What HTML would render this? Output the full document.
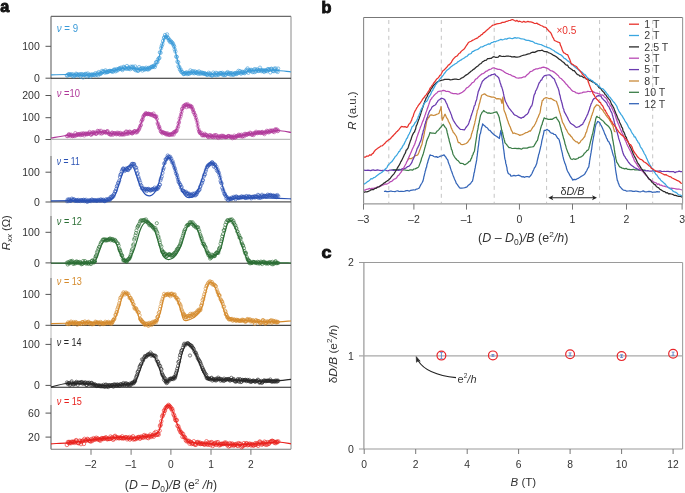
<!DOCTYPE html>
<html><head><meta charset="utf-8"><style>
html,body{margin:0;padding:0;background:#fff;width:685px;height:493px;overflow:hidden}
svg{display:block;will-change:transform}
text{font-family:"Liberation Sans", sans-serif}
</style></head><body>
<svg width="685" height="493" viewBox="0 0 685 493">
<rect width="685" height="493" fill="#fff"/>
<line x1="51" y1="16.4" x2="51" y2="449.2" stroke="#b8b8b8" stroke-width="1"/>
<line x1="51" y1="16.4" x2="51" y2="78.2" stroke="#808080" stroke-width="1.1"/>
<line x1="51" y1="95.5" x2="51" y2="139.5" stroke="#808080" stroke-width="1.1"/>
<line x1="51" y1="156" x2="51" y2="202" stroke="#808080" stroke-width="1.1"/>
<line x1="51" y1="216" x2="51" y2="263" stroke="#808080" stroke-width="1.1"/>
<line x1="51" y1="278" x2="51" y2="325.4" stroke="#808080" stroke-width="1.1"/>
<line x1="51" y1="338" x2="51" y2="387.3" stroke="#808080" stroke-width="1.1"/>
<line x1="51" y1="405" x2="51" y2="449.2" stroke="#808080" stroke-width="1.1"/>
<line x1="51" y1="16.4" x2="291" y2="16.4" stroke="#6a6a6a" stroke-width="1.1"/>
<line x1="291" y1="16.4" x2="291" y2="449.2" stroke="#8a8a8a" stroke-width="1"/>
<line x1="51" y1="449.2" x2="291" y2="449.2" stroke="#777" stroke-width="1.1"/>
<line x1="91" y1="449.2" x2="91" y2="454.8" stroke="#777" stroke-width="1"/>
<text x="91" y="468.2" font-size="10.2" text-anchor="middle" fill="#333">–2</text>
<line x1="131.1" y1="449.2" x2="131.1" y2="454.8" stroke="#777" stroke-width="1"/>
<text x="131.1" y="468.2" font-size="10.2" text-anchor="middle" fill="#333">–1</text>
<line x1="170.9" y1="449.2" x2="170.9" y2="454.8" stroke="#777" stroke-width="1"/>
<text x="170.9" y="468.2" font-size="10.2" text-anchor="middle" fill="#333">0</text>
<line x1="211" y1="449.2" x2="211" y2="454.8" stroke="#777" stroke-width="1"/>
<text x="211" y="468.2" font-size="10.2" text-anchor="middle" fill="#333">1</text>
<line x1="250.9" y1="449.2" x2="250.9" y2="454.8" stroke="#777" stroke-width="1"/>
<text x="250.9" y="468.2" font-size="10.2" text-anchor="middle" fill="#333">2</text>
<line x1="51" y1="78.2" x2="291" y2="78.2" stroke="#222" stroke-width="1.1"/>
<line x1="45.5" y1="46.3" x2="51" y2="46.3" stroke="#555" stroke-width="1"/>
<text x="39.8" y="50.0" font-size="10.5" text-anchor="end" fill="#333">100</text>
<line x1="45.5" y1="78.2" x2="51" y2="78.2" stroke="#555" stroke-width="1"/>
<text x="39.8" y="81.9" font-size="10.5" text-anchor="end" fill="#333">0</text>
<text x="56.8" y="32.0" font-size="10.7" textLength="21.3" lengthAdjust="spacingAndGlyphs" fill="#3a9ad8"><tspan font-style="italic">ν</tspan> = 9</text>
<path d="M65.2 75.3a1.7 1.7 0 1 0 3.4 0a1.7 1.7 0 1 0 -3.4 0M65.8 75.6a1.7 1.7 0 1 0 3.4 0a1.7 1.7 0 1 0 -3.4 0M66.6 74.3a1.7 1.7 0 1 0 3.4 0a1.7 1.7 0 1 0 -3.4 0M67.3 74.8a1.7 1.7 0 1 0 3.4 0a1.7 1.7 0 1 0 -3.4 0M67.7 74.2a1.7 1.7 0 1 0 3.4 0a1.7 1.7 0 1 0 -3.4 0M68.4 74.7a1.7 1.7 0 1 0 3.4 0a1.7 1.7 0 1 0 -3.4 0M69.2 74.8a1.7 1.7 0 1 0 3.4 0a1.7 1.7 0 1 0 -3.4 0M69.7 74.2a1.7 1.7 0 1 0 3.4 0a1.7 1.7 0 1 0 -3.4 0M70.6 75.8a1.7 1.7 0 1 0 3.4 0a1.7 1.7 0 1 0 -3.4 0M71.1 74.3a1.7 1.7 0 1 0 3.4 0a1.7 1.7 0 1 0 -3.4 0M72.0 76.4a1.7 1.7 0 1 0 3.4 0a1.7 1.7 0 1 0 -3.4 0M72.4 75.3a1.7 1.7 0 1 0 3.4 0a1.7 1.7 0 1 0 -3.4 0M73.0 75.3a1.7 1.7 0 1 0 3.4 0a1.7 1.7 0 1 0 -3.4 0M73.9 75.3a1.7 1.7 0 1 0 3.4 0a1.7 1.7 0 1 0 -3.4 0M74.3 73.7a1.7 1.7 0 1 0 3.4 0a1.7 1.7 0 1 0 -3.4 0M75.0 74.2a1.7 1.7 0 1 0 3.4 0a1.7 1.7 0 1 0 -3.4 0M75.7 75.2a1.7 1.7 0 1 0 3.4 0a1.7 1.7 0 1 0 -3.4 0M76.2 75.1a1.7 1.7 0 1 0 3.4 0a1.7 1.7 0 1 0 -3.4 0M77.1 74.3a1.7 1.7 0 1 0 3.4 0a1.7 1.7 0 1 0 -3.4 0M77.7 75.3a1.7 1.7 0 1 0 3.4 0a1.7 1.7 0 1 0 -3.4 0M78.3 74.5a1.7 1.7 0 1 0 3.4 0a1.7 1.7 0 1 0 -3.4 0M79.0 76.5a1.7 1.7 0 1 0 3.4 0a1.7 1.7 0 1 0 -3.4 0M79.5 74.1a1.7 1.7 0 1 0 3.4 0a1.7 1.7 0 1 0 -3.4 0M80.4 74.6a1.7 1.7 0 1 0 3.4 0a1.7 1.7 0 1 0 -3.4 0M81.0 74.5a1.7 1.7 0 1 0 3.4 0a1.7 1.7 0 1 0 -3.4 0M81.4 77.5a1.7 1.7 0 1 0 3.4 0a1.7 1.7 0 1 0 -3.4 0M82.2 75.1a1.7 1.7 0 1 0 3.4 0a1.7 1.7 0 1 0 -3.4 0M82.8 74.6a1.7 1.7 0 1 0 3.4 0a1.7 1.7 0 1 0 -3.4 0M83.3 74.4a1.7 1.7 0 1 0 3.4 0a1.7 1.7 0 1 0 -3.4 0M84.2 73.8a1.7 1.7 0 1 0 3.4 0a1.7 1.7 0 1 0 -3.4 0M85.0 74.6a1.7 1.7 0 1 0 3.4 0a1.7 1.7 0 1 0 -3.4 0M85.5 76.4a1.7 1.7 0 1 0 3.4 0a1.7 1.7 0 1 0 -3.4 0M86.1 73.5a1.7 1.7 0 1 0 3.4 0a1.7 1.7 0 1 0 -3.4 0M86.9 75.6a1.7 1.7 0 1 0 3.4 0a1.7 1.7 0 1 0 -3.4 0M87.4 74.9a1.7 1.7 0 1 0 3.4 0a1.7 1.7 0 1 0 -3.4 0M88.1 74.7a1.7 1.7 0 1 0 3.4 0a1.7 1.7 0 1 0 -3.4 0M88.8 76.6a1.7 1.7 0 1 0 3.4 0a1.7 1.7 0 1 0 -3.4 0M89.3 74.8a1.7 1.7 0 1 0 3.4 0a1.7 1.7 0 1 0 -3.4 0M90.0 74.7a1.7 1.7 0 1 0 3.4 0a1.7 1.7 0 1 0 -3.4 0M90.6 74.6a1.7 1.7 0 1 0 3.4 0a1.7 1.7 0 1 0 -3.4 0M91.2 74.9a1.7 1.7 0 1 0 3.4 0a1.7 1.7 0 1 0 -3.4 0M92.1 74.8a1.7 1.7 0 1 0 3.4 0a1.7 1.7 0 1 0 -3.4 0M92.5 74.5a1.7 1.7 0 1 0 3.4 0a1.7 1.7 0 1 0 -3.4 0M93.4 75.3a1.7 1.7 0 1 0 3.4 0a1.7 1.7 0 1 0 -3.4 0M93.7 73.2a1.7 1.7 0 1 0 3.4 0a1.7 1.7 0 1 0 -3.4 0M94.7 74.5a1.7 1.7 0 1 0 3.4 0a1.7 1.7 0 1 0 -3.4 0M95.3 74.5a1.7 1.7 0 1 0 3.4 0a1.7 1.7 0 1 0 -3.4 0M95.8 73.3a1.7 1.7 0 1 0 3.4 0a1.7 1.7 0 1 0 -3.4 0M96.4 75.4a1.7 1.7 0 1 0 3.4 0a1.7 1.7 0 1 0 -3.4 0M97.0 72.1a1.7 1.7 0 1 0 3.4 0a1.7 1.7 0 1 0 -3.4 0M97.7 73.6a1.7 1.7 0 1 0 3.4 0a1.7 1.7 0 1 0 -3.4 0M98.4 74.0a1.7 1.7 0 1 0 3.4 0a1.7 1.7 0 1 0 -3.4 0M99.1 73.2a1.7 1.7 0 1 0 3.4 0a1.7 1.7 0 1 0 -3.4 0M99.7 73.2a1.7 1.7 0 1 0 3.4 0a1.7 1.7 0 1 0 -3.4 0M100.3 70.9a1.7 1.7 0 1 0 3.4 0a1.7 1.7 0 1 0 -3.4 0M101.1 71.9a1.7 1.7 0 1 0 3.4 0a1.7 1.7 0 1 0 -3.4 0M101.7 71.6a1.7 1.7 0 1 0 3.4 0a1.7 1.7 0 1 0 -3.4 0M102.2 71.6a1.7 1.7 0 1 0 3.4 0a1.7 1.7 0 1 0 -3.4 0M103.2 72.7a1.7 1.7 0 1 0 3.4 0a1.7 1.7 0 1 0 -3.4 0M103.8 70.3a1.7 1.7 0 1 0 3.4 0a1.7 1.7 0 1 0 -3.4 0M104.3 71.6a1.7 1.7 0 1 0 3.4 0a1.7 1.7 0 1 0 -3.4 0M105.0 72.1a1.7 1.7 0 1 0 3.4 0a1.7 1.7 0 1 0 -3.4 0M105.4 72.2a1.7 1.7 0 1 0 3.4 0a1.7 1.7 0 1 0 -3.4 0M106.1 71.7a1.7 1.7 0 1 0 3.4 0a1.7 1.7 0 1 0 -3.4 0M106.8 71.4a1.7 1.7 0 1 0 3.4 0a1.7 1.7 0 1 0 -3.4 0M107.4 71.2a1.7 1.7 0 1 0 3.4 0a1.7 1.7 0 1 0 -3.4 0M108.0 70.9a1.7 1.7 0 1 0 3.4 0a1.7 1.7 0 1 0 -3.4 0M109.0 71.0a1.7 1.7 0 1 0 3.4 0a1.7 1.7 0 1 0 -3.4 0M109.5 71.1a1.7 1.7 0 1 0 3.4 0a1.7 1.7 0 1 0 -3.4 0M110.1 71.1a1.7 1.7 0 1 0 3.4 0a1.7 1.7 0 1 0 -3.4 0M110.7 71.7a1.7 1.7 0 1 0 3.4 0a1.7 1.7 0 1 0 -3.4 0M111.6 71.5a1.7 1.7 0 1 0 3.4 0a1.7 1.7 0 1 0 -3.4 0M112.1 69.7a1.7 1.7 0 1 0 3.4 0a1.7 1.7 0 1 0 -3.4 0M112.6 70.0a1.7 1.7 0 1 0 3.4 0a1.7 1.7 0 1 0 -3.4 0M113.3 69.6a1.7 1.7 0 1 0 3.4 0a1.7 1.7 0 1 0 -3.4 0M113.9 71.3a1.7 1.7 0 1 0 3.4 0a1.7 1.7 0 1 0 -3.4 0M114.5 70.5a1.7 1.7 0 1 0 3.4 0a1.7 1.7 0 1 0 -3.4 0M115.2 69.0a1.7 1.7 0 1 0 3.4 0a1.7 1.7 0 1 0 -3.4 0M116.0 70.3a1.7 1.7 0 1 0 3.4 0a1.7 1.7 0 1 0 -3.4 0M116.8 69.3a1.7 1.7 0 1 0 3.4 0a1.7 1.7 0 1 0 -3.4 0M117.4 68.7a1.7 1.7 0 1 0 3.4 0a1.7 1.7 0 1 0 -3.4 0M117.9 68.2a1.7 1.7 0 1 0 3.4 0a1.7 1.7 0 1 0 -3.4 0M118.5 68.9a1.7 1.7 0 1 0 3.4 0a1.7 1.7 0 1 0 -3.4 0M119.4 67.6a1.7 1.7 0 1 0 3.4 0a1.7 1.7 0 1 0 -3.4 0M119.8 68.8a1.7 1.7 0 1 0 3.4 0a1.7 1.7 0 1 0 -3.4 0M120.7 70.1a1.7 1.7 0 1 0 3.4 0a1.7 1.7 0 1 0 -3.4 0M121.3 69.0a1.7 1.7 0 1 0 3.4 0a1.7 1.7 0 1 0 -3.4 0M121.9 66.8a1.7 1.7 0 1 0 3.4 0a1.7 1.7 0 1 0 -3.4 0M122.4 67.4a1.7 1.7 0 1 0 3.4 0a1.7 1.7 0 1 0 -3.4 0M123.0 68.1a1.7 1.7 0 1 0 3.4 0a1.7 1.7 0 1 0 -3.4 0M123.6 68.0a1.7 1.7 0 1 0 3.4 0a1.7 1.7 0 1 0 -3.4 0M124.5 68.8a1.7 1.7 0 1 0 3.4 0a1.7 1.7 0 1 0 -3.4 0M125.3 66.0a1.7 1.7 0 1 0 3.4 0a1.7 1.7 0 1 0 -3.4 0M125.9 68.7a1.7 1.7 0 1 0 3.4 0a1.7 1.7 0 1 0 -3.4 0M126.6 67.6a1.7 1.7 0 1 0 3.4 0a1.7 1.7 0 1 0 -3.4 0M126.9 68.5a1.7 1.7 0 1 0 3.4 0a1.7 1.7 0 1 0 -3.4 0M127.6 68.3a1.7 1.7 0 1 0 3.4 0a1.7 1.7 0 1 0 -3.4 0M128.5 69.2a1.7 1.7 0 1 0 3.4 0a1.7 1.7 0 1 0 -3.4 0M129.1 66.7a1.7 1.7 0 1 0 3.4 0a1.7 1.7 0 1 0 -3.4 0M129.8 68.3a1.7 1.7 0 1 0 3.4 0a1.7 1.7 0 1 0 -3.4 0M130.1 67.1a1.7 1.7 0 1 0 3.4 0a1.7 1.7 0 1 0 -3.4 0M131.1 66.6a1.7 1.7 0 1 0 3.4 0a1.7 1.7 0 1 0 -3.4 0M131.7 67.8a1.7 1.7 0 1 0 3.4 0a1.7 1.7 0 1 0 -3.4 0M132.4 68.6a1.7 1.7 0 1 0 3.4 0a1.7 1.7 0 1 0 -3.4 0M132.8 69.4a1.7 1.7 0 1 0 3.4 0a1.7 1.7 0 1 0 -3.4 0M133.5 66.5a1.7 1.7 0 1 0 3.4 0a1.7 1.7 0 1 0 -3.4 0M134.2 70.3a1.7 1.7 0 1 0 3.4 0a1.7 1.7 0 1 0 -3.4 0M134.7 68.6a1.7 1.7 0 1 0 3.4 0a1.7 1.7 0 1 0 -3.4 0M135.4 70.3a1.7 1.7 0 1 0 3.4 0a1.7 1.7 0 1 0 -3.4 0M136.3 70.8a1.7 1.7 0 1 0 3.4 0a1.7 1.7 0 1 0 -3.4 0M136.7 70.5a1.7 1.7 0 1 0 3.4 0a1.7 1.7 0 1 0 -3.4 0M137.5 67.1a1.7 1.7 0 1 0 3.4 0a1.7 1.7 0 1 0 -3.4 0M138.0 68.9a1.7 1.7 0 1 0 3.4 0a1.7 1.7 0 1 0 -3.4 0M138.6 69.3a1.7 1.7 0 1 0 3.4 0a1.7 1.7 0 1 0 -3.4 0M139.6 68.7a1.7 1.7 0 1 0 3.4 0a1.7 1.7 0 1 0 -3.4 0M140.2 68.5a1.7 1.7 0 1 0 3.4 0a1.7 1.7 0 1 0 -3.4 0M140.7 70.5a1.7 1.7 0 1 0 3.4 0a1.7 1.7 0 1 0 -3.4 0M141.2 68.0a1.7 1.7 0 1 0 3.4 0a1.7 1.7 0 1 0 -3.4 0M141.9 69.0a1.7 1.7 0 1 0 3.4 0a1.7 1.7 0 1 0 -3.4 0M142.7 69.7a1.7 1.7 0 1 0 3.4 0a1.7 1.7 0 1 0 -3.4 0M143.2 68.6a1.7 1.7 0 1 0 3.4 0a1.7 1.7 0 1 0 -3.4 0M144.1 69.1a1.7 1.7 0 1 0 3.4 0a1.7 1.7 0 1 0 -3.4 0M144.5 67.7a1.7 1.7 0 1 0 3.4 0a1.7 1.7 0 1 0 -3.4 0M145.4 69.0a1.7 1.7 0 1 0 3.4 0a1.7 1.7 0 1 0 -3.4 0M145.9 69.5a1.7 1.7 0 1 0 3.4 0a1.7 1.7 0 1 0 -3.4 0M146.6 67.9a1.7 1.7 0 1 0 3.4 0a1.7 1.7 0 1 0 -3.4 0M147.2 69.2a1.7 1.7 0 1 0 3.4 0a1.7 1.7 0 1 0 -3.4 0M147.7 68.2a1.7 1.7 0 1 0 3.4 0a1.7 1.7 0 1 0 -3.4 0M148.3 68.1a1.7 1.7 0 1 0 3.4 0a1.7 1.7 0 1 0 -3.4 0M149.1 67.2a1.7 1.7 0 1 0 3.4 0a1.7 1.7 0 1 0 -3.4 0M149.9 66.7a1.7 1.7 0 1 0 3.4 0a1.7 1.7 0 1 0 -3.4 0M150.5 66.9a1.7 1.7 0 1 0 3.4 0a1.7 1.7 0 1 0 -3.4 0M151.1 67.0a1.7 1.7 0 1 0 3.4 0a1.7 1.7 0 1 0 -3.4 0M151.8 66.1a1.7 1.7 0 1 0 3.4 0a1.7 1.7 0 1 0 -3.4 0M152.3 65.7a1.7 1.7 0 1 0 3.4 0a1.7 1.7 0 1 0 -3.4 0M153.1 67.0a1.7 1.7 0 1 0 3.4 0a1.7 1.7 0 1 0 -3.4 0M153.7 64.9a1.7 1.7 0 1 0 3.4 0a1.7 1.7 0 1 0 -3.4 0M154.3 62.2a1.7 1.7 0 1 0 3.4 0a1.7 1.7 0 1 0 -3.4 0M155.0 62.2a1.7 1.7 0 1 0 3.4 0a1.7 1.7 0 1 0 -3.4 0M155.7 62.1a1.7 1.7 0 1 0 3.4 0a1.7 1.7 0 1 0 -3.4 0M156.3 59.6a1.7 1.7 0 1 0 3.4 0a1.7 1.7 0 1 0 -3.4 0M157.1 58.4a1.7 1.7 0 1 0 3.4 0a1.7 1.7 0 1 0 -3.4 0M157.7 57.9a1.7 1.7 0 1 0 3.4 0a1.7 1.7 0 1 0 -3.4 0M158.2 52.3a1.7 1.7 0 1 0 3.4 0a1.7 1.7 0 1 0 -3.4 0M158.9 52.8a1.7 1.7 0 1 0 3.4 0a1.7 1.7 0 1 0 -3.4 0M159.4 48.2a1.7 1.7 0 1 0 3.4 0a1.7 1.7 0 1 0 -3.4 0M160.0 46.0a1.7 1.7 0 1 0 3.4 0a1.7 1.7 0 1 0 -3.4 0M160.7 44.1a1.7 1.7 0 1 0 3.4 0a1.7 1.7 0 1 0 -3.4 0M161.3 41.0a1.7 1.7 0 1 0 3.4 0a1.7 1.7 0 1 0 -3.4 0M162.3 38.1a1.7 1.7 0 1 0 3.4 0a1.7 1.7 0 1 0 -3.4 0M162.7 37.2a1.7 1.7 0 1 0 3.4 0a1.7 1.7 0 1 0 -3.4 0M163.3 35.0a1.7 1.7 0 1 0 3.4 0a1.7 1.7 0 1 0 -3.4 0M164.3 36.7a1.7 1.7 0 1 0 3.4 0a1.7 1.7 0 1 0 -3.4 0M164.9 36.4a1.7 1.7 0 1 0 3.4 0a1.7 1.7 0 1 0 -3.4 0M165.4 34.4a1.7 1.7 0 1 0 3.4 0a1.7 1.7 0 1 0 -3.4 0M166.2 38.2a1.7 1.7 0 1 0 3.4 0a1.7 1.7 0 1 0 -3.4 0M166.6 38.1a1.7 1.7 0 1 0 3.4 0a1.7 1.7 0 1 0 -3.4 0M167.3 40.5a1.7 1.7 0 1 0 3.4 0a1.7 1.7 0 1 0 -3.4 0M167.9 39.9a1.7 1.7 0 1 0 3.4 0a1.7 1.7 0 1 0 -3.4 0M168.5 42.2a1.7 1.7 0 1 0 3.4 0a1.7 1.7 0 1 0 -3.4 0M169.3 41.3a1.7 1.7 0 1 0 3.4 0a1.7 1.7 0 1 0 -3.4 0M169.9 42.3a1.7 1.7 0 1 0 3.4 0a1.7 1.7 0 1 0 -3.4 0M170.6 42.7a1.7 1.7 0 1 0 3.4 0a1.7 1.7 0 1 0 -3.4 0M171.4 44.0a1.7 1.7 0 1 0 3.4 0a1.7 1.7 0 1 0 -3.4 0M172.0 45.5a1.7 1.7 0 1 0 3.4 0a1.7 1.7 0 1 0 -3.4 0M172.5 46.6a1.7 1.7 0 1 0 3.4 0a1.7 1.7 0 1 0 -3.4 0M173.0 49.3a1.7 1.7 0 1 0 3.4 0a1.7 1.7 0 1 0 -3.4 0M173.7 51.5a1.7 1.7 0 1 0 3.4 0a1.7 1.7 0 1 0 -3.4 0M174.5 56.5a1.7 1.7 0 1 0 3.4 0a1.7 1.7 0 1 0 -3.4 0M175.1 57.0a1.7 1.7 0 1 0 3.4 0a1.7 1.7 0 1 0 -3.4 0M175.7 61.6a1.7 1.7 0 1 0 3.4 0a1.7 1.7 0 1 0 -3.4 0M176.5 62.3a1.7 1.7 0 1 0 3.4 0a1.7 1.7 0 1 0 -3.4 0M176.9 66.2a1.7 1.7 0 1 0 3.4 0a1.7 1.7 0 1 0 -3.4 0M177.7 67.3a1.7 1.7 0 1 0 3.4 0a1.7 1.7 0 1 0 -3.4 0M178.2 69.7a1.7 1.7 0 1 0 3.4 0a1.7 1.7 0 1 0 -3.4 0M179.2 69.7a1.7 1.7 0 1 0 3.4 0a1.7 1.7 0 1 0 -3.4 0M179.5 71.8a1.7 1.7 0 1 0 3.4 0a1.7 1.7 0 1 0 -3.4 0M180.5 72.4a1.7 1.7 0 1 0 3.4 0a1.7 1.7 0 1 0 -3.4 0M181.0 72.3a1.7 1.7 0 1 0 3.4 0a1.7 1.7 0 1 0 -3.4 0M181.8 74.0a1.7 1.7 0 1 0 3.4 0a1.7 1.7 0 1 0 -3.4 0M182.2 73.8a1.7 1.7 0 1 0 3.4 0a1.7 1.7 0 1 0 -3.4 0M182.8 73.8a1.7 1.7 0 1 0 3.4 0a1.7 1.7 0 1 0 -3.4 0M183.4 73.1a1.7 1.7 0 1 0 3.4 0a1.7 1.7 0 1 0 -3.4 0M184.1 73.1a1.7 1.7 0 1 0 3.4 0a1.7 1.7 0 1 0 -3.4 0M184.8 72.3a1.7 1.7 0 1 0 3.4 0a1.7 1.7 0 1 0 -3.4 0M185.5 74.1a1.7 1.7 0 1 0 3.4 0a1.7 1.7 0 1 0 -3.4 0M186.2 73.0a1.7 1.7 0 1 0 3.4 0a1.7 1.7 0 1 0 -3.4 0M186.7 73.3a1.7 1.7 0 1 0 3.4 0a1.7 1.7 0 1 0 -3.4 0M187.4 74.0a1.7 1.7 0 1 0 3.4 0a1.7 1.7 0 1 0 -3.4 0M188.2 72.6a1.7 1.7 0 1 0 3.4 0a1.7 1.7 0 1 0 -3.4 0M188.7 70.4a1.7 1.7 0 1 0 3.4 0a1.7 1.7 0 1 0 -3.4 0M189.3 72.8a1.7 1.7 0 1 0 3.4 0a1.7 1.7 0 1 0 -3.4 0M190.2 71.6a1.7 1.7 0 1 0 3.4 0a1.7 1.7 0 1 0 -3.4 0M190.9 73.0a1.7 1.7 0 1 0 3.4 0a1.7 1.7 0 1 0 -3.4 0M191.4 71.2a1.7 1.7 0 1 0 3.4 0a1.7 1.7 0 1 0 -3.4 0M192.2 72.5a1.7 1.7 0 1 0 3.4 0a1.7 1.7 0 1 0 -3.4 0M192.6 73.3a1.7 1.7 0 1 0 3.4 0a1.7 1.7 0 1 0 -3.4 0M193.4 71.4a1.7 1.7 0 1 0 3.4 0a1.7 1.7 0 1 0 -3.4 0M194.0 72.5a1.7 1.7 0 1 0 3.4 0a1.7 1.7 0 1 0 -3.4 0M194.5 73.0a1.7 1.7 0 1 0 3.4 0a1.7 1.7 0 1 0 -3.4 0M195.1 72.7a1.7 1.7 0 1 0 3.4 0a1.7 1.7 0 1 0 -3.4 0M195.8 72.1a1.7 1.7 0 1 0 3.4 0a1.7 1.7 0 1 0 -3.4 0M196.4 73.8a1.7 1.7 0 1 0 3.4 0a1.7 1.7 0 1 0 -3.4 0M197.3 71.4a1.7 1.7 0 1 0 3.4 0a1.7 1.7 0 1 0 -3.4 0M197.8 73.0a1.7 1.7 0 1 0 3.4 0a1.7 1.7 0 1 0 -3.4 0M198.5 73.8a1.7 1.7 0 1 0 3.4 0a1.7 1.7 0 1 0 -3.4 0M199.1 72.4a1.7 1.7 0 1 0 3.4 0a1.7 1.7 0 1 0 -3.4 0M200.0 73.4a1.7 1.7 0 1 0 3.4 0a1.7 1.7 0 1 0 -3.4 0M200.7 72.7a1.7 1.7 0 1 0 3.4 0a1.7 1.7 0 1 0 -3.4 0M201.3 73.2a1.7 1.7 0 1 0 3.4 0a1.7 1.7 0 1 0 -3.4 0M201.7 73.5a1.7 1.7 0 1 0 3.4 0a1.7 1.7 0 1 0 -3.4 0M202.4 73.7a1.7 1.7 0 1 0 3.4 0a1.7 1.7 0 1 0 -3.4 0M203.1 73.2a1.7 1.7 0 1 0 3.4 0a1.7 1.7 0 1 0 -3.4 0M203.8 73.9a1.7 1.7 0 1 0 3.4 0a1.7 1.7 0 1 0 -3.4 0M204.2 74.0a1.7 1.7 0 1 0 3.4 0a1.7 1.7 0 1 0 -3.4 0M205.0 74.5a1.7 1.7 0 1 0 3.4 0a1.7 1.7 0 1 0 -3.4 0M205.5 74.9a1.7 1.7 0 1 0 3.4 0a1.7 1.7 0 1 0 -3.4 0M206.2 74.3a1.7 1.7 0 1 0 3.4 0a1.7 1.7 0 1 0 -3.4 0M207.0 72.8a1.7 1.7 0 1 0 3.4 0a1.7 1.7 0 1 0 -3.4 0M207.7 74.0a1.7 1.7 0 1 0 3.4 0a1.7 1.7 0 1 0 -3.4 0M208.4 74.9a1.7 1.7 0 1 0 3.4 0a1.7 1.7 0 1 0 -3.4 0M208.9 73.7a1.7 1.7 0 1 0 3.4 0a1.7 1.7 0 1 0 -3.4 0M209.8 75.2a1.7 1.7 0 1 0 3.4 0a1.7 1.7 0 1 0 -3.4 0M210.3 75.5a1.7 1.7 0 1 0 3.4 0a1.7 1.7 0 1 0 -3.4 0M210.7 75.3a1.7 1.7 0 1 0 3.4 0a1.7 1.7 0 1 0 -3.4 0M211.6 72.6a1.7 1.7 0 1 0 3.4 0a1.7 1.7 0 1 0 -3.4 0M212.3 74.4a1.7 1.7 0 1 0 3.4 0a1.7 1.7 0 1 0 -3.4 0M212.9 73.8a1.7 1.7 0 1 0 3.4 0a1.7 1.7 0 1 0 -3.4 0M213.5 75.0a1.7 1.7 0 1 0 3.4 0a1.7 1.7 0 1 0 -3.4 0M214.3 72.8a1.7 1.7 0 1 0 3.4 0a1.7 1.7 0 1 0 -3.4 0M214.8 75.2a1.7 1.7 0 1 0 3.4 0a1.7 1.7 0 1 0 -3.4 0M215.5 73.3a1.7 1.7 0 1 0 3.4 0a1.7 1.7 0 1 0 -3.4 0M216.0 74.6a1.7 1.7 0 1 0 3.4 0a1.7 1.7 0 1 0 -3.4 0M216.7 74.1a1.7 1.7 0 1 0 3.4 0a1.7 1.7 0 1 0 -3.4 0M217.2 74.6a1.7 1.7 0 1 0 3.4 0a1.7 1.7 0 1 0 -3.4 0M218.1 73.0a1.7 1.7 0 1 0 3.4 0a1.7 1.7 0 1 0 -3.4 0M218.8 73.5a1.7 1.7 0 1 0 3.4 0a1.7 1.7 0 1 0 -3.4 0M219.2 73.0a1.7 1.7 0 1 0 3.4 0a1.7 1.7 0 1 0 -3.4 0M220.1 73.9a1.7 1.7 0 1 0 3.4 0a1.7 1.7 0 1 0 -3.4 0M220.7 72.8a1.7 1.7 0 1 0 3.4 0a1.7 1.7 0 1 0 -3.4 0M221.4 75.1a1.7 1.7 0 1 0 3.4 0a1.7 1.7 0 1 0 -3.4 0M221.9 74.4a1.7 1.7 0 1 0 3.4 0a1.7 1.7 0 1 0 -3.4 0M222.4 73.6a1.7 1.7 0 1 0 3.4 0a1.7 1.7 0 1 0 -3.4 0M223.1 75.1a1.7 1.7 0 1 0 3.4 0a1.7 1.7 0 1 0 -3.4 0M224.0 74.7a1.7 1.7 0 1 0 3.4 0a1.7 1.7 0 1 0 -3.4 0M224.5 73.5a1.7 1.7 0 1 0 3.4 0a1.7 1.7 0 1 0 -3.4 0M225.2 73.0a1.7 1.7 0 1 0 3.4 0a1.7 1.7 0 1 0 -3.4 0M225.9 72.1a1.7 1.7 0 1 0 3.4 0a1.7 1.7 0 1 0 -3.4 0M226.6 73.9a1.7 1.7 0 1 0 3.4 0a1.7 1.7 0 1 0 -3.4 0M227.1 73.7a1.7 1.7 0 1 0 3.4 0a1.7 1.7 0 1 0 -3.4 0M227.9 73.0a1.7 1.7 0 1 0 3.4 0a1.7 1.7 0 1 0 -3.4 0M228.3 74.5a1.7 1.7 0 1 0 3.4 0a1.7 1.7 0 1 0 -3.4 0M228.9 73.2a1.7 1.7 0 1 0 3.4 0a1.7 1.7 0 1 0 -3.4 0M229.8 74.7a1.7 1.7 0 1 0 3.4 0a1.7 1.7 0 1 0 -3.4 0M230.5 73.0a1.7 1.7 0 1 0 3.4 0a1.7 1.7 0 1 0 -3.4 0M231.0 74.3a1.7 1.7 0 1 0 3.4 0a1.7 1.7 0 1 0 -3.4 0M231.7 74.6a1.7 1.7 0 1 0 3.4 0a1.7 1.7 0 1 0 -3.4 0M232.2 74.5a1.7 1.7 0 1 0 3.4 0a1.7 1.7 0 1 0 -3.4 0M233.2 73.3a1.7 1.7 0 1 0 3.4 0a1.7 1.7 0 1 0 -3.4 0M233.6 73.1a1.7 1.7 0 1 0 3.4 0a1.7 1.7 0 1 0 -3.4 0M234.4 74.1a1.7 1.7 0 1 0 3.4 0a1.7 1.7 0 1 0 -3.4 0M234.9 72.9a1.7 1.7 0 1 0 3.4 0a1.7 1.7 0 1 0 -3.4 0M235.5 73.7a1.7 1.7 0 1 0 3.4 0a1.7 1.7 0 1 0 -3.4 0M236.3 72.8a1.7 1.7 0 1 0 3.4 0a1.7 1.7 0 1 0 -3.4 0M236.8 70.8a1.7 1.7 0 1 0 3.4 0a1.7 1.7 0 1 0 -3.4 0M237.4 72.6a1.7 1.7 0 1 0 3.4 0a1.7 1.7 0 1 0 -3.4 0M238.3 71.1a1.7 1.7 0 1 0 3.4 0a1.7 1.7 0 1 0 -3.4 0M238.9 72.8a1.7 1.7 0 1 0 3.4 0a1.7 1.7 0 1 0 -3.4 0M239.4 73.7a1.7 1.7 0 1 0 3.4 0a1.7 1.7 0 1 0 -3.4 0M240.0 72.2a1.7 1.7 0 1 0 3.4 0a1.7 1.7 0 1 0 -3.4 0M240.6 71.8a1.7 1.7 0 1 0 3.4 0a1.7 1.7 0 1 0 -3.4 0M241.4 72.8a1.7 1.7 0 1 0 3.4 0a1.7 1.7 0 1 0 -3.4 0M242.0 72.2a1.7 1.7 0 1 0 3.4 0a1.7 1.7 0 1 0 -3.4 0M242.9 73.2a1.7 1.7 0 1 0 3.4 0a1.7 1.7 0 1 0 -3.4 0M243.2 72.5a1.7 1.7 0 1 0 3.4 0a1.7 1.7 0 1 0 -3.4 0M243.9 70.6a1.7 1.7 0 1 0 3.4 0a1.7 1.7 0 1 0 -3.4 0M244.9 71.7a1.7 1.7 0 1 0 3.4 0a1.7 1.7 0 1 0 -3.4 0M245.3 69.8a1.7 1.7 0 1 0 3.4 0a1.7 1.7 0 1 0 -3.4 0M245.9 68.4a1.7 1.7 0 1 0 3.4 0a1.7 1.7 0 1 0 -3.4 0M246.7 72.8a1.7 1.7 0 1 0 3.4 0a1.7 1.7 0 1 0 -3.4 0M247.2 70.0a1.7 1.7 0 1 0 3.4 0a1.7 1.7 0 1 0 -3.4 0M247.8 70.9a1.7 1.7 0 1 0 3.4 0a1.7 1.7 0 1 0 -3.4 0M248.4 70.8a1.7 1.7 0 1 0 3.4 0a1.7 1.7 0 1 0 -3.4 0M249.4 69.8a1.7 1.7 0 1 0 3.4 0a1.7 1.7 0 1 0 -3.4 0M249.8 70.3a1.7 1.7 0 1 0 3.4 0a1.7 1.7 0 1 0 -3.4 0M250.4 71.4a1.7 1.7 0 1 0 3.4 0a1.7 1.7 0 1 0 -3.4 0M251.1 72.1a1.7 1.7 0 1 0 3.4 0a1.7 1.7 0 1 0 -3.4 0M252.0 69.8a1.7 1.7 0 1 0 3.4 0a1.7 1.7 0 1 0 -3.4 0M252.6 72.1a1.7 1.7 0 1 0 3.4 0a1.7 1.7 0 1 0 -3.4 0M253.2 69.1a1.7 1.7 0 1 0 3.4 0a1.7 1.7 0 1 0 -3.4 0M253.9 71.6a1.7 1.7 0 1 0 3.4 0a1.7 1.7 0 1 0 -3.4 0M254.4 70.7a1.7 1.7 0 1 0 3.4 0a1.7 1.7 0 1 0 -3.4 0M255.2 69.7a1.7 1.7 0 1 0 3.4 0a1.7 1.7 0 1 0 -3.4 0M255.6 69.6a1.7 1.7 0 1 0 3.4 0a1.7 1.7 0 1 0 -3.4 0M256.6 70.9a1.7 1.7 0 1 0 3.4 0a1.7 1.7 0 1 0 -3.4 0M257.0 70.9a1.7 1.7 0 1 0 3.4 0a1.7 1.7 0 1 0 -3.4 0M257.6 70.0a1.7 1.7 0 1 0 3.4 0a1.7 1.7 0 1 0 -3.4 0M258.3 67.7a1.7 1.7 0 1 0 3.4 0a1.7 1.7 0 1 0 -3.4 0M259.1 69.8a1.7 1.7 0 1 0 3.4 0a1.7 1.7 0 1 0 -3.4 0M259.6 71.2a1.7 1.7 0 1 0 3.4 0a1.7 1.7 0 1 0 -3.4 0M260.2 70.5a1.7 1.7 0 1 0 3.4 0a1.7 1.7 0 1 0 -3.4 0M261.1 70.6a1.7 1.7 0 1 0 3.4 0a1.7 1.7 0 1 0 -3.4 0M261.6 70.5a1.7 1.7 0 1 0 3.4 0a1.7 1.7 0 1 0 -3.4 0M262.4 72.0a1.7 1.7 0 1 0 3.4 0a1.7 1.7 0 1 0 -3.4 0M262.9 70.5a1.7 1.7 0 1 0 3.4 0a1.7 1.7 0 1 0 -3.4 0M263.4 70.6a1.7 1.7 0 1 0 3.4 0a1.7 1.7 0 1 0 -3.4 0M264.1 70.7a1.7 1.7 0 1 0 3.4 0a1.7 1.7 0 1 0 -3.4 0M264.8 70.5a1.7 1.7 0 1 0 3.4 0a1.7 1.7 0 1 0 -3.4 0M265.5 71.2a1.7 1.7 0 1 0 3.4 0a1.7 1.7 0 1 0 -3.4 0M266.1 69.1a1.7 1.7 0 1 0 3.4 0a1.7 1.7 0 1 0 -3.4 0M266.8 69.2a1.7 1.7 0 1 0 3.4 0a1.7 1.7 0 1 0 -3.4 0M267.4 70.0a1.7 1.7 0 1 0 3.4 0a1.7 1.7 0 1 0 -3.4 0M267.9 69.7a1.7 1.7 0 1 0 3.4 0a1.7 1.7 0 1 0 -3.4 0M268.6 72.4a1.7 1.7 0 1 0 3.4 0a1.7 1.7 0 1 0 -3.4 0M269.4 68.9a1.7 1.7 0 1 0 3.4 0a1.7 1.7 0 1 0 -3.4 0M269.9 68.8a1.7 1.7 0 1 0 3.4 0a1.7 1.7 0 1 0 -3.4 0M270.6 70.1a1.7 1.7 0 1 0 3.4 0a1.7 1.7 0 1 0 -3.4 0M271.3 71.0a1.7 1.7 0 1 0 3.4 0a1.7 1.7 0 1 0 -3.4 0M272.2 71.2a1.7 1.7 0 1 0 3.4 0a1.7 1.7 0 1 0 -3.4 0M272.5 68.7a1.7 1.7 0 1 0 3.4 0a1.7 1.7 0 1 0 -3.4 0M273.1 69.7a1.7 1.7 0 1 0 3.4 0a1.7 1.7 0 1 0 -3.4 0M273.9 68.4a1.7 1.7 0 1 0 3.4 0a1.7 1.7 0 1 0 -3.4 0M274.6 71.2a1.7 1.7 0 1 0 3.4 0a1.7 1.7 0 1 0 -3.4 0M275.4 70.3a1.7 1.7 0 1 0 3.4 0a1.7 1.7 0 1 0 -3.4 0M276.0 71.9a1.7 1.7 0 1 0 3.4 0a1.7 1.7 0 1 0 -3.4 0M276.4 68.6a1.7 1.7 0 1 0 3.4 0a1.7 1.7 0 1 0 -3.4 0" fill="none" stroke="#3a9ad8" stroke-width="0.65" stroke-opacity="0.9"/>
<path d="M51.0,74.9 C53.7,74.8 62.2,74.5 67.0,74.5 C71.8,74.5 76.2,74.9 80.0,75.0 C83.8,75.1 86.7,75.3 90.0,75.0 C93.3,74.7 96.7,74.1 100.0,73.4 C103.3,72.7 106.7,71.8 110.0,71.0 C113.3,70.2 116.7,69.3 120.0,68.8 C123.3,68.3 126.7,67.9 130.0,68.0 C133.3,68.1 136.7,69.4 140.0,69.4 C143.3,69.4 147.5,68.7 150.0,68.0 C152.5,67.3 153.7,66.4 155.0,65.2 C156.3,64.0 157.0,63.2 158.0,60.6 C159.0,58.0 160.2,52.7 161.0,49.7 C161.8,46.7 162.3,44.6 163.0,42.4 C163.7,40.2 164.3,37.4 165.0,36.5 C165.7,35.6 166.3,36.4 167.0,37.0 C167.7,37.6 168.3,39.2 169.0,40.0 C169.7,40.8 170.2,40.5 171.0,41.5 C171.8,42.5 173.2,43.9 174.0,46.0 C174.8,48.1 175.3,51.5 176.0,54.2 C176.7,56.9 177.2,59.6 178.0,62.4 C178.8,65.2 180.2,68.9 181.0,70.7 C181.8,72.5 181.5,72.7 183.0,73.0 C184.5,73.3 187.2,72.5 190.0,72.5 C192.8,72.5 196.7,72.7 200.0,73.0 C203.3,73.3 205.0,74.2 210.0,74.3 C215.0,74.4 224.2,73.7 230.0,73.4 C235.8,73.1 241.7,73.0 245.0,72.5 C248.3,72.0 245.8,70.9 250.0,70.5 C254.2,70.1 265.2,70.1 270.0,70.1 C274.8,70.1 275.1,70.2 278.6,70.5 C282.1,70.8 288.9,71.8 291.0,72.0" fill="none" stroke="#3a9ad8" stroke-width="1.2"/>
<line x1="51" y1="139.4" x2="291" y2="139.4" stroke="#bbb" stroke-width="1.1"/>
<line x1="45.5" y1="95.5" x2="51" y2="95.5" stroke="#555" stroke-width="1"/>
<text x="39.8" y="99.2" font-size="10.5" text-anchor="end" fill="#333">200</text>
<line x1="45.5" y1="117.7" x2="51" y2="117.7" stroke="#555" stroke-width="1"/>
<text x="39.8" y="121.4" font-size="10.5" text-anchor="end" fill="#333">100</text>
<line x1="45.5" y1="139.5" x2="51" y2="139.5" stroke="#555" stroke-width="1"/>
<text x="39.8" y="143.2" font-size="10.5" text-anchor="end" fill="#333">0</text>
<text x="56.8" y="96.7" font-size="10.7" textLength="23.2" lengthAdjust="spacingAndGlyphs" fill="#b0399a"><tspan font-style="italic">ν</tspan> =10</text>
<path d="M65.2 136.0a1.6 1.6 0 1 0 3.2 0a1.6 1.6 0 1 0 -3.2 0M66.1 136.2a1.6 1.6 0 1 0 3.2 0a1.6 1.6 0 1 0 -3.2 0M66.8 135.1a1.6 1.6 0 1 0 3.2 0a1.6 1.6 0 1 0 -3.2 0M67.3 134.1a1.6 1.6 0 1 0 3.2 0a1.6 1.6 0 1 0 -3.2 0M67.8 135.0a1.6 1.6 0 1 0 3.2 0a1.6 1.6 0 1 0 -3.2 0M68.5 135.1a1.6 1.6 0 1 0 3.2 0a1.6 1.6 0 1 0 -3.2 0M68.9 136.2a1.6 1.6 0 1 0 3.2 0a1.6 1.6 0 1 0 -3.2 0M69.5 134.6a1.6 1.6 0 1 0 3.2 0a1.6 1.6 0 1 0 -3.2 0M70.1 135.1a1.6 1.6 0 1 0 3.2 0a1.6 1.6 0 1 0 -3.2 0M70.9 136.3a1.6 1.6 0 1 0 3.2 0a1.6 1.6 0 1 0 -3.2 0M71.2 136.0a1.6 1.6 0 1 0 3.2 0a1.6 1.6 0 1 0 -3.2 0M72.0 135.5a1.6 1.6 0 1 0 3.2 0a1.6 1.6 0 1 0 -3.2 0M72.6 135.3a1.6 1.6 0 1 0 3.2 0a1.6 1.6 0 1 0 -3.2 0M73.0 136.1a1.6 1.6 0 1 0 3.2 0a1.6 1.6 0 1 0 -3.2 0M73.7 133.1a1.6 1.6 0 1 0 3.2 0a1.6 1.6 0 1 0 -3.2 0M74.5 135.5a1.6 1.6 0 1 0 3.2 0a1.6 1.6 0 1 0 -3.2 0M75.2 134.4a1.6 1.6 0 1 0 3.2 0a1.6 1.6 0 1 0 -3.2 0M75.5 135.0a1.6 1.6 0 1 0 3.2 0a1.6 1.6 0 1 0 -3.2 0M76.4 134.7a1.6 1.6 0 1 0 3.2 0a1.6 1.6 0 1 0 -3.2 0M76.6 134.2a1.6 1.6 0 1 0 3.2 0a1.6 1.6 0 1 0 -3.2 0M77.4 134.4a1.6 1.6 0 1 0 3.2 0a1.6 1.6 0 1 0 -3.2 0M77.9 134.0a1.6 1.6 0 1 0 3.2 0a1.6 1.6 0 1 0 -3.2 0M78.7 135.2a1.6 1.6 0 1 0 3.2 0a1.6 1.6 0 1 0 -3.2 0M79.0 134.4a1.6 1.6 0 1 0 3.2 0a1.6 1.6 0 1 0 -3.2 0M79.7 133.5a1.6 1.6 0 1 0 3.2 0a1.6 1.6 0 1 0 -3.2 0M80.3 135.0a1.6 1.6 0 1 0 3.2 0a1.6 1.6 0 1 0 -3.2 0M81.1 134.3a1.6 1.6 0 1 0 3.2 0a1.6 1.6 0 1 0 -3.2 0M81.5 133.3a1.6 1.6 0 1 0 3.2 0a1.6 1.6 0 1 0 -3.2 0M82.4 133.6a1.6 1.6 0 1 0 3.2 0a1.6 1.6 0 1 0 -3.2 0M82.7 135.5a1.6 1.6 0 1 0 3.2 0a1.6 1.6 0 1 0 -3.2 0M83.3 134.1a1.6 1.6 0 1 0 3.2 0a1.6 1.6 0 1 0 -3.2 0M84.2 133.3a1.6 1.6 0 1 0 3.2 0a1.6 1.6 0 1 0 -3.2 0M84.6 134.1a1.6 1.6 0 1 0 3.2 0a1.6 1.6 0 1 0 -3.2 0M85.2 134.3a1.6 1.6 0 1 0 3.2 0a1.6 1.6 0 1 0 -3.2 0M85.9 134.1a1.6 1.6 0 1 0 3.2 0a1.6 1.6 0 1 0 -3.2 0M86.4 133.4a1.6 1.6 0 1 0 3.2 0a1.6 1.6 0 1 0 -3.2 0M86.9 133.9a1.6 1.6 0 1 0 3.2 0a1.6 1.6 0 1 0 -3.2 0M87.4 133.3a1.6 1.6 0 1 0 3.2 0a1.6 1.6 0 1 0 -3.2 0M88.0 131.9a1.6 1.6 0 1 0 3.2 0a1.6 1.6 0 1 0 -3.2 0M89.0 134.2a1.6 1.6 0 1 0 3.2 0a1.6 1.6 0 1 0 -3.2 0M89.5 134.9a1.6 1.6 0 1 0 3.2 0a1.6 1.6 0 1 0 -3.2 0M89.9 133.0a1.6 1.6 0 1 0 3.2 0a1.6 1.6 0 1 0 -3.2 0M90.5 134.1a1.6 1.6 0 1 0 3.2 0a1.6 1.6 0 1 0 -3.2 0M91.0 132.3a1.6 1.6 0 1 0 3.2 0a1.6 1.6 0 1 0 -3.2 0M91.9 132.2a1.6 1.6 0 1 0 3.2 0a1.6 1.6 0 1 0 -3.2 0M92.3 133.2a1.6 1.6 0 1 0 3.2 0a1.6 1.6 0 1 0 -3.2 0M92.9 133.2a1.6 1.6 0 1 0 3.2 0a1.6 1.6 0 1 0 -3.2 0M93.5 132.5a1.6 1.6 0 1 0 3.2 0a1.6 1.6 0 1 0 -3.2 0M94.4 133.9a1.6 1.6 0 1 0 3.2 0a1.6 1.6 0 1 0 -3.2 0M94.7 133.8a1.6 1.6 0 1 0 3.2 0a1.6 1.6 0 1 0 -3.2 0M95.3 132.9a1.6 1.6 0 1 0 3.2 0a1.6 1.6 0 1 0 -3.2 0M96.0 130.8a1.6 1.6 0 1 0 3.2 0a1.6 1.6 0 1 0 -3.2 0M96.4 131.4a1.6 1.6 0 1 0 3.2 0a1.6 1.6 0 1 0 -3.2 0M97.4 132.2a1.6 1.6 0 1 0 3.2 0a1.6 1.6 0 1 0 -3.2 0M97.7 130.9a1.6 1.6 0 1 0 3.2 0a1.6 1.6 0 1 0 -3.2 0M98.2 133.3a1.6 1.6 0 1 0 3.2 0a1.6 1.6 0 1 0 -3.2 0M99.0 132.5a1.6 1.6 0 1 0 3.2 0a1.6 1.6 0 1 0 -3.2 0M99.4 130.7a1.6 1.6 0 1 0 3.2 0a1.6 1.6 0 1 0 -3.2 0M100.0 133.7a1.6 1.6 0 1 0 3.2 0a1.6 1.6 0 1 0 -3.2 0M100.7 132.7a1.6 1.6 0 1 0 3.2 0a1.6 1.6 0 1 0 -3.2 0M101.5 132.7a1.6 1.6 0 1 0 3.2 0a1.6 1.6 0 1 0 -3.2 0M101.9 131.7a1.6 1.6 0 1 0 3.2 0a1.6 1.6 0 1 0 -3.2 0M102.8 131.8a1.6 1.6 0 1 0 3.2 0a1.6 1.6 0 1 0 -3.2 0M103.3 132.0a1.6 1.6 0 1 0 3.2 0a1.6 1.6 0 1 0 -3.2 0M103.7 132.5a1.6 1.6 0 1 0 3.2 0a1.6 1.6 0 1 0 -3.2 0M104.5 132.7a1.6 1.6 0 1 0 3.2 0a1.6 1.6 0 1 0 -3.2 0M105.2 131.5a1.6 1.6 0 1 0 3.2 0a1.6 1.6 0 1 0 -3.2 0M105.4 131.5a1.6 1.6 0 1 0 3.2 0a1.6 1.6 0 1 0 -3.2 0M106.1 131.1a1.6 1.6 0 1 0 3.2 0a1.6 1.6 0 1 0 -3.2 0M107.0 133.6a1.6 1.6 0 1 0 3.2 0a1.6 1.6 0 1 0 -3.2 0M107.4 133.4a1.6 1.6 0 1 0 3.2 0a1.6 1.6 0 1 0 -3.2 0M108.0 134.3a1.6 1.6 0 1 0 3.2 0a1.6 1.6 0 1 0 -3.2 0M108.8 134.1a1.6 1.6 0 1 0 3.2 0a1.6 1.6 0 1 0 -3.2 0M109.3 134.9a1.6 1.6 0 1 0 3.2 0a1.6 1.6 0 1 0 -3.2 0M109.9 133.8a1.6 1.6 0 1 0 3.2 0a1.6 1.6 0 1 0 -3.2 0M110.3 132.6a1.6 1.6 0 1 0 3.2 0a1.6 1.6 0 1 0 -3.2 0M110.9 132.8a1.6 1.6 0 1 0 3.2 0a1.6 1.6 0 1 0 -3.2 0M111.4 134.8a1.6 1.6 0 1 0 3.2 0a1.6 1.6 0 1 0 -3.2 0M112.1 133.8a1.6 1.6 0 1 0 3.2 0a1.6 1.6 0 1 0 -3.2 0M112.6 133.2a1.6 1.6 0 1 0 3.2 0a1.6 1.6 0 1 0 -3.2 0M113.2 133.1a1.6 1.6 0 1 0 3.2 0a1.6 1.6 0 1 0 -3.2 0M114.2 133.6a1.6 1.6 0 1 0 3.2 0a1.6 1.6 0 1 0 -3.2 0M114.8 134.4a1.6 1.6 0 1 0 3.2 0a1.6 1.6 0 1 0 -3.2 0M115.0 133.8a1.6 1.6 0 1 0 3.2 0a1.6 1.6 0 1 0 -3.2 0M115.6 132.6a1.6 1.6 0 1 0 3.2 0a1.6 1.6 0 1 0 -3.2 0M116.4 133.8a1.6 1.6 0 1 0 3.2 0a1.6 1.6 0 1 0 -3.2 0M116.9 132.9a1.6 1.6 0 1 0 3.2 0a1.6 1.6 0 1 0 -3.2 0M117.7 134.4a1.6 1.6 0 1 0 3.2 0a1.6 1.6 0 1 0 -3.2 0M118.3 134.5a1.6 1.6 0 1 0 3.2 0a1.6 1.6 0 1 0 -3.2 0M118.6 132.8a1.6 1.6 0 1 0 3.2 0a1.6 1.6 0 1 0 -3.2 0M119.5 133.5a1.6 1.6 0 1 0 3.2 0a1.6 1.6 0 1 0 -3.2 0M119.9 134.7a1.6 1.6 0 1 0 3.2 0a1.6 1.6 0 1 0 -3.2 0M120.7 133.9a1.6 1.6 0 1 0 3.2 0a1.6 1.6 0 1 0 -3.2 0M121.1 134.3a1.6 1.6 0 1 0 3.2 0a1.6 1.6 0 1 0 -3.2 0M121.7 134.4a1.6 1.6 0 1 0 3.2 0a1.6 1.6 0 1 0 -3.2 0M122.3 132.9a1.6 1.6 0 1 0 3.2 0a1.6 1.6 0 1 0 -3.2 0M123.0 134.5a1.6 1.6 0 1 0 3.2 0a1.6 1.6 0 1 0 -3.2 0M123.5 133.5a1.6 1.6 0 1 0 3.2 0a1.6 1.6 0 1 0 -3.2 0M124.3 132.1a1.6 1.6 0 1 0 3.2 0a1.6 1.6 0 1 0 -3.2 0M124.6 131.4a1.6 1.6 0 1 0 3.2 0a1.6 1.6 0 1 0 -3.2 0M125.4 134.0a1.6 1.6 0 1 0 3.2 0a1.6 1.6 0 1 0 -3.2 0M126.2 131.9a1.6 1.6 0 1 0 3.2 0a1.6 1.6 0 1 0 -3.2 0M126.4 133.1a1.6 1.6 0 1 0 3.2 0a1.6 1.6 0 1 0 -3.2 0M127.1 133.6a1.6 1.6 0 1 0 3.2 0a1.6 1.6 0 1 0 -3.2 0M128.0 131.5a1.6 1.6 0 1 0 3.2 0a1.6 1.6 0 1 0 -3.2 0M128.3 132.1a1.6 1.6 0 1 0 3.2 0a1.6 1.6 0 1 0 -3.2 0M129.1 132.3a1.6 1.6 0 1 0 3.2 0a1.6 1.6 0 1 0 -3.2 0M129.7 133.0a1.6 1.6 0 1 0 3.2 0a1.6 1.6 0 1 0 -3.2 0M130.4 133.5a1.6 1.6 0 1 0 3.2 0a1.6 1.6 0 1 0 -3.2 0M130.8 133.2a1.6 1.6 0 1 0 3.2 0a1.6 1.6 0 1 0 -3.2 0M131.3 132.2a1.6 1.6 0 1 0 3.2 0a1.6 1.6 0 1 0 -3.2 0M131.9 132.6a1.6 1.6 0 1 0 3.2 0a1.6 1.6 0 1 0 -3.2 0M132.5 131.2a1.6 1.6 0 1 0 3.2 0a1.6 1.6 0 1 0 -3.2 0M133.1 131.3a1.6 1.6 0 1 0 3.2 0a1.6 1.6 0 1 0 -3.2 0M133.6 131.2a1.6 1.6 0 1 0 3.2 0a1.6 1.6 0 1 0 -3.2 0M134.3 132.6a1.6 1.6 0 1 0 3.2 0a1.6 1.6 0 1 0 -3.2 0M134.9 131.6a1.6 1.6 0 1 0 3.2 0a1.6 1.6 0 1 0 -3.2 0M135.6 132.2a1.6 1.6 0 1 0 3.2 0a1.6 1.6 0 1 0 -3.2 0M136.0 131.0a1.6 1.6 0 1 0 3.2 0a1.6 1.6 0 1 0 -3.2 0M136.8 130.2a1.6 1.6 0 1 0 3.2 0a1.6 1.6 0 1 0 -3.2 0M137.5 129.1a1.6 1.6 0 1 0 3.2 0a1.6 1.6 0 1 0 -3.2 0M138.1 127.7a1.6 1.6 0 1 0 3.2 0a1.6 1.6 0 1 0 -3.2 0M138.6 125.9a1.6 1.6 0 1 0 3.2 0a1.6 1.6 0 1 0 -3.2 0M139.4 125.0a1.6 1.6 0 1 0 3.2 0a1.6 1.6 0 1 0 -3.2 0M139.7 121.7a1.6 1.6 0 1 0 3.2 0a1.6 1.6 0 1 0 -3.2 0M140.4 120.1a1.6 1.6 0 1 0 3.2 0a1.6 1.6 0 1 0 -3.2 0M141.1 119.3a1.6 1.6 0 1 0 3.2 0a1.6 1.6 0 1 0 -3.2 0M141.5 116.9a1.6 1.6 0 1 0 3.2 0a1.6 1.6 0 1 0 -3.2 0M142.3 115.5a1.6 1.6 0 1 0 3.2 0a1.6 1.6 0 1 0 -3.2 0M143.0 114.6a1.6 1.6 0 1 0 3.2 0a1.6 1.6 0 1 0 -3.2 0M143.4 114.3a1.6 1.6 0 1 0 3.2 0a1.6 1.6 0 1 0 -3.2 0M144.2 113.0a1.6 1.6 0 1 0 3.2 0a1.6 1.6 0 1 0 -3.2 0M144.6 113.8a1.6 1.6 0 1 0 3.2 0a1.6 1.6 0 1 0 -3.2 0M145.2 113.9a1.6 1.6 0 1 0 3.2 0a1.6 1.6 0 1 0 -3.2 0M145.9 114.2a1.6 1.6 0 1 0 3.2 0a1.6 1.6 0 1 0 -3.2 0M146.4 113.8a1.6 1.6 0 1 0 3.2 0a1.6 1.6 0 1 0 -3.2 0M146.9 113.6a1.6 1.6 0 1 0 3.2 0a1.6 1.6 0 1 0 -3.2 0M147.5 114.1a1.6 1.6 0 1 0 3.2 0a1.6 1.6 0 1 0 -3.2 0M148.2 114.5a1.6 1.6 0 1 0 3.2 0a1.6 1.6 0 1 0 -3.2 0M148.8 114.1a1.6 1.6 0 1 0 3.2 0a1.6 1.6 0 1 0 -3.2 0M149.5 114.8a1.6 1.6 0 1 0 3.2 0a1.6 1.6 0 1 0 -3.2 0M149.9 114.3a1.6 1.6 0 1 0 3.2 0a1.6 1.6 0 1 0 -3.2 0M150.8 115.4a1.6 1.6 0 1 0 3.2 0a1.6 1.6 0 1 0 -3.2 0M151.0 114.5a1.6 1.6 0 1 0 3.2 0a1.6 1.6 0 1 0 -3.2 0M152.0 113.5a1.6 1.6 0 1 0 3.2 0a1.6 1.6 0 1 0 -3.2 0M152.4 116.1a1.6 1.6 0 1 0 3.2 0a1.6 1.6 0 1 0 -3.2 0M153.1 115.9a1.6 1.6 0 1 0 3.2 0a1.6 1.6 0 1 0 -3.2 0M153.5 116.7a1.6 1.6 0 1 0 3.2 0a1.6 1.6 0 1 0 -3.2 0M154.2 117.0a1.6 1.6 0 1 0 3.2 0a1.6 1.6 0 1 0 -3.2 0M154.7 116.2a1.6 1.6 0 1 0 3.2 0a1.6 1.6 0 1 0 -3.2 0M155.3 119.0a1.6 1.6 0 1 0 3.2 0a1.6 1.6 0 1 0 -3.2 0M156.0 123.0a1.6 1.6 0 1 0 3.2 0a1.6 1.6 0 1 0 -3.2 0M156.4 124.4a1.6 1.6 0 1 0 3.2 0a1.6 1.6 0 1 0 -3.2 0M157.4 127.4a1.6 1.6 0 1 0 3.2 0a1.6 1.6 0 1 0 -3.2 0M157.6 126.5a1.6 1.6 0 1 0 3.2 0a1.6 1.6 0 1 0 -3.2 0M158.2 128.7a1.6 1.6 0 1 0 3.2 0a1.6 1.6 0 1 0 -3.2 0M159.1 131.2a1.6 1.6 0 1 0 3.2 0a1.6 1.6 0 1 0 -3.2 0M159.6 132.0a1.6 1.6 0 1 0 3.2 0a1.6 1.6 0 1 0 -3.2 0M160.3 131.7a1.6 1.6 0 1 0 3.2 0a1.6 1.6 0 1 0 -3.2 0M160.8 133.3a1.6 1.6 0 1 0 3.2 0a1.6 1.6 0 1 0 -3.2 0M161.4 132.5a1.6 1.6 0 1 0 3.2 0a1.6 1.6 0 1 0 -3.2 0M162.0 132.5a1.6 1.6 0 1 0 3.2 0a1.6 1.6 0 1 0 -3.2 0M162.4 132.8a1.6 1.6 0 1 0 3.2 0a1.6 1.6 0 1 0 -3.2 0M163.1 133.1a1.6 1.6 0 1 0 3.2 0a1.6 1.6 0 1 0 -3.2 0M163.9 134.1a1.6 1.6 0 1 0 3.2 0a1.6 1.6 0 1 0 -3.2 0M164.3 133.1a1.6 1.6 0 1 0 3.2 0a1.6 1.6 0 1 0 -3.2 0M165.0 134.4a1.6 1.6 0 1 0 3.2 0a1.6 1.6 0 1 0 -3.2 0M165.6 134.4a1.6 1.6 0 1 0 3.2 0a1.6 1.6 0 1 0 -3.2 0M166.0 133.2a1.6 1.6 0 1 0 3.2 0a1.6 1.6 0 1 0 -3.2 0M166.6 134.4a1.6 1.6 0 1 0 3.2 0a1.6 1.6 0 1 0 -3.2 0M167.5 135.1a1.6 1.6 0 1 0 3.2 0a1.6 1.6 0 1 0 -3.2 0M168.1 134.5a1.6 1.6 0 1 0 3.2 0a1.6 1.6 0 1 0 -3.2 0M168.6 134.7a1.6 1.6 0 1 0 3.2 0a1.6 1.6 0 1 0 -3.2 0M169.2 134.0a1.6 1.6 0 1 0 3.2 0a1.6 1.6 0 1 0 -3.2 0M170.0 134.6a1.6 1.6 0 1 0 3.2 0a1.6 1.6 0 1 0 -3.2 0M170.6 134.6a1.6 1.6 0 1 0 3.2 0a1.6 1.6 0 1 0 -3.2 0M171.1 133.5a1.6 1.6 0 1 0 3.2 0a1.6 1.6 0 1 0 -3.2 0M171.8 132.6a1.6 1.6 0 1 0 3.2 0a1.6 1.6 0 1 0 -3.2 0M172.2 134.6a1.6 1.6 0 1 0 3.2 0a1.6 1.6 0 1 0 -3.2 0M172.7 132.0a1.6 1.6 0 1 0 3.2 0a1.6 1.6 0 1 0 -3.2 0M173.5 132.3a1.6 1.6 0 1 0 3.2 0a1.6 1.6 0 1 0 -3.2 0M173.9 131.2a1.6 1.6 0 1 0 3.2 0a1.6 1.6 0 1 0 -3.2 0M174.7 131.2a1.6 1.6 0 1 0 3.2 0a1.6 1.6 0 1 0 -3.2 0M175.1 130.4a1.6 1.6 0 1 0 3.2 0a1.6 1.6 0 1 0 -3.2 0M175.9 128.0a1.6 1.6 0 1 0 3.2 0a1.6 1.6 0 1 0 -3.2 0M176.6 126.3a1.6 1.6 0 1 0 3.2 0a1.6 1.6 0 1 0 -3.2 0M176.9 123.4a1.6 1.6 0 1 0 3.2 0a1.6 1.6 0 1 0 -3.2 0M177.5 122.0a1.6 1.6 0 1 0 3.2 0a1.6 1.6 0 1 0 -3.2 0M178.0 118.7a1.6 1.6 0 1 0 3.2 0a1.6 1.6 0 1 0 -3.2 0M179.0 116.4a1.6 1.6 0 1 0 3.2 0a1.6 1.6 0 1 0 -3.2 0M179.5 114.2a1.6 1.6 0 1 0 3.2 0a1.6 1.6 0 1 0 -3.2 0M180.1 111.6a1.6 1.6 0 1 0 3.2 0a1.6 1.6 0 1 0 -3.2 0M180.4 109.0a1.6 1.6 0 1 0 3.2 0a1.6 1.6 0 1 0 -3.2 0M181.1 108.2a1.6 1.6 0 1 0 3.2 0a1.6 1.6 0 1 0 -3.2 0M181.9 106.1a1.6 1.6 0 1 0 3.2 0a1.6 1.6 0 1 0 -3.2 0M182.6 105.6a1.6 1.6 0 1 0 3.2 0a1.6 1.6 0 1 0 -3.2 0M182.8 106.4a1.6 1.6 0 1 0 3.2 0a1.6 1.6 0 1 0 -3.2 0M183.6 104.8a1.6 1.6 0 1 0 3.2 0a1.6 1.6 0 1 0 -3.2 0M184.3 104.5a1.6 1.6 0 1 0 3.2 0a1.6 1.6 0 1 0 -3.2 0M184.8 107.2a1.6 1.6 0 1 0 3.2 0a1.6 1.6 0 1 0 -3.2 0M185.3 104.9a1.6 1.6 0 1 0 3.2 0a1.6 1.6 0 1 0 -3.2 0M185.9 104.0a1.6 1.6 0 1 0 3.2 0a1.6 1.6 0 1 0 -3.2 0M186.7 106.4a1.6 1.6 0 1 0 3.2 0a1.6 1.6 0 1 0 -3.2 0M187.1 105.6a1.6 1.6 0 1 0 3.2 0a1.6 1.6 0 1 0 -3.2 0M187.9 106.5a1.6 1.6 0 1 0 3.2 0a1.6 1.6 0 1 0 -3.2 0M188.5 105.6a1.6 1.6 0 1 0 3.2 0a1.6 1.6 0 1 0 -3.2 0M188.9 106.3a1.6 1.6 0 1 0 3.2 0a1.6 1.6 0 1 0 -3.2 0M189.5 106.7a1.6 1.6 0 1 0 3.2 0a1.6 1.6 0 1 0 -3.2 0M190.2 106.6a1.6 1.6 0 1 0 3.2 0a1.6 1.6 0 1 0 -3.2 0M191.0 108.8a1.6 1.6 0 1 0 3.2 0a1.6 1.6 0 1 0 -3.2 0M191.3 109.8a1.6 1.6 0 1 0 3.2 0a1.6 1.6 0 1 0 -3.2 0M191.8 112.1a1.6 1.6 0 1 0 3.2 0a1.6 1.6 0 1 0 -3.2 0M192.4 112.3a1.6 1.6 0 1 0 3.2 0a1.6 1.6 0 1 0 -3.2 0M193.1 114.6a1.6 1.6 0 1 0 3.2 0a1.6 1.6 0 1 0 -3.2 0M193.7 115.3a1.6 1.6 0 1 0 3.2 0a1.6 1.6 0 1 0 -3.2 0M194.3 117.8a1.6 1.6 0 1 0 3.2 0a1.6 1.6 0 1 0 -3.2 0M195.0 120.1a1.6 1.6 0 1 0 3.2 0a1.6 1.6 0 1 0 -3.2 0M195.8 122.9a1.6 1.6 0 1 0 3.2 0a1.6 1.6 0 1 0 -3.2 0M196.1 126.0a1.6 1.6 0 1 0 3.2 0a1.6 1.6 0 1 0 -3.2 0M196.9 129.2a1.6 1.6 0 1 0 3.2 0a1.6 1.6 0 1 0 -3.2 0M197.5 131.2a1.6 1.6 0 1 0 3.2 0a1.6 1.6 0 1 0 -3.2 0M197.9 132.0a1.6 1.6 0 1 0 3.2 0a1.6 1.6 0 1 0 -3.2 0M198.4 133.1a1.6 1.6 0 1 0 3.2 0a1.6 1.6 0 1 0 -3.2 0M199.1 133.4a1.6 1.6 0 1 0 3.2 0a1.6 1.6 0 1 0 -3.2 0M199.9 132.7a1.6 1.6 0 1 0 3.2 0a1.6 1.6 0 1 0 -3.2 0M200.5 135.4a1.6 1.6 0 1 0 3.2 0a1.6 1.6 0 1 0 -3.2 0M200.9 135.1a1.6 1.6 0 1 0 3.2 0a1.6 1.6 0 1 0 -3.2 0M201.6 134.9a1.6 1.6 0 1 0 3.2 0a1.6 1.6 0 1 0 -3.2 0M202.2 135.2a1.6 1.6 0 1 0 3.2 0a1.6 1.6 0 1 0 -3.2 0M202.9 135.6a1.6 1.6 0 1 0 3.2 0a1.6 1.6 0 1 0 -3.2 0M203.2 133.7a1.6 1.6 0 1 0 3.2 0a1.6 1.6 0 1 0 -3.2 0M203.9 135.0a1.6 1.6 0 1 0 3.2 0a1.6 1.6 0 1 0 -3.2 0M204.5 134.9a1.6 1.6 0 1 0 3.2 0a1.6 1.6 0 1 0 -3.2 0M205.3 135.2a1.6 1.6 0 1 0 3.2 0a1.6 1.6 0 1 0 -3.2 0M205.9 136.2a1.6 1.6 0 1 0 3.2 0a1.6 1.6 0 1 0 -3.2 0M206.3 136.6a1.6 1.6 0 1 0 3.2 0a1.6 1.6 0 1 0 -3.2 0M206.8 137.1a1.6 1.6 0 1 0 3.2 0a1.6 1.6 0 1 0 -3.2 0M207.7 135.2a1.6 1.6 0 1 0 3.2 0a1.6 1.6 0 1 0 -3.2 0M208.0 136.9a1.6 1.6 0 1 0 3.2 0a1.6 1.6 0 1 0 -3.2 0M208.8 135.1a1.6 1.6 0 1 0 3.2 0a1.6 1.6 0 1 0 -3.2 0M209.5 135.8a1.6 1.6 0 1 0 3.2 0a1.6 1.6 0 1 0 -3.2 0M209.8 136.5a1.6 1.6 0 1 0 3.2 0a1.6 1.6 0 1 0 -3.2 0M210.5 137.1a1.6 1.6 0 1 0 3.2 0a1.6 1.6 0 1 0 -3.2 0M211.3 136.6a1.6 1.6 0 1 0 3.2 0a1.6 1.6 0 1 0 -3.2 0M211.9 137.2a1.6 1.6 0 1 0 3.2 0a1.6 1.6 0 1 0 -3.2 0M212.3 135.5a1.6 1.6 0 1 0 3.2 0a1.6 1.6 0 1 0 -3.2 0M213.0 135.3a1.6 1.6 0 1 0 3.2 0a1.6 1.6 0 1 0 -3.2 0M213.6 137.2a1.6 1.6 0 1 0 3.2 0a1.6 1.6 0 1 0 -3.2 0M214.1 135.3a1.6 1.6 0 1 0 3.2 0a1.6 1.6 0 1 0 -3.2 0M214.7 135.1a1.6 1.6 0 1 0 3.2 0a1.6 1.6 0 1 0 -3.2 0M215.6 137.3a1.6 1.6 0 1 0 3.2 0a1.6 1.6 0 1 0 -3.2 0M215.9 136.8a1.6 1.6 0 1 0 3.2 0a1.6 1.6 0 1 0 -3.2 0M216.7 138.0a1.6 1.6 0 1 0 3.2 0a1.6 1.6 0 1 0 -3.2 0M217.1 136.3a1.6 1.6 0 1 0 3.2 0a1.6 1.6 0 1 0 -3.2 0M218.0 136.5a1.6 1.6 0 1 0 3.2 0a1.6 1.6 0 1 0 -3.2 0M218.6 137.3a1.6 1.6 0 1 0 3.2 0a1.6 1.6 0 1 0 -3.2 0M219.1 136.4a1.6 1.6 0 1 0 3.2 0a1.6 1.6 0 1 0 -3.2 0M219.8 135.7a1.6 1.6 0 1 0 3.2 0a1.6 1.6 0 1 0 -3.2 0M220.2 137.5a1.6 1.6 0 1 0 3.2 0a1.6 1.6 0 1 0 -3.2 0M220.9 135.8a1.6 1.6 0 1 0 3.2 0a1.6 1.6 0 1 0 -3.2 0M221.4 136.7a1.6 1.6 0 1 0 3.2 0a1.6 1.6 0 1 0 -3.2 0M221.9 135.9a1.6 1.6 0 1 0 3.2 0a1.6 1.6 0 1 0 -3.2 0M222.5 136.7a1.6 1.6 0 1 0 3.2 0a1.6 1.6 0 1 0 -3.2 0M223.4 136.7a1.6 1.6 0 1 0 3.2 0a1.6 1.6 0 1 0 -3.2 0M223.7 137.3a1.6 1.6 0 1 0 3.2 0a1.6 1.6 0 1 0 -3.2 0M224.6 137.0a1.6 1.6 0 1 0 3.2 0a1.6 1.6 0 1 0 -3.2 0M224.9 137.0a1.6 1.6 0 1 0 3.2 0a1.6 1.6 0 1 0 -3.2 0M225.4 137.0a1.6 1.6 0 1 0 3.2 0a1.6 1.6 0 1 0 -3.2 0M226.3 136.1a1.6 1.6 0 1 0 3.2 0a1.6 1.6 0 1 0 -3.2 0M226.9 136.0a1.6 1.6 0 1 0 3.2 0a1.6 1.6 0 1 0 -3.2 0M227.2 136.2a1.6 1.6 0 1 0 3.2 0a1.6 1.6 0 1 0 -3.2 0M228.1 136.4a1.6 1.6 0 1 0 3.2 0a1.6 1.6 0 1 0 -3.2 0M228.7 137.1a1.6 1.6 0 1 0 3.2 0a1.6 1.6 0 1 0 -3.2 0M229.3 136.6a1.6 1.6 0 1 0 3.2 0a1.6 1.6 0 1 0 -3.2 0M230.0 137.2a1.6 1.6 0 1 0 3.2 0a1.6 1.6 0 1 0 -3.2 0M230.3 136.6a1.6 1.6 0 1 0 3.2 0a1.6 1.6 0 1 0 -3.2 0M230.8 138.3a1.6 1.6 0 1 0 3.2 0a1.6 1.6 0 1 0 -3.2 0M231.7 137.1a1.6 1.6 0 1 0 3.2 0a1.6 1.6 0 1 0 -3.2 0M232.3 137.2a1.6 1.6 0 1 0 3.2 0a1.6 1.6 0 1 0 -3.2 0M232.7 135.6a1.6 1.6 0 1 0 3.2 0a1.6 1.6 0 1 0 -3.2 0M233.2 137.7a1.6 1.6 0 1 0 3.2 0a1.6 1.6 0 1 0 -3.2 0M233.9 137.3a1.6 1.6 0 1 0 3.2 0a1.6 1.6 0 1 0 -3.2 0M234.5 136.3a1.6 1.6 0 1 0 3.2 0a1.6 1.6 0 1 0 -3.2 0M235.1 136.5a1.6 1.6 0 1 0 3.2 0a1.6 1.6 0 1 0 -3.2 0M235.7 136.2a1.6 1.6 0 1 0 3.2 0a1.6 1.6 0 1 0 -3.2 0M236.3 135.5a1.6 1.6 0 1 0 3.2 0a1.6 1.6 0 1 0 -3.2 0M237.2 134.6a1.6 1.6 0 1 0 3.2 0a1.6 1.6 0 1 0 -3.2 0M237.6 136.0a1.6 1.6 0 1 0 3.2 0a1.6 1.6 0 1 0 -3.2 0M238.0 135.2a1.6 1.6 0 1 0 3.2 0a1.6 1.6 0 1 0 -3.2 0M238.9 136.3a1.6 1.6 0 1 0 3.2 0a1.6 1.6 0 1 0 -3.2 0M239.3 135.4a1.6 1.6 0 1 0 3.2 0a1.6 1.6 0 1 0 -3.2 0M239.9 134.6a1.6 1.6 0 1 0 3.2 0a1.6 1.6 0 1 0 -3.2 0M240.7 136.7a1.6 1.6 0 1 0 3.2 0a1.6 1.6 0 1 0 -3.2 0M241.1 136.1a1.6 1.6 0 1 0 3.2 0a1.6 1.6 0 1 0 -3.2 0M241.6 135.5a1.6 1.6 0 1 0 3.2 0a1.6 1.6 0 1 0 -3.2 0M242.6 136.3a1.6 1.6 0 1 0 3.2 0a1.6 1.6 0 1 0 -3.2 0M242.8 133.9a1.6 1.6 0 1 0 3.2 0a1.6 1.6 0 1 0 -3.2 0M243.7 134.8a1.6 1.6 0 1 0 3.2 0a1.6 1.6 0 1 0 -3.2 0M244.1 133.8a1.6 1.6 0 1 0 3.2 0a1.6 1.6 0 1 0 -3.2 0M244.9 134.5a1.6 1.6 0 1 0 3.2 0a1.6 1.6 0 1 0 -3.2 0M245.3 134.9a1.6 1.6 0 1 0 3.2 0a1.6 1.6 0 1 0 -3.2 0M245.9 134.0a1.6 1.6 0 1 0 3.2 0a1.6 1.6 0 1 0 -3.2 0M246.7 133.7a1.6 1.6 0 1 0 3.2 0a1.6 1.6 0 1 0 -3.2 0M247.3 134.0a1.6 1.6 0 1 0 3.2 0a1.6 1.6 0 1 0 -3.2 0M247.6 134.2a1.6 1.6 0 1 0 3.2 0a1.6 1.6 0 1 0 -3.2 0M248.5 132.6a1.6 1.6 0 1 0 3.2 0a1.6 1.6 0 1 0 -3.2 0M249.1 133.2a1.6 1.6 0 1 0 3.2 0a1.6 1.6 0 1 0 -3.2 0M249.6 134.3a1.6 1.6 0 1 0 3.2 0a1.6 1.6 0 1 0 -3.2 0M250.4 135.0a1.6 1.6 0 1 0 3.2 0a1.6 1.6 0 1 0 -3.2 0M250.6 134.3a1.6 1.6 0 1 0 3.2 0a1.6 1.6 0 1 0 -3.2 0M251.3 133.3a1.6 1.6 0 1 0 3.2 0a1.6 1.6 0 1 0 -3.2 0M252.0 135.1a1.6 1.6 0 1 0 3.2 0a1.6 1.6 0 1 0 -3.2 0M252.6 133.7a1.6 1.6 0 1 0 3.2 0a1.6 1.6 0 1 0 -3.2 0M253.2 132.8a1.6 1.6 0 1 0 3.2 0a1.6 1.6 0 1 0 -3.2 0M253.8 133.2a1.6 1.6 0 1 0 3.2 0a1.6 1.6 0 1 0 -3.2 0M254.5 131.7a1.6 1.6 0 1 0 3.2 0a1.6 1.6 0 1 0 -3.2 0M254.9 132.8a1.6 1.6 0 1 0 3.2 0a1.6 1.6 0 1 0 -3.2 0M255.7 133.3a1.6 1.6 0 1 0 3.2 0a1.6 1.6 0 1 0 -3.2 0M256.3 132.8a1.6 1.6 0 1 0 3.2 0a1.6 1.6 0 1 0 -3.2 0M256.8 132.3a1.6 1.6 0 1 0 3.2 0a1.6 1.6 0 1 0 -3.2 0M257.5 132.4a1.6 1.6 0 1 0 3.2 0a1.6 1.6 0 1 0 -3.2 0M258.0 132.5a1.6 1.6 0 1 0 3.2 0a1.6 1.6 0 1 0 -3.2 0M258.8 132.7a1.6 1.6 0 1 0 3.2 0a1.6 1.6 0 1 0 -3.2 0M259.1 133.1a1.6 1.6 0 1 0 3.2 0a1.6 1.6 0 1 0 -3.2 0M259.9 132.7a1.6 1.6 0 1 0 3.2 0a1.6 1.6 0 1 0 -3.2 0M260.3 132.0a1.6 1.6 0 1 0 3.2 0a1.6 1.6 0 1 0 -3.2 0M260.9 131.9a1.6 1.6 0 1 0 3.2 0a1.6 1.6 0 1 0 -3.2 0M261.5 133.2a1.6 1.6 0 1 0 3.2 0a1.6 1.6 0 1 0 -3.2 0M262.1 133.1a1.6 1.6 0 1 0 3.2 0a1.6 1.6 0 1 0 -3.2 0M262.9 134.2a1.6 1.6 0 1 0 3.2 0a1.6 1.6 0 1 0 -3.2 0M263.2 132.5a1.6 1.6 0 1 0 3.2 0a1.6 1.6 0 1 0 -3.2 0M264.0 132.0a1.6 1.6 0 1 0 3.2 0a1.6 1.6 0 1 0 -3.2 0M264.8 132.4a1.6 1.6 0 1 0 3.2 0a1.6 1.6 0 1 0 -3.2 0M265.2 130.7a1.6 1.6 0 1 0 3.2 0a1.6 1.6 0 1 0 -3.2 0M265.7 131.6a1.6 1.6 0 1 0 3.2 0a1.6 1.6 0 1 0 -3.2 0M266.3 131.5a1.6 1.6 0 1 0 3.2 0a1.6 1.6 0 1 0 -3.2 0M267.0 132.5a1.6 1.6 0 1 0 3.2 0a1.6 1.6 0 1 0 -3.2 0M267.7 131.9a1.6 1.6 0 1 0 3.2 0a1.6 1.6 0 1 0 -3.2 0M268.3 130.5a1.6 1.6 0 1 0 3.2 0a1.6 1.6 0 1 0 -3.2 0M268.8 131.5a1.6 1.6 0 1 0 3.2 0a1.6 1.6 0 1 0 -3.2 0M269.3 130.8a1.6 1.6 0 1 0 3.2 0a1.6 1.6 0 1 0 -3.2 0M270.1 130.9a1.6 1.6 0 1 0 3.2 0a1.6 1.6 0 1 0 -3.2 0M270.8 130.3a1.6 1.6 0 1 0 3.2 0a1.6 1.6 0 1 0 -3.2 0M271.3 131.6a1.6 1.6 0 1 0 3.2 0a1.6 1.6 0 1 0 -3.2 0M271.8 131.2a1.6 1.6 0 1 0 3.2 0a1.6 1.6 0 1 0 -3.2 0M272.6 132.2a1.6 1.6 0 1 0 3.2 0a1.6 1.6 0 1 0 -3.2 0M273.1 130.3a1.6 1.6 0 1 0 3.2 0a1.6 1.6 0 1 0 -3.2 0M273.7 129.2a1.6 1.6 0 1 0 3.2 0a1.6 1.6 0 1 0 -3.2 0M274.3 129.9a1.6 1.6 0 1 0 3.2 0a1.6 1.6 0 1 0 -3.2 0M274.9 130.7a1.6 1.6 0 1 0 3.2 0a1.6 1.6 0 1 0 -3.2 0M275.2 129.3a1.6 1.6 0 1 0 3.2 0a1.6 1.6 0 1 0 -3.2 0M276.1 131.2a1.6 1.6 0 1 0 3.2 0a1.6 1.6 0 1 0 -3.2 0M276.7 130.5a1.6 1.6 0 1 0 3.2 0a1.6 1.6 0 1 0 -3.2 0" fill="none" stroke="#b0399a" stroke-width="0.65" stroke-opacity="0.9"/>
<path d="M51.0,138.0 C53.6,137.6 61.6,136.1 66.4,135.5 C71.2,134.9 74.4,135.3 80.0,134.7 C85.6,134.1 95.0,132.2 100.0,132.0 C105.0,131.8 106.7,133.2 110.0,133.5 C113.3,133.8 116.7,133.9 120.0,133.8 C123.3,133.7 127.2,133.5 130.0,133.0 C132.8,132.5 135.3,132.1 137.0,131.0 C138.7,129.9 139.0,128.8 140.0,126.5 C141.0,124.2 142.2,119.5 143.0,117.4 C143.8,115.3 144.2,114.6 145.0,114.0 C145.8,113.4 146.7,113.9 148.0,114.0 C149.3,114.1 151.7,114.3 153.0,114.7 C154.3,115.1 155.2,115.0 156.0,116.5 C156.8,118.0 157.2,121.4 158.0,123.8 C158.8,126.2 159.8,129.3 161.0,131.0 C162.2,132.7 163.5,133.3 165.0,133.8 C166.5,134.3 168.3,134.1 170.0,133.8 C171.7,133.5 173.7,133.4 175.0,132.0 C176.3,130.6 177.0,128.6 178.0,125.6 C179.0,122.6 180.0,117.1 181.0,113.8 C182.0,110.5 183.0,107.5 184.0,106.0 C185.0,104.5 185.8,104.7 187.0,104.8 C188.2,104.9 189.8,105.3 191.0,106.5 C192.2,107.7 193.0,109.4 194.0,112.0 C195.0,114.6 196.2,118.8 197.0,122.0 C197.8,125.2 198.2,128.9 199.0,131.0 C199.8,133.1 199.3,133.8 202.0,134.7 C204.7,135.6 209.5,136.3 215.0,136.6 C220.5,136.9 229.2,137.1 235.0,136.6 C240.8,136.1 244.2,134.6 250.0,133.8 C255.8,133.0 265.2,132.2 270.0,131.6 C274.8,131.0 275.1,130.3 278.6,130.5 C282.1,130.7 288.9,132.2 291.0,132.5" fill="none" stroke="#b0399a" stroke-width="1.2"/>
<line x1="51" y1="201.9" x2="291" y2="201.9" stroke="#555" stroke-width="1.1"/>
<line x1="45.5" y1="172.2" x2="51" y2="172.2" stroke="#555" stroke-width="1"/>
<text x="39.8" y="175.9" font-size="10.5" text-anchor="end" fill="#333">100</text>
<line x1="45.5" y1="202" x2="51" y2="202" stroke="#555" stroke-width="1"/>
<text x="39.8" y="205.7" font-size="10.5" text-anchor="end" fill="#333">0</text>
<text x="56.8" y="164.6" font-size="10.7" textLength="22.9" lengthAdjust="spacingAndGlyphs" fill="#2a52b4"><tspan font-style="italic">ν</tspan> = 11</text>
<path d="M65.4 201.3a1.6 1.6 0 1 0 3.2 0a1.6 1.6 0 1 0 -3.2 0M66.0 199.5a1.6 1.6 0 1 0 3.2 0a1.6 1.6 0 1 0 -3.2 0M66.8 201.1a1.6 1.6 0 1 0 3.2 0a1.6 1.6 0 1 0 -3.2 0M67.1 199.7a1.6 1.6 0 1 0 3.2 0a1.6 1.6 0 1 0 -3.2 0M67.8 199.3a1.6 1.6 0 1 0 3.2 0a1.6 1.6 0 1 0 -3.2 0M68.4 200.7a1.6 1.6 0 1 0 3.2 0a1.6 1.6 0 1 0 -3.2 0M69.0 200.5a1.6 1.6 0 1 0 3.2 0a1.6 1.6 0 1 0 -3.2 0M69.5 200.9a1.6 1.6 0 1 0 3.2 0a1.6 1.6 0 1 0 -3.2 0M70.2 198.6a1.6 1.6 0 1 0 3.2 0a1.6 1.6 0 1 0 -3.2 0M70.6 199.6a1.6 1.6 0 1 0 3.2 0a1.6 1.6 0 1 0 -3.2 0M71.5 200.0a1.6 1.6 0 1 0 3.2 0a1.6 1.6 0 1 0 -3.2 0M72.0 199.5a1.6 1.6 0 1 0 3.2 0a1.6 1.6 0 1 0 -3.2 0M72.6 199.3a1.6 1.6 0 1 0 3.2 0a1.6 1.6 0 1 0 -3.2 0M73.2 201.0a1.6 1.6 0 1 0 3.2 0a1.6 1.6 0 1 0 -3.2 0M73.9 200.3a1.6 1.6 0 1 0 3.2 0a1.6 1.6 0 1 0 -3.2 0M74.4 200.5a1.6 1.6 0 1 0 3.2 0a1.6 1.6 0 1 0 -3.2 0M75.2 200.1a1.6 1.6 0 1 0 3.2 0a1.6 1.6 0 1 0 -3.2 0M75.5 201.1a1.6 1.6 0 1 0 3.2 0a1.6 1.6 0 1 0 -3.2 0M76.2 200.7a1.6 1.6 0 1 0 3.2 0a1.6 1.6 0 1 0 -3.2 0M76.6 199.8a1.6 1.6 0 1 0 3.2 0a1.6 1.6 0 1 0 -3.2 0M77.5 200.9a1.6 1.6 0 1 0 3.2 0a1.6 1.6 0 1 0 -3.2 0M77.9 200.4a1.6 1.6 0 1 0 3.2 0a1.6 1.6 0 1 0 -3.2 0M78.7 201.1a1.6 1.6 0 1 0 3.2 0a1.6 1.6 0 1 0 -3.2 0M79.4 199.9a1.6 1.6 0 1 0 3.2 0a1.6 1.6 0 1 0 -3.2 0M79.9 200.4a1.6 1.6 0 1 0 3.2 0a1.6 1.6 0 1 0 -3.2 0M80.4 200.6a1.6 1.6 0 1 0 3.2 0a1.6 1.6 0 1 0 -3.2 0M81.1 200.9a1.6 1.6 0 1 0 3.2 0a1.6 1.6 0 1 0 -3.2 0M81.7 199.9a1.6 1.6 0 1 0 3.2 0a1.6 1.6 0 1 0 -3.2 0M82.2 199.8a1.6 1.6 0 1 0 3.2 0a1.6 1.6 0 1 0 -3.2 0M82.7 201.2a1.6 1.6 0 1 0 3.2 0a1.6 1.6 0 1 0 -3.2 0M83.5 200.3a1.6 1.6 0 1 0 3.2 0a1.6 1.6 0 1 0 -3.2 0M84.1 200.9a1.6 1.6 0 1 0 3.2 0a1.6 1.6 0 1 0 -3.2 0M84.5 199.7a1.6 1.6 0 1 0 3.2 0a1.6 1.6 0 1 0 -3.2 0M85.2 201.6a1.6 1.6 0 1 0 3.2 0a1.6 1.6 0 1 0 -3.2 0M85.7 201.6a1.6 1.6 0 1 0 3.2 0a1.6 1.6 0 1 0 -3.2 0M86.5 200.4a1.6 1.6 0 1 0 3.2 0a1.6 1.6 0 1 0 -3.2 0M86.9 201.3a1.6 1.6 0 1 0 3.2 0a1.6 1.6 0 1 0 -3.2 0M87.6 200.5a1.6 1.6 0 1 0 3.2 0a1.6 1.6 0 1 0 -3.2 0M88.3 200.6a1.6 1.6 0 1 0 3.2 0a1.6 1.6 0 1 0 -3.2 0M88.7 200.5a1.6 1.6 0 1 0 3.2 0a1.6 1.6 0 1 0 -3.2 0M89.4 201.2a1.6 1.6 0 1 0 3.2 0a1.6 1.6 0 1 0 -3.2 0M90.0 199.8a1.6 1.6 0 1 0 3.2 0a1.6 1.6 0 1 0 -3.2 0M90.5 199.6a1.6 1.6 0 1 0 3.2 0a1.6 1.6 0 1 0 -3.2 0M91.4 200.7a1.6 1.6 0 1 0 3.2 0a1.6 1.6 0 1 0 -3.2 0M91.9 200.3a1.6 1.6 0 1 0 3.2 0a1.6 1.6 0 1 0 -3.2 0M92.6 200.6a1.6 1.6 0 1 0 3.2 0a1.6 1.6 0 1 0 -3.2 0M93.1 200.1a1.6 1.6 0 1 0 3.2 0a1.6 1.6 0 1 0 -3.2 0M93.7 200.6a1.6 1.6 0 1 0 3.2 0a1.6 1.6 0 1 0 -3.2 0M94.4 200.5a1.6 1.6 0 1 0 3.2 0a1.6 1.6 0 1 0 -3.2 0M94.9 200.5a1.6 1.6 0 1 0 3.2 0a1.6 1.6 0 1 0 -3.2 0M95.3 200.9a1.6 1.6 0 1 0 3.2 0a1.6 1.6 0 1 0 -3.2 0M95.9 200.6a1.6 1.6 0 1 0 3.2 0a1.6 1.6 0 1 0 -3.2 0M96.5 199.8a1.6 1.6 0 1 0 3.2 0a1.6 1.6 0 1 0 -3.2 0M97.4 200.6a1.6 1.6 0 1 0 3.2 0a1.6 1.6 0 1 0 -3.2 0M98.0 200.0a1.6 1.6 0 1 0 3.2 0a1.6 1.6 0 1 0 -3.2 0M98.4 200.7a1.6 1.6 0 1 0 3.2 0a1.6 1.6 0 1 0 -3.2 0M99.2 199.3a1.6 1.6 0 1 0 3.2 0a1.6 1.6 0 1 0 -3.2 0M99.7 200.8a1.6 1.6 0 1 0 3.2 0a1.6 1.6 0 1 0 -3.2 0M100.3 200.0a1.6 1.6 0 1 0 3.2 0a1.6 1.6 0 1 0 -3.2 0M100.8 200.4a1.6 1.6 0 1 0 3.2 0a1.6 1.6 0 1 0 -3.2 0M101.6 199.6a1.6 1.6 0 1 0 3.2 0a1.6 1.6 0 1 0 -3.2 0M102.0 200.4a1.6 1.6 0 1 0 3.2 0a1.6 1.6 0 1 0 -3.2 0M102.5 201.0a1.6 1.6 0 1 0 3.2 0a1.6 1.6 0 1 0 -3.2 0M103.2 201.2a1.6 1.6 0 1 0 3.2 0a1.6 1.6 0 1 0 -3.2 0M103.7 200.7a1.6 1.6 0 1 0 3.2 0a1.6 1.6 0 1 0 -3.2 0M104.4 199.2a1.6 1.6 0 1 0 3.2 0a1.6 1.6 0 1 0 -3.2 0M105.1 200.1a1.6 1.6 0 1 0 3.2 0a1.6 1.6 0 1 0 -3.2 0M105.4 200.4a1.6 1.6 0 1 0 3.2 0a1.6 1.6 0 1 0 -3.2 0M106.2 199.1a1.6 1.6 0 1 0 3.2 0a1.6 1.6 0 1 0 -3.2 0M106.9 200.0a1.6 1.6 0 1 0 3.2 0a1.6 1.6 0 1 0 -3.2 0M107.4 198.7a1.6 1.6 0 1 0 3.2 0a1.6 1.6 0 1 0 -3.2 0M108.2 199.9a1.6 1.6 0 1 0 3.2 0a1.6 1.6 0 1 0 -3.2 0M108.7 199.0a1.6 1.6 0 1 0 3.2 0a1.6 1.6 0 1 0 -3.2 0M109.0 197.0a1.6 1.6 0 1 0 3.2 0a1.6 1.6 0 1 0 -3.2 0M110.0 196.6a1.6 1.6 0 1 0 3.2 0a1.6 1.6 0 1 0 -3.2 0M110.3 197.7a1.6 1.6 0 1 0 3.2 0a1.6 1.6 0 1 0 -3.2 0M111.0 195.9a1.6 1.6 0 1 0 3.2 0a1.6 1.6 0 1 0 -3.2 0M111.8 196.5a1.6 1.6 0 1 0 3.2 0a1.6 1.6 0 1 0 -3.2 0M112.3 194.5a1.6 1.6 0 1 0 3.2 0a1.6 1.6 0 1 0 -3.2 0M112.7 193.7a1.6 1.6 0 1 0 3.2 0a1.6 1.6 0 1 0 -3.2 0M113.4 191.5a1.6 1.6 0 1 0 3.2 0a1.6 1.6 0 1 0 -3.2 0M114.0 191.0a1.6 1.6 0 1 0 3.2 0a1.6 1.6 0 1 0 -3.2 0M114.6 189.0a1.6 1.6 0 1 0 3.2 0a1.6 1.6 0 1 0 -3.2 0M115.2 186.5a1.6 1.6 0 1 0 3.2 0a1.6 1.6 0 1 0 -3.2 0M115.7 185.5a1.6 1.6 0 1 0 3.2 0a1.6 1.6 0 1 0 -3.2 0M116.5 183.2a1.6 1.6 0 1 0 3.2 0a1.6 1.6 0 1 0 -3.2 0M116.9 182.4a1.6 1.6 0 1 0 3.2 0a1.6 1.6 0 1 0 -3.2 0M117.6 180.6a1.6 1.6 0 1 0 3.2 0a1.6 1.6 0 1 0 -3.2 0M118.3 177.0a1.6 1.6 0 1 0 3.2 0a1.6 1.6 0 1 0 -3.2 0M118.7 174.9a1.6 1.6 0 1 0 3.2 0a1.6 1.6 0 1 0 -3.2 0M119.4 173.9a1.6 1.6 0 1 0 3.2 0a1.6 1.6 0 1 0 -3.2 0M120.1 171.5a1.6 1.6 0 1 0 3.2 0a1.6 1.6 0 1 0 -3.2 0M120.7 169.8a1.6 1.6 0 1 0 3.2 0a1.6 1.6 0 1 0 -3.2 0M121.4 168.7a1.6 1.6 0 1 0 3.2 0a1.6 1.6 0 1 0 -3.2 0M121.7 168.5a1.6 1.6 0 1 0 3.2 0a1.6 1.6 0 1 0 -3.2 0M122.2 169.5a1.6 1.6 0 1 0 3.2 0a1.6 1.6 0 1 0 -3.2 0M123.0 171.0a1.6 1.6 0 1 0 3.2 0a1.6 1.6 0 1 0 -3.2 0M123.7 170.2a1.6 1.6 0 1 0 3.2 0a1.6 1.6 0 1 0 -3.2 0M124.2 168.5a1.6 1.6 0 1 0 3.2 0a1.6 1.6 0 1 0 -3.2 0M124.8 169.5a1.6 1.6 0 1 0 3.2 0a1.6 1.6 0 1 0 -3.2 0M125.4 169.2a1.6 1.6 0 1 0 3.2 0a1.6 1.6 0 1 0 -3.2 0M126.1 169.9a1.6 1.6 0 1 0 3.2 0a1.6 1.6 0 1 0 -3.2 0M126.6 170.1a1.6 1.6 0 1 0 3.2 0a1.6 1.6 0 1 0 -3.2 0M127.3 168.7a1.6 1.6 0 1 0 3.2 0a1.6 1.6 0 1 0 -3.2 0M127.6 167.9a1.6 1.6 0 1 0 3.2 0a1.6 1.6 0 1 0 -3.2 0M128.5 168.0a1.6 1.6 0 1 0 3.2 0a1.6 1.6 0 1 0 -3.2 0M128.9 165.8a1.6 1.6 0 1 0 3.2 0a1.6 1.6 0 1 0 -3.2 0M129.7 166.0a1.6 1.6 0 1 0 3.2 0a1.6 1.6 0 1 0 -3.2 0M130.1 164.1a1.6 1.6 0 1 0 3.2 0a1.6 1.6 0 1 0 -3.2 0M130.7 163.8a1.6 1.6 0 1 0 3.2 0a1.6 1.6 0 1 0 -3.2 0M131.4 164.3a1.6 1.6 0 1 0 3.2 0a1.6 1.6 0 1 0 -3.2 0M132.1 164.0a1.6 1.6 0 1 0 3.2 0a1.6 1.6 0 1 0 -3.2 0M132.6 164.0a1.6 1.6 0 1 0 3.2 0a1.6 1.6 0 1 0 -3.2 0M133.0 166.0a1.6 1.6 0 1 0 3.2 0a1.6 1.6 0 1 0 -3.2 0M133.8 167.3a1.6 1.6 0 1 0 3.2 0a1.6 1.6 0 1 0 -3.2 0M134.6 167.8a1.6 1.6 0 1 0 3.2 0a1.6 1.6 0 1 0 -3.2 0M135.0 170.1a1.6 1.6 0 1 0 3.2 0a1.6 1.6 0 1 0 -3.2 0M135.6 174.2a1.6 1.6 0 1 0 3.2 0a1.6 1.6 0 1 0 -3.2 0M136.2 173.2a1.6 1.6 0 1 0 3.2 0a1.6 1.6 0 1 0 -3.2 0M136.8 176.9a1.6 1.6 0 1 0 3.2 0a1.6 1.6 0 1 0 -3.2 0M137.3 178.7a1.6 1.6 0 1 0 3.2 0a1.6 1.6 0 1 0 -3.2 0M137.9 180.3a1.6 1.6 0 1 0 3.2 0a1.6 1.6 0 1 0 -3.2 0M138.7 182.5a1.6 1.6 0 1 0 3.2 0a1.6 1.6 0 1 0 -3.2 0M139.0 184.8a1.6 1.6 0 1 0 3.2 0a1.6 1.6 0 1 0 -3.2 0M139.9 185.8a1.6 1.6 0 1 0 3.2 0a1.6 1.6 0 1 0 -3.2 0M140.3 188.3a1.6 1.6 0 1 0 3.2 0a1.6 1.6 0 1 0 -3.2 0M140.9 188.1a1.6 1.6 0 1 0 3.2 0a1.6 1.6 0 1 0 -3.2 0M141.7 188.8a1.6 1.6 0 1 0 3.2 0a1.6 1.6 0 1 0 -3.2 0M142.3 189.5a1.6 1.6 0 1 0 3.2 0a1.6 1.6 0 1 0 -3.2 0M142.9 190.4a1.6 1.6 0 1 0 3.2 0a1.6 1.6 0 1 0 -3.2 0M143.2 188.7a1.6 1.6 0 1 0 3.2 0a1.6 1.6 0 1 0 -3.2 0M144.1 189.5a1.6 1.6 0 1 0 3.2 0a1.6 1.6 0 1 0 -3.2 0M144.8 189.0a1.6 1.6 0 1 0 3.2 0a1.6 1.6 0 1 0 -3.2 0M145.1 191.1a1.6 1.6 0 1 0 3.2 0a1.6 1.6 0 1 0 -3.2 0M145.6 189.7a1.6 1.6 0 1 0 3.2 0a1.6 1.6 0 1 0 -3.2 0M146.2 189.1a1.6 1.6 0 1 0 3.2 0a1.6 1.6 0 1 0 -3.2 0M146.8 188.8a1.6 1.6 0 1 0 3.2 0a1.6 1.6 0 1 0 -3.2 0M147.5 189.9a1.6 1.6 0 1 0 3.2 0a1.6 1.6 0 1 0 -3.2 0M148.3 189.5a1.6 1.6 0 1 0 3.2 0a1.6 1.6 0 1 0 -3.2 0M148.8 190.7a1.6 1.6 0 1 0 3.2 0a1.6 1.6 0 1 0 -3.2 0M149.4 190.2a1.6 1.6 0 1 0 3.2 0a1.6 1.6 0 1 0 -3.2 0M150.0 189.7a1.6 1.6 0 1 0 3.2 0a1.6 1.6 0 1 0 -3.2 0M150.7 189.5a1.6 1.6 0 1 0 3.2 0a1.6 1.6 0 1 0 -3.2 0M151.1 189.1a1.6 1.6 0 1 0 3.2 0a1.6 1.6 0 1 0 -3.2 0M151.8 188.8a1.6 1.6 0 1 0 3.2 0a1.6 1.6 0 1 0 -3.2 0M152.4 190.0a1.6 1.6 0 1 0 3.2 0a1.6 1.6 0 1 0 -3.2 0M153.1 187.6a1.6 1.6 0 1 0 3.2 0a1.6 1.6 0 1 0 -3.2 0M153.6 189.2a1.6 1.6 0 1 0 3.2 0a1.6 1.6 0 1 0 -3.2 0M154.4 189.4a1.6 1.6 0 1 0 3.2 0a1.6 1.6 0 1 0 -3.2 0M154.9 189.3a1.6 1.6 0 1 0 3.2 0a1.6 1.6 0 1 0 -3.2 0M155.4 188.0a1.6 1.6 0 1 0 3.2 0a1.6 1.6 0 1 0 -3.2 0M156.2 188.7a1.6 1.6 0 1 0 3.2 0a1.6 1.6 0 1 0 -3.2 0M156.5 186.6a1.6 1.6 0 1 0 3.2 0a1.6 1.6 0 1 0 -3.2 0M157.2 187.2a1.6 1.6 0 1 0 3.2 0a1.6 1.6 0 1 0 -3.2 0M157.9 184.7a1.6 1.6 0 1 0 3.2 0a1.6 1.6 0 1 0 -3.2 0M158.4 184.7a1.6 1.6 0 1 0 3.2 0a1.6 1.6 0 1 0 -3.2 0M158.9 180.3a1.6 1.6 0 1 0 3.2 0a1.6 1.6 0 1 0 -3.2 0M159.4 178.5a1.6 1.6 0 1 0 3.2 0a1.6 1.6 0 1 0 -3.2 0M160.2 176.6a1.6 1.6 0 1 0 3.2 0a1.6 1.6 0 1 0 -3.2 0M160.9 173.0a1.6 1.6 0 1 0 3.2 0a1.6 1.6 0 1 0 -3.2 0M161.5 169.8a1.6 1.6 0 1 0 3.2 0a1.6 1.6 0 1 0 -3.2 0M162.1 167.9a1.6 1.6 0 1 0 3.2 0a1.6 1.6 0 1 0 -3.2 0M162.5 163.7a1.6 1.6 0 1 0 3.2 0a1.6 1.6 0 1 0 -3.2 0M163.3 162.6a1.6 1.6 0 1 0 3.2 0a1.6 1.6 0 1 0 -3.2 0M164.0 159.2a1.6 1.6 0 1 0 3.2 0a1.6 1.6 0 1 0 -3.2 0M164.3 159.9a1.6 1.6 0 1 0 3.2 0a1.6 1.6 0 1 0 -3.2 0M165.1 158.6a1.6 1.6 0 1 0 3.2 0a1.6 1.6 0 1 0 -3.2 0M165.5 157.6a1.6 1.6 0 1 0 3.2 0a1.6 1.6 0 1 0 -3.2 0M166.1 155.5a1.6 1.6 0 1 0 3.2 0a1.6 1.6 0 1 0 -3.2 0M166.8 156.9a1.6 1.6 0 1 0 3.2 0a1.6 1.6 0 1 0 -3.2 0M167.3 156.6a1.6 1.6 0 1 0 3.2 0a1.6 1.6 0 1 0 -3.2 0M167.9 157.6a1.6 1.6 0 1 0 3.2 0a1.6 1.6 0 1 0 -3.2 0M168.6 156.7a1.6 1.6 0 1 0 3.2 0a1.6 1.6 0 1 0 -3.2 0M169.0 159.4a1.6 1.6 0 1 0 3.2 0a1.6 1.6 0 1 0 -3.2 0M169.7 158.6a1.6 1.6 0 1 0 3.2 0a1.6 1.6 0 1 0 -3.2 0M170.4 162.3a1.6 1.6 0 1 0 3.2 0a1.6 1.6 0 1 0 -3.2 0M171.0 161.2a1.6 1.6 0 1 0 3.2 0a1.6 1.6 0 1 0 -3.2 0M171.6 163.3a1.6 1.6 0 1 0 3.2 0a1.6 1.6 0 1 0 -3.2 0M172.1 165.2a1.6 1.6 0 1 0 3.2 0a1.6 1.6 0 1 0 -3.2 0M172.7 167.3a1.6 1.6 0 1 0 3.2 0a1.6 1.6 0 1 0 -3.2 0M173.4 168.8a1.6 1.6 0 1 0 3.2 0a1.6 1.6 0 1 0 -3.2 0M174.0 171.1a1.6 1.6 0 1 0 3.2 0a1.6 1.6 0 1 0 -3.2 0M174.4 173.4a1.6 1.6 0 1 0 3.2 0a1.6 1.6 0 1 0 -3.2 0M175.4 175.1a1.6 1.6 0 1 0 3.2 0a1.6 1.6 0 1 0 -3.2 0M175.9 177.5a1.6 1.6 0 1 0 3.2 0a1.6 1.6 0 1 0 -3.2 0M176.5 179.7a1.6 1.6 0 1 0 3.2 0a1.6 1.6 0 1 0 -3.2 0M176.9 181.8a1.6 1.6 0 1 0 3.2 0a1.6 1.6 0 1 0 -3.2 0M177.6 182.8a1.6 1.6 0 1 0 3.2 0a1.6 1.6 0 1 0 -3.2 0M178.4 184.4a1.6 1.6 0 1 0 3.2 0a1.6 1.6 0 1 0 -3.2 0M178.9 185.0a1.6 1.6 0 1 0 3.2 0a1.6 1.6 0 1 0 -3.2 0M179.3 187.6a1.6 1.6 0 1 0 3.2 0a1.6 1.6 0 1 0 -3.2 0M180.1 187.0a1.6 1.6 0 1 0 3.2 0a1.6 1.6 0 1 0 -3.2 0M180.7 190.4a1.6 1.6 0 1 0 3.2 0a1.6 1.6 0 1 0 -3.2 0M181.3 190.8a1.6 1.6 0 1 0 3.2 0a1.6 1.6 0 1 0 -3.2 0M181.6 190.6a1.6 1.6 0 1 0 3.2 0a1.6 1.6 0 1 0 -3.2 0M182.3 191.4a1.6 1.6 0 1 0 3.2 0a1.6 1.6 0 1 0 -3.2 0M182.8 192.0a1.6 1.6 0 1 0 3.2 0a1.6 1.6 0 1 0 -3.2 0M183.6 192.6a1.6 1.6 0 1 0 3.2 0a1.6 1.6 0 1 0 -3.2 0M184.4 191.7a1.6 1.6 0 1 0 3.2 0a1.6 1.6 0 1 0 -3.2 0M185.0 193.7a1.6 1.6 0 1 0 3.2 0a1.6 1.6 0 1 0 -3.2 0M185.4 193.4a1.6 1.6 0 1 0 3.2 0a1.6 1.6 0 1 0 -3.2 0M185.8 193.9a1.6 1.6 0 1 0 3.2 0a1.6 1.6 0 1 0 -3.2 0M186.6 193.4a1.6 1.6 0 1 0 3.2 0a1.6 1.6 0 1 0 -3.2 0M187.3 194.9a1.6 1.6 0 1 0 3.2 0a1.6 1.6 0 1 0 -3.2 0M187.8 193.7a1.6 1.6 0 1 0 3.2 0a1.6 1.6 0 1 0 -3.2 0M188.4 195.3a1.6 1.6 0 1 0 3.2 0a1.6 1.6 0 1 0 -3.2 0M189.2 196.0a1.6 1.6 0 1 0 3.2 0a1.6 1.6 0 1 0 -3.2 0M189.5 195.0a1.6 1.6 0 1 0 3.2 0a1.6 1.6 0 1 0 -3.2 0M190.1 194.6a1.6 1.6 0 1 0 3.2 0a1.6 1.6 0 1 0 -3.2 0M191.0 195.8a1.6 1.6 0 1 0 3.2 0a1.6 1.6 0 1 0 -3.2 0M191.2 193.7a1.6 1.6 0 1 0 3.2 0a1.6 1.6 0 1 0 -3.2 0M192.1 194.4a1.6 1.6 0 1 0 3.2 0a1.6 1.6 0 1 0 -3.2 0M192.8 193.5a1.6 1.6 0 1 0 3.2 0a1.6 1.6 0 1 0 -3.2 0M193.0 195.3a1.6 1.6 0 1 0 3.2 0a1.6 1.6 0 1 0 -3.2 0M194.0 195.3a1.6 1.6 0 1 0 3.2 0a1.6 1.6 0 1 0 -3.2 0M194.5 193.5a1.6 1.6 0 1 0 3.2 0a1.6 1.6 0 1 0 -3.2 0M195.1 194.2a1.6 1.6 0 1 0 3.2 0a1.6 1.6 0 1 0 -3.2 0M195.4 192.2a1.6 1.6 0 1 0 3.2 0a1.6 1.6 0 1 0 -3.2 0M196.0 192.1a1.6 1.6 0 1 0 3.2 0a1.6 1.6 0 1 0 -3.2 0M196.8 190.8a1.6 1.6 0 1 0 3.2 0a1.6 1.6 0 1 0 -3.2 0M197.3 190.0a1.6 1.6 0 1 0 3.2 0a1.6 1.6 0 1 0 -3.2 0M198.1 189.5a1.6 1.6 0 1 0 3.2 0a1.6 1.6 0 1 0 -3.2 0M198.5 187.1a1.6 1.6 0 1 0 3.2 0a1.6 1.6 0 1 0 -3.2 0M199.0 186.0a1.6 1.6 0 1 0 3.2 0a1.6 1.6 0 1 0 -3.2 0M200.0 183.7a1.6 1.6 0 1 0 3.2 0a1.6 1.6 0 1 0 -3.2 0M200.5 182.6a1.6 1.6 0 1 0 3.2 0a1.6 1.6 0 1 0 -3.2 0M201.0 180.3a1.6 1.6 0 1 0 3.2 0a1.6 1.6 0 1 0 -3.2 0M201.4 180.2a1.6 1.6 0 1 0 3.2 0a1.6 1.6 0 1 0 -3.2 0M202.3 176.4a1.6 1.6 0 1 0 3.2 0a1.6 1.6 0 1 0 -3.2 0M202.8 174.5a1.6 1.6 0 1 0 3.2 0a1.6 1.6 0 1 0 -3.2 0M203.4 174.4a1.6 1.6 0 1 0 3.2 0a1.6 1.6 0 1 0 -3.2 0M204.1 171.3a1.6 1.6 0 1 0 3.2 0a1.6 1.6 0 1 0 -3.2 0M204.4 169.6a1.6 1.6 0 1 0 3.2 0a1.6 1.6 0 1 0 -3.2 0M205.3 167.3a1.6 1.6 0 1 0 3.2 0a1.6 1.6 0 1 0 -3.2 0M205.9 166.6a1.6 1.6 0 1 0 3.2 0a1.6 1.6 0 1 0 -3.2 0M206.3 165.5a1.6 1.6 0 1 0 3.2 0a1.6 1.6 0 1 0 -3.2 0M206.9 165.4a1.6 1.6 0 1 0 3.2 0a1.6 1.6 0 1 0 -3.2 0M207.7 164.3a1.6 1.6 0 1 0 3.2 0a1.6 1.6 0 1 0 -3.2 0M208.2 164.4a1.6 1.6 0 1 0 3.2 0a1.6 1.6 0 1 0 -3.2 0M208.7 163.8a1.6 1.6 0 1 0 3.2 0a1.6 1.6 0 1 0 -3.2 0M209.6 162.9a1.6 1.6 0 1 0 3.2 0a1.6 1.6 0 1 0 -3.2 0M209.8 163.8a1.6 1.6 0 1 0 3.2 0a1.6 1.6 0 1 0 -3.2 0M210.5 162.1a1.6 1.6 0 1 0 3.2 0a1.6 1.6 0 1 0 -3.2 0M211.2 162.8a1.6 1.6 0 1 0 3.2 0a1.6 1.6 0 1 0 -3.2 0M211.7 163.9a1.6 1.6 0 1 0 3.2 0a1.6 1.6 0 1 0 -3.2 0M212.3 166.6a1.6 1.6 0 1 0 3.2 0a1.6 1.6 0 1 0 -3.2 0M213.2 164.3a1.6 1.6 0 1 0 3.2 0a1.6 1.6 0 1 0 -3.2 0M213.4 164.9a1.6 1.6 0 1 0 3.2 0a1.6 1.6 0 1 0 -3.2 0M214.0 167.8a1.6 1.6 0 1 0 3.2 0a1.6 1.6 0 1 0 -3.2 0M214.9 166.6a1.6 1.6 0 1 0 3.2 0a1.6 1.6 0 1 0 -3.2 0M215.2 170.5a1.6 1.6 0 1 0 3.2 0a1.6 1.6 0 1 0 -3.2 0M216.1 169.5a1.6 1.6 0 1 0 3.2 0a1.6 1.6 0 1 0 -3.2 0M216.4 171.7a1.6 1.6 0 1 0 3.2 0a1.6 1.6 0 1 0 -3.2 0M217.3 172.7a1.6 1.6 0 1 0 3.2 0a1.6 1.6 0 1 0 -3.2 0M217.8 175.1a1.6 1.6 0 1 0 3.2 0a1.6 1.6 0 1 0 -3.2 0M218.6 177.7a1.6 1.6 0 1 0 3.2 0a1.6 1.6 0 1 0 -3.2 0M218.9 181.0a1.6 1.6 0 1 0 3.2 0a1.6 1.6 0 1 0 -3.2 0M219.5 182.7a1.6 1.6 0 1 0 3.2 0a1.6 1.6 0 1 0 -3.2 0M220.1 183.6a1.6 1.6 0 1 0 3.2 0a1.6 1.6 0 1 0 -3.2 0M220.6 187.9a1.6 1.6 0 1 0 3.2 0a1.6 1.6 0 1 0 -3.2 0M221.4 189.6a1.6 1.6 0 1 0 3.2 0a1.6 1.6 0 1 0 -3.2 0M221.9 191.3a1.6 1.6 0 1 0 3.2 0a1.6 1.6 0 1 0 -3.2 0M222.7 193.8a1.6 1.6 0 1 0 3.2 0a1.6 1.6 0 1 0 -3.2 0M223.3 193.8a1.6 1.6 0 1 0 3.2 0a1.6 1.6 0 1 0 -3.2 0M223.6 195.4a1.6 1.6 0 1 0 3.2 0a1.6 1.6 0 1 0 -3.2 0M224.5 196.2a1.6 1.6 0 1 0 3.2 0a1.6 1.6 0 1 0 -3.2 0M224.8 198.6a1.6 1.6 0 1 0 3.2 0a1.6 1.6 0 1 0 -3.2 0M225.7 197.4a1.6 1.6 0 1 0 3.2 0a1.6 1.6 0 1 0 -3.2 0M226.3 199.7a1.6 1.6 0 1 0 3.2 0a1.6 1.6 0 1 0 -3.2 0M226.8 200.2a1.6 1.6 0 1 0 3.2 0a1.6 1.6 0 1 0 -3.2 0M227.4 198.7a1.6 1.6 0 1 0 3.2 0a1.6 1.6 0 1 0 -3.2 0M228.1 198.5a1.6 1.6 0 1 0 3.2 0a1.6 1.6 0 1 0 -3.2 0M228.7 199.0a1.6 1.6 0 1 0 3.2 0a1.6 1.6 0 1 0 -3.2 0M229.1 198.9a1.6 1.6 0 1 0 3.2 0a1.6 1.6 0 1 0 -3.2 0M229.8 199.1a1.6 1.6 0 1 0 3.2 0a1.6 1.6 0 1 0 -3.2 0M230.2 197.5a1.6 1.6 0 1 0 3.2 0a1.6 1.6 0 1 0 -3.2 0M231.0 198.2a1.6 1.6 0 1 0 3.2 0a1.6 1.6 0 1 0 -3.2 0M231.4 197.9a1.6 1.6 0 1 0 3.2 0a1.6 1.6 0 1 0 -3.2 0M232.3 196.7a1.6 1.6 0 1 0 3.2 0a1.6 1.6 0 1 0 -3.2 0M232.7 197.9a1.6 1.6 0 1 0 3.2 0a1.6 1.6 0 1 0 -3.2 0M233.5 197.2a1.6 1.6 0 1 0 3.2 0a1.6 1.6 0 1 0 -3.2 0M233.8 199.3a1.6 1.6 0 1 0 3.2 0a1.6 1.6 0 1 0 -3.2 0M234.6 196.4a1.6 1.6 0 1 0 3.2 0a1.6 1.6 0 1 0 -3.2 0M235.2 196.8a1.6 1.6 0 1 0 3.2 0a1.6 1.6 0 1 0 -3.2 0M235.6 197.5a1.6 1.6 0 1 0 3.2 0a1.6 1.6 0 1 0 -3.2 0M236.6 197.7a1.6 1.6 0 1 0 3.2 0a1.6 1.6 0 1 0 -3.2 0M236.8 198.1a1.6 1.6 0 1 0 3.2 0a1.6 1.6 0 1 0 -3.2 0M237.5 197.6a1.6 1.6 0 1 0 3.2 0a1.6 1.6 0 1 0 -3.2 0M238.0 197.3a1.6 1.6 0 1 0 3.2 0a1.6 1.6 0 1 0 -3.2 0M238.9 197.5a1.6 1.6 0 1 0 3.2 0a1.6 1.6 0 1 0 -3.2 0M239.4 197.6a1.6 1.6 0 1 0 3.2 0a1.6 1.6 0 1 0 -3.2 0M240.0 196.2a1.6 1.6 0 1 0 3.2 0a1.6 1.6 0 1 0 -3.2 0M240.4 197.2a1.6 1.6 0 1 0 3.2 0a1.6 1.6 0 1 0 -3.2 0M241.3 197.3a1.6 1.6 0 1 0 3.2 0a1.6 1.6 0 1 0 -3.2 0M241.6 197.1a1.6 1.6 0 1 0 3.2 0a1.6 1.6 0 1 0 -3.2 0M242.4 196.6a1.6 1.6 0 1 0 3.2 0a1.6 1.6 0 1 0 -3.2 0M242.8 197.3a1.6 1.6 0 1 0 3.2 0a1.6 1.6 0 1 0 -3.2 0M243.6 197.9a1.6 1.6 0 1 0 3.2 0a1.6 1.6 0 1 0 -3.2 0M244.3 198.0a1.6 1.6 0 1 0 3.2 0a1.6 1.6 0 1 0 -3.2 0M244.7 196.0a1.6 1.6 0 1 0 3.2 0a1.6 1.6 0 1 0 -3.2 0M245.3 196.6a1.6 1.6 0 1 0 3.2 0a1.6 1.6 0 1 0 -3.2 0M246.1 197.9a1.6 1.6 0 1 0 3.2 0a1.6 1.6 0 1 0 -3.2 0M246.6 196.8a1.6 1.6 0 1 0 3.2 0a1.6 1.6 0 1 0 -3.2 0M247.3 196.3a1.6 1.6 0 1 0 3.2 0a1.6 1.6 0 1 0 -3.2 0M248.0 196.9a1.6 1.6 0 1 0 3.2 0a1.6 1.6 0 1 0 -3.2 0M248.5 196.7a1.6 1.6 0 1 0 3.2 0a1.6 1.6 0 1 0 -3.2 0M248.9 197.5a1.6 1.6 0 1 0 3.2 0a1.6 1.6 0 1 0 -3.2 0M249.6 198.4a1.6 1.6 0 1 0 3.2 0a1.6 1.6 0 1 0 -3.2 0M250.4 196.8a1.6 1.6 0 1 0 3.2 0a1.6 1.6 0 1 0 -3.2 0M250.9 197.1a1.6 1.6 0 1 0 3.2 0a1.6 1.6 0 1 0 -3.2 0M251.4 196.7a1.6 1.6 0 1 0 3.2 0a1.6 1.6 0 1 0 -3.2 0M252.2 197.4a1.6 1.6 0 1 0 3.2 0a1.6 1.6 0 1 0 -3.2 0M252.6 196.6a1.6 1.6 0 1 0 3.2 0a1.6 1.6 0 1 0 -3.2 0M253.3 196.2a1.6 1.6 0 1 0 3.2 0a1.6 1.6 0 1 0 -3.2 0M253.6 197.5a1.6 1.6 0 1 0 3.2 0a1.6 1.6 0 1 0 -3.2 0M254.4 196.6a1.6 1.6 0 1 0 3.2 0a1.6 1.6 0 1 0 -3.2 0M254.9 196.7a1.6 1.6 0 1 0 3.2 0a1.6 1.6 0 1 0 -3.2 0M255.8 197.0a1.6 1.6 0 1 0 3.2 0a1.6 1.6 0 1 0 -3.2 0M256.3 194.8a1.6 1.6 0 1 0 3.2 0a1.6 1.6 0 1 0 -3.2 0M256.9 197.9a1.6 1.6 0 1 0 3.2 0a1.6 1.6 0 1 0 -3.2 0M257.2 195.5a1.6 1.6 0 1 0 3.2 0a1.6 1.6 0 1 0 -3.2 0M258.1 196.5a1.6 1.6 0 1 0 3.2 0a1.6 1.6 0 1 0 -3.2 0M258.5 197.8a1.6 1.6 0 1 0 3.2 0a1.6 1.6 0 1 0 -3.2 0M259.2 197.6a1.6 1.6 0 1 0 3.2 0a1.6 1.6 0 1 0 -3.2 0M259.7 196.0a1.6 1.6 0 1 0 3.2 0a1.6 1.6 0 1 0 -3.2 0M260.4 194.7a1.6 1.6 0 1 0 3.2 0a1.6 1.6 0 1 0 -3.2 0M260.9 197.2a1.6 1.6 0 1 0 3.2 0a1.6 1.6 0 1 0 -3.2 0M261.5 196.2a1.6 1.6 0 1 0 3.2 0a1.6 1.6 0 1 0 -3.2 0M262.2 196.0a1.6 1.6 0 1 0 3.2 0a1.6 1.6 0 1 0 -3.2 0M263.0 195.7a1.6 1.6 0 1 0 3.2 0a1.6 1.6 0 1 0 -3.2 0M263.4 196.2a1.6 1.6 0 1 0 3.2 0a1.6 1.6 0 1 0 -3.2 0M264.0 196.5a1.6 1.6 0 1 0 3.2 0a1.6 1.6 0 1 0 -3.2 0M264.5 196.5a1.6 1.6 0 1 0 3.2 0a1.6 1.6 0 1 0 -3.2 0M265.1 195.6a1.6 1.6 0 1 0 3.2 0a1.6 1.6 0 1 0 -3.2 0M265.7 196.4a1.6 1.6 0 1 0 3.2 0a1.6 1.6 0 1 0 -3.2 0M266.2 194.6a1.6 1.6 0 1 0 3.2 0a1.6 1.6 0 1 0 -3.2 0M267.0 195.5a1.6 1.6 0 1 0 3.2 0a1.6 1.6 0 1 0 -3.2 0M267.6 195.6a1.6 1.6 0 1 0 3.2 0a1.6 1.6 0 1 0 -3.2 0M268.3 195.5a1.6 1.6 0 1 0 3.2 0a1.6 1.6 0 1 0 -3.2 0M268.8 194.8a1.6 1.6 0 1 0 3.2 0a1.6 1.6 0 1 0 -3.2 0M269.4 195.5a1.6 1.6 0 1 0 3.2 0a1.6 1.6 0 1 0 -3.2 0M269.9 195.8a1.6 1.6 0 1 0 3.2 0a1.6 1.6 0 1 0 -3.2 0M270.6 196.3a1.6 1.6 0 1 0 3.2 0a1.6 1.6 0 1 0 -3.2 0M271.2 195.6a1.6 1.6 0 1 0 3.2 0a1.6 1.6 0 1 0 -3.2 0M271.7 195.6a1.6 1.6 0 1 0 3.2 0a1.6 1.6 0 1 0 -3.2 0M272.5 195.7a1.6 1.6 0 1 0 3.2 0a1.6 1.6 0 1 0 -3.2 0M273.0 196.7a1.6 1.6 0 1 0 3.2 0a1.6 1.6 0 1 0 -3.2 0M273.5 196.3a1.6 1.6 0 1 0 3.2 0a1.6 1.6 0 1 0 -3.2 0M274.3 195.6a1.6 1.6 0 1 0 3.2 0a1.6 1.6 0 1 0 -3.2 0M274.7 197.1a1.6 1.6 0 1 0 3.2 0a1.6 1.6 0 1 0 -3.2 0M275.4 196.3a1.6 1.6 0 1 0 3.2 0a1.6 1.6 0 1 0 -3.2 0M275.8 195.0a1.6 1.6 0 1 0 3.2 0a1.6 1.6 0 1 0 -3.2 0M276.7 196.2a1.6 1.6 0 1 0 3.2 0a1.6 1.6 0 1 0 -3.2 0" fill="none" stroke="#2a52b4" stroke-width="0.65" stroke-opacity="0.9"/>
<path d="M51.0,200.8 C59.2,200.8 91.0,200.6 100.0,200.6 C109.0,200.6 103.4,200.7 105.0,200.6 C106.6,200.5 108.2,200.6 109.5,200.2 C110.8,199.8 111.9,199.2 113.0,198.0 C114.1,196.8 115.0,195.3 116.0,193.0 C117.0,190.7 118.0,187.0 119.0,184.0 C120.0,181.0 121.0,177.5 122.0,175.0 C123.0,172.5 123.7,170.6 125.0,169.0 C126.3,167.4 128.3,165.9 129.6,165.6 C130.9,165.3 131.9,165.6 133.0,167.0 C134.1,168.4 135.0,171.3 136.0,174.0 C137.0,176.7 138.0,180.3 139.0,183.0 C140.0,185.7 140.9,188.1 142.0,190.0 C143.1,191.9 144.3,193.5 145.5,194.5 C146.7,195.5 148.0,195.7 149.1,195.8 C150.2,195.9 151.0,195.6 152.0,195.0 C153.0,194.4 154.0,193.6 155.0,192.0 C156.0,190.4 157.0,188.3 158.0,185.5 C159.0,182.7 160.0,178.4 161.0,175.0 C162.0,171.6 162.9,167.8 164.0,165.0 C165.1,162.2 166.5,159.5 167.5,158.4 C168.5,157.3 169.1,157.6 170.0,158.5 C170.9,159.4 172.0,161.7 173.0,164.0 C174.0,166.3 175.0,169.4 176.0,172.5 C177.0,175.6 178.0,179.4 179.0,182.5 C180.0,185.6 180.8,188.7 182.0,191.0 C183.2,193.3 184.7,195.4 186.0,196.5 C187.3,197.6 188.7,197.6 190.0,197.5 C191.3,197.4 192.7,197.2 194.0,196.0 C195.3,194.8 196.8,192.3 198.0,190.0 C199.2,187.7 200.0,184.8 201.0,182.0 C202.0,179.2 203.0,175.7 204.0,173.0 C205.0,170.3 205.8,167.7 207.0,166.0 C208.2,164.3 209.7,163.2 211.0,163.0 C212.3,162.8 213.8,163.8 215.0,165.0 C216.2,166.2 217.0,168.0 218.0,170.5 C219.0,173.0 220.0,176.6 221.0,180.0 C222.0,183.4 223.0,188.2 224.0,191.0 C225.0,193.8 225.8,195.7 227.0,197.0 C228.2,198.3 228.8,198.8 231.0,199.0 C233.2,199.2 235.2,198.5 240.0,198.3 C244.8,198.1 251.5,197.7 260.0,197.8 C268.5,197.9 285.8,198.6 291.0,198.8" fill="none" stroke="#2a52b4" stroke-width="1.2"/>
<line x1="51" y1="263.2" x2="291" y2="263.2" stroke="#333" stroke-width="1.1"/>
<line x1="45.5" y1="232.3" x2="51" y2="232.3" stroke="#555" stroke-width="1"/>
<text x="39.8" y="236.0" font-size="10.5" text-anchor="end" fill="#333">100</text>
<line x1="45.5" y1="262.9" x2="51" y2="262.9" stroke="#555" stroke-width="1"/>
<text x="39.8" y="266.6" font-size="10.5" text-anchor="end" fill="#333">0</text>
<text x="56.8" y="224.9" font-size="10.7" textLength="25.1" lengthAdjust="spacingAndGlyphs" fill="#2a6e34"><tspan font-style="italic">ν</tspan> = 12</text>
<path d="M65.2 262.8a1.6 1.6 0 1 0 3.2 0a1.6 1.6 0 1 0 -3.2 0M66.1 264.5a1.6 1.6 0 1 0 3.2 0a1.6 1.6 0 1 0 -3.2 0M66.5 262.1a1.6 1.6 0 1 0 3.2 0a1.6 1.6 0 1 0 -3.2 0M67.3 263.1a1.6 1.6 0 1 0 3.2 0a1.6 1.6 0 1 0 -3.2 0M67.8 263.4a1.6 1.6 0 1 0 3.2 0a1.6 1.6 0 1 0 -3.2 0M68.4 261.3a1.6 1.6 0 1 0 3.2 0a1.6 1.6 0 1 0 -3.2 0M69.1 262.5a1.6 1.6 0 1 0 3.2 0a1.6 1.6 0 1 0 -3.2 0M69.6 261.2a1.6 1.6 0 1 0 3.2 0a1.6 1.6 0 1 0 -3.2 0M70.3 262.1a1.6 1.6 0 1 0 3.2 0a1.6 1.6 0 1 0 -3.2 0M70.7 260.8a1.6 1.6 0 1 0 3.2 0a1.6 1.6 0 1 0 -3.2 0M71.6 263.9a1.6 1.6 0 1 0 3.2 0a1.6 1.6 0 1 0 -3.2 0M72.0 262.6a1.6 1.6 0 1 0 3.2 0a1.6 1.6 0 1 0 -3.2 0M72.6 263.6a1.6 1.6 0 1 0 3.2 0a1.6 1.6 0 1 0 -3.2 0M73.2 262.3a1.6 1.6 0 1 0 3.2 0a1.6 1.6 0 1 0 -3.2 0M73.9 263.4a1.6 1.6 0 1 0 3.2 0a1.6 1.6 0 1 0 -3.2 0M74.4 261.8a1.6 1.6 0 1 0 3.2 0a1.6 1.6 0 1 0 -3.2 0M75.0 261.4a1.6 1.6 0 1 0 3.2 0a1.6 1.6 0 1 0 -3.2 0M75.5 263.0a1.6 1.6 0 1 0 3.2 0a1.6 1.6 0 1 0 -3.2 0M76.2 261.9a1.6 1.6 0 1 0 3.2 0a1.6 1.6 0 1 0 -3.2 0M76.7 262.4a1.6 1.6 0 1 0 3.2 0a1.6 1.6 0 1 0 -3.2 0M77.5 263.2a1.6 1.6 0 1 0 3.2 0a1.6 1.6 0 1 0 -3.2 0M78.0 261.9a1.6 1.6 0 1 0 3.2 0a1.6 1.6 0 1 0 -3.2 0M78.5 262.5a1.6 1.6 0 1 0 3.2 0a1.6 1.6 0 1 0 -3.2 0M79.2 263.1a1.6 1.6 0 1 0 3.2 0a1.6 1.6 0 1 0 -3.2 0M79.8 264.3a1.6 1.6 0 1 0 3.2 0a1.6 1.6 0 1 0 -3.2 0M80.3 263.7a1.6 1.6 0 1 0 3.2 0a1.6 1.6 0 1 0 -3.2 0M81.1 263.8a1.6 1.6 0 1 0 3.2 0a1.6 1.6 0 1 0 -3.2 0M81.5 261.0a1.6 1.6 0 1 0 3.2 0a1.6 1.6 0 1 0 -3.2 0M82.2 262.8a1.6 1.6 0 1 0 3.2 0a1.6 1.6 0 1 0 -3.2 0M82.6 262.7a1.6 1.6 0 1 0 3.2 0a1.6 1.6 0 1 0 -3.2 0M83.4 261.0a1.6 1.6 0 1 0 3.2 0a1.6 1.6 0 1 0 -3.2 0M84.1 262.8a1.6 1.6 0 1 0 3.2 0a1.6 1.6 0 1 0 -3.2 0M84.6 263.7a1.6 1.6 0 1 0 3.2 0a1.6 1.6 0 1 0 -3.2 0M85.2 262.7a1.6 1.6 0 1 0 3.2 0a1.6 1.6 0 1 0 -3.2 0M85.9 262.2a1.6 1.6 0 1 0 3.2 0a1.6 1.6 0 1 0 -3.2 0M86.4 263.2a1.6 1.6 0 1 0 3.2 0a1.6 1.6 0 1 0 -3.2 0M86.9 263.9a1.6 1.6 0 1 0 3.2 0a1.6 1.6 0 1 0 -3.2 0M87.6 262.3a1.6 1.6 0 1 0 3.2 0a1.6 1.6 0 1 0 -3.2 0M88.0 262.1a1.6 1.6 0 1 0 3.2 0a1.6 1.6 0 1 0 -3.2 0M88.8 263.2a1.6 1.6 0 1 0 3.2 0a1.6 1.6 0 1 0 -3.2 0M89.4 264.1a1.6 1.6 0 1 0 3.2 0a1.6 1.6 0 1 0 -3.2 0M90.0 261.1a1.6 1.6 0 1 0 3.2 0a1.6 1.6 0 1 0 -3.2 0M90.5 260.6a1.6 1.6 0 1 0 3.2 0a1.6 1.6 0 1 0 -3.2 0M91.1 260.5a1.6 1.6 0 1 0 3.2 0a1.6 1.6 0 1 0 -3.2 0M91.7 262.5a1.6 1.6 0 1 0 3.2 0a1.6 1.6 0 1 0 -3.2 0M92.2 261.7a1.6 1.6 0 1 0 3.2 0a1.6 1.6 0 1 0 -3.2 0M92.7 262.3a1.6 1.6 0 1 0 3.2 0a1.6 1.6 0 1 0 -3.2 0M92.7 260.6a1.6 1.6 0 1 0 3.2 0a1.6 1.6 0 1 0 -3.2 0M93.4 258.7a1.6 1.6 0 1 0 3.2 0a1.6 1.6 0 1 0 -3.2 0M93.9 256.7a1.6 1.6 0 1 0 3.2 0a1.6 1.6 0 1 0 -3.2 0M94.5 256.2a1.6 1.6 0 1 0 3.2 0a1.6 1.6 0 1 0 -3.2 0M94.7 255.1a1.6 1.6 0 1 0 3.2 0a1.6 1.6 0 1 0 -3.2 0M95.4 252.5a1.6 1.6 0 1 0 3.2 0a1.6 1.6 0 1 0 -3.2 0M95.9 251.1a1.6 1.6 0 1 0 3.2 0a1.6 1.6 0 1 0 -3.2 0M96.7 248.9a1.6 1.6 0 1 0 3.2 0a1.6 1.6 0 1 0 -3.2 0M97.4 247.2a1.6 1.6 0 1 0 3.2 0a1.6 1.6 0 1 0 -3.2 0M97.9 246.7a1.6 1.6 0 1 0 3.2 0a1.6 1.6 0 1 0 -3.2 0M98.7 244.4a1.6 1.6 0 1 0 3.2 0a1.6 1.6 0 1 0 -3.2 0M99.3 242.8a1.6 1.6 0 1 0 3.2 0a1.6 1.6 0 1 0 -3.2 0M100.1 241.6a1.6 1.6 0 1 0 3.2 0a1.6 1.6 0 1 0 -3.2 0M101.1 239.8a1.6 1.6 0 1 0 3.2 0a1.6 1.6 0 1 0 -3.2 0M101.6 239.7a1.6 1.6 0 1 0 3.2 0a1.6 1.6 0 1 0 -3.2 0M102.4 239.4a1.6 1.6 0 1 0 3.2 0a1.6 1.6 0 1 0 -3.2 0M103.1 239.6a1.6 1.6 0 1 0 3.2 0a1.6 1.6 0 1 0 -3.2 0M103.7 240.6a1.6 1.6 0 1 0 3.2 0a1.6 1.6 0 1 0 -3.2 0M104.3 239.4a1.6 1.6 0 1 0 3.2 0a1.6 1.6 0 1 0 -3.2 0M104.8 240.1a1.6 1.6 0 1 0 3.2 0a1.6 1.6 0 1 0 -3.2 0M105.4 240.4a1.6 1.6 0 1 0 3.2 0a1.6 1.6 0 1 0 -3.2 0M106.0 239.7a1.6 1.6 0 1 0 3.2 0a1.6 1.6 0 1 0 -3.2 0M106.9 240.0a1.6 1.6 0 1 0 3.2 0a1.6 1.6 0 1 0 -3.2 0M107.4 239.2a1.6 1.6 0 1 0 3.2 0a1.6 1.6 0 1 0 -3.2 0M107.8 238.8a1.6 1.6 0 1 0 3.2 0a1.6 1.6 0 1 0 -3.2 0M108.7 238.5a1.6 1.6 0 1 0 3.2 0a1.6 1.6 0 1 0 -3.2 0M109.2 240.3a1.6 1.6 0 1 0 3.2 0a1.6 1.6 0 1 0 -3.2 0M109.7 239.1a1.6 1.6 0 1 0 3.2 0a1.6 1.6 0 1 0 -3.2 0M110.7 239.7a1.6 1.6 0 1 0 3.2 0a1.6 1.6 0 1 0 -3.2 0M111.2 239.0a1.6 1.6 0 1 0 3.2 0a1.6 1.6 0 1 0 -3.2 0M111.7 240.4a1.6 1.6 0 1 0 3.2 0a1.6 1.6 0 1 0 -3.2 0M112.3 240.8a1.6 1.6 0 1 0 3.2 0a1.6 1.6 0 1 0 -3.2 0M113.3 239.8a1.6 1.6 0 1 0 3.2 0a1.6 1.6 0 1 0 -3.2 0M113.8 240.6a1.6 1.6 0 1 0 3.2 0a1.6 1.6 0 1 0 -3.2 0M114.4 241.4a1.6 1.6 0 1 0 3.2 0a1.6 1.6 0 1 0 -3.2 0M115.6 243.2a1.6 1.6 0 1 0 3.2 0a1.6 1.6 0 1 0 -3.2 0M116.4 243.5a1.6 1.6 0 1 0 3.2 0a1.6 1.6 0 1 0 -3.2 0M117.1 245.5a1.6 1.6 0 1 0 3.2 0a1.6 1.6 0 1 0 -3.2 0M117.8 248.8a1.6 1.6 0 1 0 3.2 0a1.6 1.6 0 1 0 -3.2 0M118.1 250.1a1.6 1.6 0 1 0 3.2 0a1.6 1.6 0 1 0 -3.2 0M118.6 250.9a1.6 1.6 0 1 0 3.2 0a1.6 1.6 0 1 0 -3.2 0M119.2 252.6a1.6 1.6 0 1 0 3.2 0a1.6 1.6 0 1 0 -3.2 0M119.9 254.6a1.6 1.6 0 1 0 3.2 0a1.6 1.6 0 1 0 -3.2 0M120.2 255.4a1.6 1.6 0 1 0 3.2 0a1.6 1.6 0 1 0 -3.2 0M120.6 255.9a1.6 1.6 0 1 0 3.2 0a1.6 1.6 0 1 0 -3.2 0M121.2 258.4a1.6 1.6 0 1 0 3.2 0a1.6 1.6 0 1 0 -3.2 0M121.7 260.5a1.6 1.6 0 1 0 3.2 0a1.6 1.6 0 1 0 -3.2 0M122.3 260.0a1.6 1.6 0 1 0 3.2 0a1.6 1.6 0 1 0 -3.2 0M122.7 260.5a1.6 1.6 0 1 0 3.2 0a1.6 1.6 0 1 0 -3.2 0M123.2 260.7a1.6 1.6 0 1 0 3.2 0a1.6 1.6 0 1 0 -3.2 0M123.9 260.8a1.6 1.6 0 1 0 3.2 0a1.6 1.6 0 1 0 -3.2 0M124.2 260.8a1.6 1.6 0 1 0 3.2 0a1.6 1.6 0 1 0 -3.2 0M124.7 261.3a1.6 1.6 0 1 0 3.2 0a1.6 1.6 0 1 0 -3.2 0M125.1 261.9a1.6 1.6 0 1 0 3.2 0a1.6 1.6 0 1 0 -3.2 0M125.7 260.7a1.6 1.6 0 1 0 3.2 0a1.6 1.6 0 1 0 -3.2 0M126.1 259.8a1.6 1.6 0 1 0 3.2 0a1.6 1.6 0 1 0 -3.2 0M126.7 259.0a1.6 1.6 0 1 0 3.2 0a1.6 1.6 0 1 0 -3.2 0M127.4 259.2a1.6 1.6 0 1 0 3.2 0a1.6 1.6 0 1 0 -3.2 0M127.9 258.4a1.6 1.6 0 1 0 3.2 0a1.6 1.6 0 1 0 -3.2 0M128.4 257.2a1.6 1.6 0 1 0 3.2 0a1.6 1.6 0 1 0 -3.2 0M128.8 256.3a1.6 1.6 0 1 0 3.2 0a1.6 1.6 0 1 0 -3.2 0M129.1 254.8a1.6 1.6 0 1 0 3.2 0a1.6 1.6 0 1 0 -3.2 0M129.8 252.4a1.6 1.6 0 1 0 3.2 0a1.6 1.6 0 1 0 -3.2 0M130.2 250.5a1.6 1.6 0 1 0 3.2 0a1.6 1.6 0 1 0 -3.2 0M130.7 249.0a1.6 1.6 0 1 0 3.2 0a1.6 1.6 0 1 0 -3.2 0M131.5 245.4a1.6 1.6 0 1 0 3.2 0a1.6 1.6 0 1 0 -3.2 0M132.0 244.2a1.6 1.6 0 1 0 3.2 0a1.6 1.6 0 1 0 -3.2 0M132.5 239.6a1.6 1.6 0 1 0 3.2 0a1.6 1.6 0 1 0 -3.2 0M133.1 238.1a1.6 1.6 0 1 0 3.2 0a1.6 1.6 0 1 0 -3.2 0M133.9 235.3a1.6 1.6 0 1 0 3.2 0a1.6 1.6 0 1 0 -3.2 0M134.4 233.0a1.6 1.6 0 1 0 3.2 0a1.6 1.6 0 1 0 -3.2 0M134.9 230.4a1.6 1.6 0 1 0 3.2 0a1.6 1.6 0 1 0 -3.2 0M135.7 227.5a1.6 1.6 0 1 0 3.2 0a1.6 1.6 0 1 0 -3.2 0M136.3 226.2a1.6 1.6 0 1 0 3.2 0a1.6 1.6 0 1 0 -3.2 0M136.8 225.6a1.6 1.6 0 1 0 3.2 0a1.6 1.6 0 1 0 -3.2 0M137.6 223.9a1.6 1.6 0 1 0 3.2 0a1.6 1.6 0 1 0 -3.2 0M138.5 221.7a1.6 1.6 0 1 0 3.2 0a1.6 1.6 0 1 0 -3.2 0M139.1 220.5a1.6 1.6 0 1 0 3.2 0a1.6 1.6 0 1 0 -3.2 0M140.0 220.2a1.6 1.6 0 1 0 3.2 0a1.6 1.6 0 1 0 -3.2 0M140.8 220.8a1.6 1.6 0 1 0 3.2 0a1.6 1.6 0 1 0 -3.2 0M141.5 220.4a1.6 1.6 0 1 0 3.2 0a1.6 1.6 0 1 0 -3.2 0M142.2 220.1a1.6 1.6 0 1 0 3.2 0a1.6 1.6 0 1 0 -3.2 0M142.9 219.9a1.6 1.6 0 1 0 3.2 0a1.6 1.6 0 1 0 -3.2 0M143.8 221.1a1.6 1.6 0 1 0 3.2 0a1.6 1.6 0 1 0 -3.2 0M144.4 219.4a1.6 1.6 0 1 0 3.2 0a1.6 1.6 0 1 0 -3.2 0M144.7 221.4a1.6 1.6 0 1 0 3.2 0a1.6 1.6 0 1 0 -3.2 0M145.6 222.1a1.6 1.6 0 1 0 3.2 0a1.6 1.6 0 1 0 -3.2 0M146.2 221.8a1.6 1.6 0 1 0 3.2 0a1.6 1.6 0 1 0 -3.2 0M146.8 223.5a1.6 1.6 0 1 0 3.2 0a1.6 1.6 0 1 0 -3.2 0M147.4 223.3a1.6 1.6 0 1 0 3.2 0a1.6 1.6 0 1 0 -3.2 0M147.9 225.3a1.6 1.6 0 1 0 3.2 0a1.6 1.6 0 1 0 -3.2 0M148.6 224.5a1.6 1.6 0 1 0 3.2 0a1.6 1.6 0 1 0 -3.2 0M149.4 225.3a1.6 1.6 0 1 0 3.2 0a1.6 1.6 0 1 0 -3.2 0M149.9 225.4a1.6 1.6 0 1 0 3.2 0a1.6 1.6 0 1 0 -3.2 0M150.2 225.8a1.6 1.6 0 1 0 3.2 0a1.6 1.6 0 1 0 -3.2 0M150.8 226.8a1.6 1.6 0 1 0 3.2 0a1.6 1.6 0 1 0 -3.2 0M151.5 227.8a1.6 1.6 0 1 0 3.2 0a1.6 1.6 0 1 0 -3.2 0M152.1 227.3a1.6 1.6 0 1 0 3.2 0a1.6 1.6 0 1 0 -3.2 0M152.8 229.5a1.6 1.6 0 1 0 3.2 0a1.6 1.6 0 1 0 -3.2 0M153.8 228.1a1.6 1.6 0 1 0 3.2 0a1.6 1.6 0 1 0 -3.2 0M154.4 229.9a1.6 1.6 0 1 0 3.2 0a1.6 1.6 0 1 0 -3.2 0M155.3 231.7a1.6 1.6 0 1 0 3.2 0a1.6 1.6 0 1 0 -3.2 0M155.8 233.2a1.6 1.6 0 1 0 3.2 0a1.6 1.6 0 1 0 -3.2 0M156.7 236.2a1.6 1.6 0 1 0 3.2 0a1.6 1.6 0 1 0 -3.2 0M157.0 237.7a1.6 1.6 0 1 0 3.2 0a1.6 1.6 0 1 0 -3.2 0M157.9 240.2a1.6 1.6 0 1 0 3.2 0a1.6 1.6 0 1 0 -3.2 0M158.3 242.4a1.6 1.6 0 1 0 3.2 0a1.6 1.6 0 1 0 -3.2 0M158.8 245.0a1.6 1.6 0 1 0 3.2 0a1.6 1.6 0 1 0 -3.2 0M159.8 246.5a1.6 1.6 0 1 0 3.2 0a1.6 1.6 0 1 0 -3.2 0M160.3 250.0a1.6 1.6 0 1 0 3.2 0a1.6 1.6 0 1 0 -3.2 0M160.5 251.1a1.6 1.6 0 1 0 3.2 0a1.6 1.6 0 1 0 -3.2 0M161.1 252.1a1.6 1.6 0 1 0 3.2 0a1.6 1.6 0 1 0 -3.2 0M161.2 252.3a1.6 1.6 0 1 0 3.2 0a1.6 1.6 0 1 0 -3.2 0M162.0 251.9a1.6 1.6 0 1 0 3.2 0a1.6 1.6 0 1 0 -3.2 0M162.4 254.9a1.6 1.6 0 1 0 3.2 0a1.6 1.6 0 1 0 -3.2 0M162.9 254.9a1.6 1.6 0 1 0 3.2 0a1.6 1.6 0 1 0 -3.2 0M163.3 253.7a1.6 1.6 0 1 0 3.2 0a1.6 1.6 0 1 0 -3.2 0M163.7 254.5a1.6 1.6 0 1 0 3.2 0a1.6 1.6 0 1 0 -3.2 0M164.5 254.1a1.6 1.6 0 1 0 3.2 0a1.6 1.6 0 1 0 -3.2 0M165.2 255.9a1.6 1.6 0 1 0 3.2 0a1.6 1.6 0 1 0 -3.2 0M165.4 256.0a1.6 1.6 0 1 0 3.2 0a1.6 1.6 0 1 0 -3.2 0M166.3 255.3a1.6 1.6 0 1 0 3.2 0a1.6 1.6 0 1 0 -3.2 0M166.8 254.5a1.6 1.6 0 1 0 3.2 0a1.6 1.6 0 1 0 -3.2 0M167.6 254.4a1.6 1.6 0 1 0 3.2 0a1.6 1.6 0 1 0 -3.2 0M167.9 254.3a1.6 1.6 0 1 0 3.2 0a1.6 1.6 0 1 0 -3.2 0M168.4 254.5a1.6 1.6 0 1 0 3.2 0a1.6 1.6 0 1 0 -3.2 0M169.0 255.5a1.6 1.6 0 1 0 3.2 0a1.6 1.6 0 1 0 -3.2 0M169.6 255.6a1.6 1.6 0 1 0 3.2 0a1.6 1.6 0 1 0 -3.2 0M170.4 255.6a1.6 1.6 0 1 0 3.2 0a1.6 1.6 0 1 0 -3.2 0M170.8 254.6a1.6 1.6 0 1 0 3.2 0a1.6 1.6 0 1 0 -3.2 0M171.4 255.3a1.6 1.6 0 1 0 3.2 0a1.6 1.6 0 1 0 -3.2 0M172.2 253.7a1.6 1.6 0 1 0 3.2 0a1.6 1.6 0 1 0 -3.2 0M172.7 254.3a1.6 1.6 0 1 0 3.2 0a1.6 1.6 0 1 0 -3.2 0M173.0 252.7a1.6 1.6 0 1 0 3.2 0a1.6 1.6 0 1 0 -3.2 0M173.8 252.7a1.6 1.6 0 1 0 3.2 0a1.6 1.6 0 1 0 -3.2 0M174.2 252.4a1.6 1.6 0 1 0 3.2 0a1.6 1.6 0 1 0 -3.2 0M174.7 251.1a1.6 1.6 0 1 0 3.2 0a1.6 1.6 0 1 0 -3.2 0M175.2 249.3a1.6 1.6 0 1 0 3.2 0a1.6 1.6 0 1 0 -3.2 0M175.9 250.0a1.6 1.6 0 1 0 3.2 0a1.6 1.6 0 1 0 -3.2 0M176.2 248.6a1.6 1.6 0 1 0 3.2 0a1.6 1.6 0 1 0 -3.2 0M176.8 248.5a1.6 1.6 0 1 0 3.2 0a1.6 1.6 0 1 0 -3.2 0M177.3 246.6a1.6 1.6 0 1 0 3.2 0a1.6 1.6 0 1 0 -3.2 0M178.0 246.0a1.6 1.6 0 1 0 3.2 0a1.6 1.6 0 1 0 -3.2 0M178.5 244.7a1.6 1.6 0 1 0 3.2 0a1.6 1.6 0 1 0 -3.2 0M179.0 243.2a1.6 1.6 0 1 0 3.2 0a1.6 1.6 0 1 0 -3.2 0M179.5 241.3a1.6 1.6 0 1 0 3.2 0a1.6 1.6 0 1 0 -3.2 0M179.9 239.7a1.6 1.6 0 1 0 3.2 0a1.6 1.6 0 1 0 -3.2 0M180.8 237.7a1.6 1.6 0 1 0 3.2 0a1.6 1.6 0 1 0 -3.2 0M181.3 235.7a1.6 1.6 0 1 0 3.2 0a1.6 1.6 0 1 0 -3.2 0M182.0 233.7a1.6 1.6 0 1 0 3.2 0a1.6 1.6 0 1 0 -3.2 0M182.4 231.8a1.6 1.6 0 1 0 3.2 0a1.6 1.6 0 1 0 -3.2 0M183.0 230.3a1.6 1.6 0 1 0 3.2 0a1.6 1.6 0 1 0 -3.2 0M183.6 229.1a1.6 1.6 0 1 0 3.2 0a1.6 1.6 0 1 0 -3.2 0M184.8 226.2a1.6 1.6 0 1 0 3.2 0a1.6 1.6 0 1 0 -3.2 0M185.6 225.0a1.6 1.6 0 1 0 3.2 0a1.6 1.6 0 1 0 -3.2 0M186.2 225.2a1.6 1.6 0 1 0 3.2 0a1.6 1.6 0 1 0 -3.2 0M186.7 225.1a1.6 1.6 0 1 0 3.2 0a1.6 1.6 0 1 0 -3.2 0M187.3 224.3a1.6 1.6 0 1 0 3.2 0a1.6 1.6 0 1 0 -3.2 0M188.1 222.2a1.6 1.6 0 1 0 3.2 0a1.6 1.6 0 1 0 -3.2 0M188.8 222.5a1.6 1.6 0 1 0 3.2 0a1.6 1.6 0 1 0 -3.2 0M189.8 222.2a1.6 1.6 0 1 0 3.2 0a1.6 1.6 0 1 0 -3.2 0M190.2 223.8a1.6 1.6 0 1 0 3.2 0a1.6 1.6 0 1 0 -3.2 0M191.1 222.3a1.6 1.6 0 1 0 3.2 0a1.6 1.6 0 1 0 -3.2 0M191.6 224.8a1.6 1.6 0 1 0 3.2 0a1.6 1.6 0 1 0 -3.2 0M192.3 226.0a1.6 1.6 0 1 0 3.2 0a1.6 1.6 0 1 0 -3.2 0M192.9 224.5a1.6 1.6 0 1 0 3.2 0a1.6 1.6 0 1 0 -3.2 0M193.7 225.6a1.6 1.6 0 1 0 3.2 0a1.6 1.6 0 1 0 -3.2 0M194.1 227.4a1.6 1.6 0 1 0 3.2 0a1.6 1.6 0 1 0 -3.2 0M195.0 227.4a1.6 1.6 0 1 0 3.2 0a1.6 1.6 0 1 0 -3.2 0M195.7 227.4a1.6 1.6 0 1 0 3.2 0a1.6 1.6 0 1 0 -3.2 0M196.5 227.2a1.6 1.6 0 1 0 3.2 0a1.6 1.6 0 1 0 -3.2 0M197.1 229.6a1.6 1.6 0 1 0 3.2 0a1.6 1.6 0 1 0 -3.2 0M197.8 231.5a1.6 1.6 0 1 0 3.2 0a1.6 1.6 0 1 0 -3.2 0M198.6 234.4a1.6 1.6 0 1 0 3.2 0a1.6 1.6 0 1 0 -3.2 0M199.1 236.0a1.6 1.6 0 1 0 3.2 0a1.6 1.6 0 1 0 -3.2 0M199.8 237.7a1.6 1.6 0 1 0 3.2 0a1.6 1.6 0 1 0 -3.2 0M200.1 239.1a1.6 1.6 0 1 0 3.2 0a1.6 1.6 0 1 0 -3.2 0M200.8 241.2a1.6 1.6 0 1 0 3.2 0a1.6 1.6 0 1 0 -3.2 0M201.2 243.4a1.6 1.6 0 1 0 3.2 0a1.6 1.6 0 1 0 -3.2 0M202.1 244.5a1.6 1.6 0 1 0 3.2 0a1.6 1.6 0 1 0 -3.2 0M202.5 243.9a1.6 1.6 0 1 0 3.2 0a1.6 1.6 0 1 0 -3.2 0M203.0 245.8a1.6 1.6 0 1 0 3.2 0a1.6 1.6 0 1 0 -3.2 0M203.6 246.7a1.6 1.6 0 1 0 3.2 0a1.6 1.6 0 1 0 -3.2 0M204.2 247.7a1.6 1.6 0 1 0 3.2 0a1.6 1.6 0 1 0 -3.2 0M205.0 250.5a1.6 1.6 0 1 0 3.2 0a1.6 1.6 0 1 0 -3.2 0M205.6 251.7a1.6 1.6 0 1 0 3.2 0a1.6 1.6 0 1 0 -3.2 0M206.0 253.1a1.6 1.6 0 1 0 3.2 0a1.6 1.6 0 1 0 -3.2 0M206.5 253.4a1.6 1.6 0 1 0 3.2 0a1.6 1.6 0 1 0 -3.2 0M206.8 255.2a1.6 1.6 0 1 0 3.2 0a1.6 1.6 0 1 0 -3.2 0M207.4 253.5a1.6 1.6 0 1 0 3.2 0a1.6 1.6 0 1 0 -3.2 0M208.1 256.7a1.6 1.6 0 1 0 3.2 0a1.6 1.6 0 1 0 -3.2 0M208.5 258.6a1.6 1.6 0 1 0 3.2 0a1.6 1.6 0 1 0 -3.2 0M208.9 256.4a1.6 1.6 0 1 0 3.2 0a1.6 1.6 0 1 0 -3.2 0M209.5 257.8a1.6 1.6 0 1 0 3.2 0a1.6 1.6 0 1 0 -3.2 0M209.9 257.1a1.6 1.6 0 1 0 3.2 0a1.6 1.6 0 1 0 -3.2 0M210.4 254.6a1.6 1.6 0 1 0 3.2 0a1.6 1.6 0 1 0 -3.2 0M211.0 255.3a1.6 1.6 0 1 0 3.2 0a1.6 1.6 0 1 0 -3.2 0M211.7 255.7a1.6 1.6 0 1 0 3.2 0a1.6 1.6 0 1 0 -3.2 0M212.3 256.3a1.6 1.6 0 1 0 3.2 0a1.6 1.6 0 1 0 -3.2 0M212.6 255.7a1.6 1.6 0 1 0 3.2 0a1.6 1.6 0 1 0 -3.2 0M213.3 256.0a1.6 1.6 0 1 0 3.2 0a1.6 1.6 0 1 0 -3.2 0M213.7 254.0a1.6 1.6 0 1 0 3.2 0a1.6 1.6 0 1 0 -3.2 0M214.5 253.3a1.6 1.6 0 1 0 3.2 0a1.6 1.6 0 1 0 -3.2 0M215.0 252.4a1.6 1.6 0 1 0 3.2 0a1.6 1.6 0 1 0 -3.2 0M215.5 252.6a1.6 1.6 0 1 0 3.2 0a1.6 1.6 0 1 0 -3.2 0M216.0 252.9a1.6 1.6 0 1 0 3.2 0a1.6 1.6 0 1 0 -3.2 0M216.7 253.0a1.6 1.6 0 1 0 3.2 0a1.6 1.6 0 1 0 -3.2 0M217.0 251.0a1.6 1.6 0 1 0 3.2 0a1.6 1.6 0 1 0 -3.2 0M217.4 249.1a1.6 1.6 0 1 0 3.2 0a1.6 1.6 0 1 0 -3.2 0M217.9 248.1a1.6 1.6 0 1 0 3.2 0a1.6 1.6 0 1 0 -3.2 0M218.4 247.3a1.6 1.6 0 1 0 3.2 0a1.6 1.6 0 1 0 -3.2 0M218.9 243.7a1.6 1.6 0 1 0 3.2 0a1.6 1.6 0 1 0 -3.2 0M219.6 241.2a1.6 1.6 0 1 0 3.2 0a1.6 1.6 0 1 0 -3.2 0M220.2 239.3a1.6 1.6 0 1 0 3.2 0a1.6 1.6 0 1 0 -3.2 0M220.6 236.3a1.6 1.6 0 1 0 3.2 0a1.6 1.6 0 1 0 -3.2 0M221.4 234.1a1.6 1.6 0 1 0 3.2 0a1.6 1.6 0 1 0 -3.2 0M222.1 230.2a1.6 1.6 0 1 0 3.2 0a1.6 1.6 0 1 0 -3.2 0M222.7 230.3a1.6 1.6 0 1 0 3.2 0a1.6 1.6 0 1 0 -3.2 0M223.3 227.8a1.6 1.6 0 1 0 3.2 0a1.6 1.6 0 1 0 -3.2 0M223.7 224.7a1.6 1.6 0 1 0 3.2 0a1.6 1.6 0 1 0 -3.2 0M224.6 222.1a1.6 1.6 0 1 0 3.2 0a1.6 1.6 0 1 0 -3.2 0M225.7 220.3a1.6 1.6 0 1 0 3.2 0a1.6 1.6 0 1 0 -3.2 0M226.2 220.3a1.6 1.6 0 1 0 3.2 0a1.6 1.6 0 1 0 -3.2 0M227.2 220.9a1.6 1.6 0 1 0 3.2 0a1.6 1.6 0 1 0 -3.2 0M227.9 220.3a1.6 1.6 0 1 0 3.2 0a1.6 1.6 0 1 0 -3.2 0M228.5 219.6a1.6 1.6 0 1 0 3.2 0a1.6 1.6 0 1 0 -3.2 0M229.4 219.9a1.6 1.6 0 1 0 3.2 0a1.6 1.6 0 1 0 -3.2 0M230.3 219.3a1.6 1.6 0 1 0 3.2 0a1.6 1.6 0 1 0 -3.2 0M231.0 222.3a1.6 1.6 0 1 0 3.2 0a1.6 1.6 0 1 0 -3.2 0M231.8 220.9a1.6 1.6 0 1 0 3.2 0a1.6 1.6 0 1 0 -3.2 0M232.5 222.9a1.6 1.6 0 1 0 3.2 0a1.6 1.6 0 1 0 -3.2 0M232.9 224.7a1.6 1.6 0 1 0 3.2 0a1.6 1.6 0 1 0 -3.2 0M233.8 225.3a1.6 1.6 0 1 0 3.2 0a1.6 1.6 0 1 0 -3.2 0M234.4 227.7a1.6 1.6 0 1 0 3.2 0a1.6 1.6 0 1 0 -3.2 0M234.9 228.5a1.6 1.6 0 1 0 3.2 0a1.6 1.6 0 1 0 -3.2 0M235.7 231.6a1.6 1.6 0 1 0 3.2 0a1.6 1.6 0 1 0 -3.2 0M236.0 231.5a1.6 1.6 0 1 0 3.2 0a1.6 1.6 0 1 0 -3.2 0M236.9 234.2a1.6 1.6 0 1 0 3.2 0a1.6 1.6 0 1 0 -3.2 0M237.6 235.6a1.6 1.6 0 1 0 3.2 0a1.6 1.6 0 1 0 -3.2 0M237.9 237.7a1.6 1.6 0 1 0 3.2 0a1.6 1.6 0 1 0 -3.2 0M238.6 237.8a1.6 1.6 0 1 0 3.2 0a1.6 1.6 0 1 0 -3.2 0M239.2 238.5a1.6 1.6 0 1 0 3.2 0a1.6 1.6 0 1 0 -3.2 0M239.9 242.1a1.6 1.6 0 1 0 3.2 0a1.6 1.6 0 1 0 -3.2 0M240.4 243.7a1.6 1.6 0 1 0 3.2 0a1.6 1.6 0 1 0 -3.2 0M241.2 245.0a1.6 1.6 0 1 0 3.2 0a1.6 1.6 0 1 0 -3.2 0M241.6 246.0a1.6 1.6 0 1 0 3.2 0a1.6 1.6 0 1 0 -3.2 0M242.4 248.1a1.6 1.6 0 1 0 3.2 0a1.6 1.6 0 1 0 -3.2 0M242.9 251.0a1.6 1.6 0 1 0 3.2 0a1.6 1.6 0 1 0 -3.2 0M243.5 252.9a1.6 1.6 0 1 0 3.2 0a1.6 1.6 0 1 0 -3.2 0M244.1 254.0a1.6 1.6 0 1 0 3.2 0a1.6 1.6 0 1 0 -3.2 0M244.5 253.0a1.6 1.6 0 1 0 3.2 0a1.6 1.6 0 1 0 -3.2 0M245.2 257.0a1.6 1.6 0 1 0 3.2 0a1.6 1.6 0 1 0 -3.2 0M245.9 258.8a1.6 1.6 0 1 0 3.2 0a1.6 1.6 0 1 0 -3.2 0M246.3 259.9a1.6 1.6 0 1 0 3.2 0a1.6 1.6 0 1 0 -3.2 0M246.9 260.6a1.6 1.6 0 1 0 3.2 0a1.6 1.6 0 1 0 -3.2 0M247.2 260.6a1.6 1.6 0 1 0 3.2 0a1.6 1.6 0 1 0 -3.2 0M247.4 262.8a1.6 1.6 0 1 0 3.2 0a1.6 1.6 0 1 0 -3.2 0M248.1 261.1a1.6 1.6 0 1 0 3.2 0a1.6 1.6 0 1 0 -3.2 0M248.5 263.4a1.6 1.6 0 1 0 3.2 0a1.6 1.6 0 1 0 -3.2 0M248.9 262.2a1.6 1.6 0 1 0 3.2 0a1.6 1.6 0 1 0 -3.2 0M249.8 262.9a1.6 1.6 0 1 0 3.2 0a1.6 1.6 0 1 0 -3.2 0M250.3 263.0a1.6 1.6 0 1 0 3.2 0a1.6 1.6 0 1 0 -3.2 0M250.8 262.7a1.6 1.6 0 1 0 3.2 0a1.6 1.6 0 1 0 -3.2 0M251.4 261.8a1.6 1.6 0 1 0 3.2 0a1.6 1.6 0 1 0 -3.2 0M252.0 262.2a1.6 1.6 0 1 0 3.2 0a1.6 1.6 0 1 0 -3.2 0M252.4 262.0a1.6 1.6 0 1 0 3.2 0a1.6 1.6 0 1 0 -3.2 0M253.0 262.3a1.6 1.6 0 1 0 3.2 0a1.6 1.6 0 1 0 -3.2 0M253.8 262.9a1.6 1.6 0 1 0 3.2 0a1.6 1.6 0 1 0 -3.2 0M254.3 262.6a1.6 1.6 0 1 0 3.2 0a1.6 1.6 0 1 0 -3.2 0M255.1 262.6a1.6 1.6 0 1 0 3.2 0a1.6 1.6 0 1 0 -3.2 0M255.6 263.3a1.6 1.6 0 1 0 3.2 0a1.6 1.6 0 1 0 -3.2 0M256.1 261.8a1.6 1.6 0 1 0 3.2 0a1.6 1.6 0 1 0 -3.2 0M257.0 262.3a1.6 1.6 0 1 0 3.2 0a1.6 1.6 0 1 0 -3.2 0M257.6 263.7a1.6 1.6 0 1 0 3.2 0a1.6 1.6 0 1 0 -3.2 0M258.1 262.9a1.6 1.6 0 1 0 3.2 0a1.6 1.6 0 1 0 -3.2 0M258.8 262.9a1.6 1.6 0 1 0 3.2 0a1.6 1.6 0 1 0 -3.2 0M259.3 261.6a1.6 1.6 0 1 0 3.2 0a1.6 1.6 0 1 0 -3.2 0M259.7 262.4a1.6 1.6 0 1 0 3.2 0a1.6 1.6 0 1 0 -3.2 0M260.6 264.1a1.6 1.6 0 1 0 3.2 0a1.6 1.6 0 1 0 -3.2 0M261.2 262.4a1.6 1.6 0 1 0 3.2 0a1.6 1.6 0 1 0 -3.2 0M261.7 262.1a1.6 1.6 0 1 0 3.2 0a1.6 1.6 0 1 0 -3.2 0M262.3 261.6a1.6 1.6 0 1 0 3.2 0a1.6 1.6 0 1 0 -3.2 0M262.7 262.7a1.6 1.6 0 1 0 3.2 0a1.6 1.6 0 1 0 -3.2 0M263.4 262.5a1.6 1.6 0 1 0 3.2 0a1.6 1.6 0 1 0 -3.2 0M263.9 262.9a1.6 1.6 0 1 0 3.2 0a1.6 1.6 0 1 0 -3.2 0M264.5 263.7a1.6 1.6 0 1 0 3.2 0a1.6 1.6 0 1 0 -3.2 0M265.1 262.7a1.6 1.6 0 1 0 3.2 0a1.6 1.6 0 1 0 -3.2 0M265.7 262.8a1.6 1.6 0 1 0 3.2 0a1.6 1.6 0 1 0 -3.2 0M266.3 263.5a1.6 1.6 0 1 0 3.2 0a1.6 1.6 0 1 0 -3.2 0M266.8 263.4a1.6 1.6 0 1 0 3.2 0a1.6 1.6 0 1 0 -3.2 0M267.6 262.1a1.6 1.6 0 1 0 3.2 0a1.6 1.6 0 1 0 -3.2 0M268.2 262.6a1.6 1.6 0 1 0 3.2 0a1.6 1.6 0 1 0 -3.2 0M268.6 263.2a1.6 1.6 0 1 0 3.2 0a1.6 1.6 0 1 0 -3.2 0M269.3 262.3a1.6 1.6 0 1 0 3.2 0a1.6 1.6 0 1 0 -3.2 0M270.0 264.0a1.6 1.6 0 1 0 3.2 0a1.6 1.6 0 1 0 -3.2 0M270.8 261.8a1.6 1.6 0 1 0 3.2 0a1.6 1.6 0 1 0 -3.2 0M271.2 264.3a1.6 1.6 0 1 0 3.2 0a1.6 1.6 0 1 0 -3.2 0M271.6 263.2a1.6 1.6 0 1 0 3.2 0a1.6 1.6 0 1 0 -3.2 0M272.6 263.7a1.6 1.6 0 1 0 3.2 0a1.6 1.6 0 1 0 -3.2 0M272.9 262.9a1.6 1.6 0 1 0 3.2 0a1.6 1.6 0 1 0 -3.2 0M273.7 261.9a1.6 1.6 0 1 0 3.2 0a1.6 1.6 0 1 0 -3.2 0M274.0 261.1a1.6 1.6 0 1 0 3.2 0a1.6 1.6 0 1 0 -3.2 0M274.7 262.9a1.6 1.6 0 1 0 3.2 0a1.6 1.6 0 1 0 -3.2 0M275.3 263.3a1.6 1.6 0 1 0 3.2 0a1.6 1.6 0 1 0 -3.2 0M275.9 262.9a1.6 1.6 0 1 0 3.2 0a1.6 1.6 0 1 0 -3.2 0M276.7 263.0a1.6 1.6 0 1 0 3.2 0a1.6 1.6 0 1 0 -3.2 0M155.2 223.2a1.6 1.6 0 1 0 3.2 0a1.6 1.6 0 1 0 -3.2 0" fill="none" stroke="#2a6e34" stroke-width="0.65" stroke-opacity="0.9"/>
<path d="M51.0,263.0 C57.8,263.0 84.5,263.4 92.0,262.8 C99.5,262.2 94.8,261.3 96.0,259.5 C97.2,257.7 98.0,254.6 99.0,252.0 C100.0,249.4 101.0,246.0 102.0,244.0 C103.0,242.0 103.9,241.0 105.0,240.2 C106.1,239.4 107.3,239.3 108.5,239.2 C109.7,239.1 110.8,238.9 112.0,239.5 C113.2,240.1 114.8,241.1 116.0,243.0 C117.2,244.9 117.8,248.3 119.0,251.0 C120.2,253.7 121.7,257.3 123.0,259.0 C124.3,260.7 125.4,261.3 126.6,261.2 C127.8,261.1 128.8,260.4 130.0,258.5 C131.2,256.6 132.8,253.0 134.0,250.0 C135.2,247.0 136.0,243.8 137.0,240.5 C138.0,237.2 139.0,233.2 140.0,230.5 C141.0,227.8 141.9,225.9 143.0,224.5 C144.1,223.1 145.5,222.2 146.5,221.8 C147.5,221.4 148.1,221.7 149.0,222.3 C149.9,222.9 151.0,224.0 152.0,225.5 C153.0,227.0 154.0,228.9 155.0,231.5 C156.0,234.1 157.0,237.8 158.0,241.0 C159.0,244.2 160.0,248.3 161.0,251.0 C162.0,253.7 162.8,255.6 164.0,257.0 C165.2,258.4 166.7,259.2 168.0,259.5 C169.3,259.8 170.7,259.2 172.0,258.5 C173.3,257.8 174.8,256.4 176.0,255.0 C177.2,253.6 178.0,252.0 179.0,250.0 C180.0,248.0 181.0,245.8 182.0,243.0 C183.0,240.2 184.0,235.9 185.0,233.0 C186.0,230.1 187.0,227.1 188.0,225.5 C189.0,223.9 189.9,223.3 191.0,223.2 C192.1,223.1 193.3,223.7 194.5,225.0 C195.7,226.3 196.9,228.6 198.0,231.0 C199.1,233.4 199.8,236.5 201.0,239.5 C202.2,242.5 203.7,246.2 205.0,249.0 C206.3,251.8 207.7,255.2 209.0,256.5 C210.3,257.8 211.5,257.0 213.0,256.5 C214.5,256.0 216.7,254.9 218.0,253.5 C219.3,252.1 220.0,250.9 221.0,248.0 C222.0,245.1 223.0,239.8 224.0,236.0 C225.0,232.2 226.0,227.6 227.0,225.0 C228.0,222.4 229.0,220.8 230.0,220.5 C231.0,220.2 231.8,221.5 233.0,223.5 C234.2,225.5 235.7,229.1 237.0,232.4 C238.3,235.7 239.7,239.7 241.0,243.3 C242.3,247.0 243.8,251.4 245.0,254.3 C246.2,257.2 246.8,259.6 248.0,261.0 C249.2,262.4 246.9,262.4 252.0,262.7 C257.1,263.0 272.1,262.8 278.6,262.9 C285.1,262.9 288.9,263.0 291.0,263.0" fill="none" stroke="#2a6e34" stroke-width="1.2"/>
<line x1="51" y1="325.4" x2="291" y2="325.4" stroke="#444" stroke-width="1.1"/>
<line x1="45.5" y1="294.4" x2="51" y2="294.4" stroke="#555" stroke-width="1"/>
<text x="39.8" y="298.1" font-size="10.5" text-anchor="end" fill="#333">100</text>
<line x1="45.5" y1="325.3" x2="51" y2="325.3" stroke="#555" stroke-width="1"/>
<text x="39.8" y="329.0" font-size="10.5" text-anchor="end" fill="#333">0</text>
<text x="56.8" y="284.7" font-size="10.7" textLength="25.1" lengthAdjust="spacingAndGlyphs" fill="#d58a2c"><tspan font-style="italic">ν</tspan> = 13</text>
<path d="M65.3 324.0a1.6 1.6 0 1 0 3.2 0a1.6 1.6 0 1 0 -3.2 0M66.0 323.9a1.6 1.6 0 1 0 3.2 0a1.6 1.6 0 1 0 -3.2 0M66.5 322.3a1.6 1.6 0 1 0 3.2 0a1.6 1.6 0 1 0 -3.2 0M67.3 324.2a1.6 1.6 0 1 0 3.2 0a1.6 1.6 0 1 0 -3.2 0M67.6 322.9a1.6 1.6 0 1 0 3.2 0a1.6 1.6 0 1 0 -3.2 0M68.5 323.6a1.6 1.6 0 1 0 3.2 0a1.6 1.6 0 1 0 -3.2 0M68.8 322.6a1.6 1.6 0 1 0 3.2 0a1.6 1.6 0 1 0 -3.2 0M69.5 321.5a1.6 1.6 0 1 0 3.2 0a1.6 1.6 0 1 0 -3.2 0M70.2 322.7a1.6 1.6 0 1 0 3.2 0a1.6 1.6 0 1 0 -3.2 0M71.0 323.2a1.6 1.6 0 1 0 3.2 0a1.6 1.6 0 1 0 -3.2 0M71.5 323.7a1.6 1.6 0 1 0 3.2 0a1.6 1.6 0 1 0 -3.2 0M72.0 322.0a1.6 1.6 0 1 0 3.2 0a1.6 1.6 0 1 0 -3.2 0M72.5 323.7a1.6 1.6 0 1 0 3.2 0a1.6 1.6 0 1 0 -3.2 0M73.0 322.8a1.6 1.6 0 1 0 3.2 0a1.6 1.6 0 1 0 -3.2 0M73.8 323.1a1.6 1.6 0 1 0 3.2 0a1.6 1.6 0 1 0 -3.2 0M74.3 321.9a1.6 1.6 0 1 0 3.2 0a1.6 1.6 0 1 0 -3.2 0M74.9 323.0a1.6 1.6 0 1 0 3.2 0a1.6 1.6 0 1 0 -3.2 0M75.6 324.8a1.6 1.6 0 1 0 3.2 0a1.6 1.6 0 1 0 -3.2 0M76.2 323.1a1.6 1.6 0 1 0 3.2 0a1.6 1.6 0 1 0 -3.2 0M77.0 324.0a1.6 1.6 0 1 0 3.2 0a1.6 1.6 0 1 0 -3.2 0M77.5 323.3a1.6 1.6 0 1 0 3.2 0a1.6 1.6 0 1 0 -3.2 0M77.9 323.3a1.6 1.6 0 1 0 3.2 0a1.6 1.6 0 1 0 -3.2 0M78.4 323.1a1.6 1.6 0 1 0 3.2 0a1.6 1.6 0 1 0 -3.2 0M79.3 324.1a1.6 1.6 0 1 0 3.2 0a1.6 1.6 0 1 0 -3.2 0M79.8 323.6a1.6 1.6 0 1 0 3.2 0a1.6 1.6 0 1 0 -3.2 0M80.4 322.0a1.6 1.6 0 1 0 3.2 0a1.6 1.6 0 1 0 -3.2 0M81.1 322.3a1.6 1.6 0 1 0 3.2 0a1.6 1.6 0 1 0 -3.2 0M81.6 322.2a1.6 1.6 0 1 0 3.2 0a1.6 1.6 0 1 0 -3.2 0M82.1 323.9a1.6 1.6 0 1 0 3.2 0a1.6 1.6 0 1 0 -3.2 0M82.9 322.9a1.6 1.6 0 1 0 3.2 0a1.6 1.6 0 1 0 -3.2 0M83.3 321.4a1.6 1.6 0 1 0 3.2 0a1.6 1.6 0 1 0 -3.2 0M84.1 323.6a1.6 1.6 0 1 0 3.2 0a1.6 1.6 0 1 0 -3.2 0M84.5 322.6a1.6 1.6 0 1 0 3.2 0a1.6 1.6 0 1 0 -3.2 0M85.2 323.1a1.6 1.6 0 1 0 3.2 0a1.6 1.6 0 1 0 -3.2 0M85.6 322.6a1.6 1.6 0 1 0 3.2 0a1.6 1.6 0 1 0 -3.2 0M86.4 322.0a1.6 1.6 0 1 0 3.2 0a1.6 1.6 0 1 0 -3.2 0M86.9 321.6a1.6 1.6 0 1 0 3.2 0a1.6 1.6 0 1 0 -3.2 0M87.8 322.9a1.6 1.6 0 1 0 3.2 0a1.6 1.6 0 1 0 -3.2 0M88.0 324.0a1.6 1.6 0 1 0 3.2 0a1.6 1.6 0 1 0 -3.2 0M88.6 322.9a1.6 1.6 0 1 0 3.2 0a1.6 1.6 0 1 0 -3.2 0M89.4 322.9a1.6 1.6 0 1 0 3.2 0a1.6 1.6 0 1 0 -3.2 0M90.0 323.5a1.6 1.6 0 1 0 3.2 0a1.6 1.6 0 1 0 -3.2 0M90.5 324.4a1.6 1.6 0 1 0 3.2 0a1.6 1.6 0 1 0 -3.2 0M91.1 323.3a1.6 1.6 0 1 0 3.2 0a1.6 1.6 0 1 0 -3.2 0M92.0 323.9a1.6 1.6 0 1 0 3.2 0a1.6 1.6 0 1 0 -3.2 0M92.3 324.1a1.6 1.6 0 1 0 3.2 0a1.6 1.6 0 1 0 -3.2 0M92.9 323.0a1.6 1.6 0 1 0 3.2 0a1.6 1.6 0 1 0 -3.2 0M93.8 321.6a1.6 1.6 0 1 0 3.2 0a1.6 1.6 0 1 0 -3.2 0M94.1 322.7a1.6 1.6 0 1 0 3.2 0a1.6 1.6 0 1 0 -3.2 0M94.9 322.1a1.6 1.6 0 1 0 3.2 0a1.6 1.6 0 1 0 -3.2 0M95.6 322.9a1.6 1.6 0 1 0 3.2 0a1.6 1.6 0 1 0 -3.2 0M95.9 322.7a1.6 1.6 0 1 0 3.2 0a1.6 1.6 0 1 0 -3.2 0M96.7 322.5a1.6 1.6 0 1 0 3.2 0a1.6 1.6 0 1 0 -3.2 0M97.2 323.0a1.6 1.6 0 1 0 3.2 0a1.6 1.6 0 1 0 -3.2 0M97.8 322.6a1.6 1.6 0 1 0 3.2 0a1.6 1.6 0 1 0 -3.2 0M98.4 324.5a1.6 1.6 0 1 0 3.2 0a1.6 1.6 0 1 0 -3.2 0M99.1 321.9a1.6 1.6 0 1 0 3.2 0a1.6 1.6 0 1 0 -3.2 0M99.5 322.8a1.6 1.6 0 1 0 3.2 0a1.6 1.6 0 1 0 -3.2 0M100.2 323.5a1.6 1.6 0 1 0 3.2 0a1.6 1.6 0 1 0 -3.2 0M100.7 323.2a1.6 1.6 0 1 0 3.2 0a1.6 1.6 0 1 0 -3.2 0M101.5 324.2a1.6 1.6 0 1 0 3.2 0a1.6 1.6 0 1 0 -3.2 0M101.9 323.4a1.6 1.6 0 1 0 3.2 0a1.6 1.6 0 1 0 -3.2 0M102.6 322.9a1.6 1.6 0 1 0 3.2 0a1.6 1.6 0 1 0 -3.2 0M103.1 323.9a1.6 1.6 0 1 0 3.2 0a1.6 1.6 0 1 0 -3.2 0M103.7 321.7a1.6 1.6 0 1 0 3.2 0a1.6 1.6 0 1 0 -3.2 0M104.5 323.2a1.6 1.6 0 1 0 3.2 0a1.6 1.6 0 1 0 -3.2 0M104.9 322.3a1.6 1.6 0 1 0 3.2 0a1.6 1.6 0 1 0 -3.2 0M105.6 323.2a1.6 1.6 0 1 0 3.2 0a1.6 1.6 0 1 0 -3.2 0M106.3 322.5a1.6 1.6 0 1 0 3.2 0a1.6 1.6 0 1 0 -3.2 0M106.8 321.8a1.6 1.6 0 1 0 3.2 0a1.6 1.6 0 1 0 -3.2 0M107.5 323.1a1.6 1.6 0 1 0 3.2 0a1.6 1.6 0 1 0 -3.2 0M107.8 323.3a1.6 1.6 0 1 0 3.2 0a1.6 1.6 0 1 0 -3.2 0M108.7 322.2a1.6 1.6 0 1 0 3.2 0a1.6 1.6 0 1 0 -3.2 0M109.3 323.3a1.6 1.6 0 1 0 3.2 0a1.6 1.6 0 1 0 -3.2 0M109.9 323.9a1.6 1.6 0 1 0 3.2 0a1.6 1.6 0 1 0 -3.2 0M110.2 322.7a1.6 1.6 0 1 0 3.2 0a1.6 1.6 0 1 0 -3.2 0M110.8 322.2a1.6 1.6 0 1 0 3.2 0a1.6 1.6 0 1 0 -3.2 0M110.9 321.9a1.6 1.6 0 1 0 3.2 0a1.6 1.6 0 1 0 -3.2 0M111.6 320.0a1.6 1.6 0 1 0 3.2 0a1.6 1.6 0 1 0 -3.2 0M111.9 320.0a1.6 1.6 0 1 0 3.2 0a1.6 1.6 0 1 0 -3.2 0M112.5 319.4a1.6 1.6 0 1 0 3.2 0a1.6 1.6 0 1 0 -3.2 0M113.0 318.2a1.6 1.6 0 1 0 3.2 0a1.6 1.6 0 1 0 -3.2 0M113.8 315.0a1.6 1.6 0 1 0 3.2 0a1.6 1.6 0 1 0 -3.2 0M114.3 314.7a1.6 1.6 0 1 0 3.2 0a1.6 1.6 0 1 0 -3.2 0M114.8 312.6a1.6 1.6 0 1 0 3.2 0a1.6 1.6 0 1 0 -3.2 0M115.3 311.7a1.6 1.6 0 1 0 3.2 0a1.6 1.6 0 1 0 -3.2 0M115.7 309.2a1.6 1.6 0 1 0 3.2 0a1.6 1.6 0 1 0 -3.2 0M116.4 307.2a1.6 1.6 0 1 0 3.2 0a1.6 1.6 0 1 0 -3.2 0M117.2 305.3a1.6 1.6 0 1 0 3.2 0a1.6 1.6 0 1 0 -3.2 0M117.5 303.4a1.6 1.6 0 1 0 3.2 0a1.6 1.6 0 1 0 -3.2 0M118.2 300.3a1.6 1.6 0 1 0 3.2 0a1.6 1.6 0 1 0 -3.2 0M118.7 297.8a1.6 1.6 0 1 0 3.2 0a1.6 1.6 0 1 0 -3.2 0M119.7 297.0a1.6 1.6 0 1 0 3.2 0a1.6 1.6 0 1 0 -3.2 0M120.4 295.6a1.6 1.6 0 1 0 3.2 0a1.6 1.6 0 1 0 -3.2 0M121.1 293.8a1.6 1.6 0 1 0 3.2 0a1.6 1.6 0 1 0 -3.2 0M121.9 292.2a1.6 1.6 0 1 0 3.2 0a1.6 1.6 0 1 0 -3.2 0M122.6 293.4a1.6 1.6 0 1 0 3.2 0a1.6 1.6 0 1 0 -3.2 0M123.3 294.5a1.6 1.6 0 1 0 3.2 0a1.6 1.6 0 1 0 -3.2 0M124.3 292.4a1.6 1.6 0 1 0 3.2 0a1.6 1.6 0 1 0 -3.2 0M125.0 293.2a1.6 1.6 0 1 0 3.2 0a1.6 1.6 0 1 0 -3.2 0M125.7 294.1a1.6 1.6 0 1 0 3.2 0a1.6 1.6 0 1 0 -3.2 0M126.5 293.6a1.6 1.6 0 1 0 3.2 0a1.6 1.6 0 1 0 -3.2 0M127.4 295.6a1.6 1.6 0 1 0 3.2 0a1.6 1.6 0 1 0 -3.2 0M127.9 298.0a1.6 1.6 0 1 0 3.2 0a1.6 1.6 0 1 0 -3.2 0M128.6 298.0a1.6 1.6 0 1 0 3.2 0a1.6 1.6 0 1 0 -3.2 0M129.1 297.9a1.6 1.6 0 1 0 3.2 0a1.6 1.6 0 1 0 -3.2 0M129.9 299.8a1.6 1.6 0 1 0 3.2 0a1.6 1.6 0 1 0 -3.2 0M130.5 301.1a1.6 1.6 0 1 0 3.2 0a1.6 1.6 0 1 0 -3.2 0M130.9 301.5a1.6 1.6 0 1 0 3.2 0a1.6 1.6 0 1 0 -3.2 0M131.5 304.2a1.6 1.6 0 1 0 3.2 0a1.6 1.6 0 1 0 -3.2 0M132.1 304.4a1.6 1.6 0 1 0 3.2 0a1.6 1.6 0 1 0 -3.2 0M132.7 307.4a1.6 1.6 0 1 0 3.2 0a1.6 1.6 0 1 0 -3.2 0M133.1 308.8a1.6 1.6 0 1 0 3.2 0a1.6 1.6 0 1 0 -3.2 0M133.9 308.2a1.6 1.6 0 1 0 3.2 0a1.6 1.6 0 1 0 -3.2 0M134.6 308.4a1.6 1.6 0 1 0 3.2 0a1.6 1.6 0 1 0 -3.2 0M135.1 309.8a1.6 1.6 0 1 0 3.2 0a1.6 1.6 0 1 0 -3.2 0M135.7 311.5a1.6 1.6 0 1 0 3.2 0a1.6 1.6 0 1 0 -3.2 0M136.7 312.6a1.6 1.6 0 1 0 3.2 0a1.6 1.6 0 1 0 -3.2 0M137.2 312.2a1.6 1.6 0 1 0 3.2 0a1.6 1.6 0 1 0 -3.2 0M138.1 315.3a1.6 1.6 0 1 0 3.2 0a1.6 1.6 0 1 0 -3.2 0M138.5 318.7a1.6 1.6 0 1 0 3.2 0a1.6 1.6 0 1 0 -3.2 0M138.8 319.2a1.6 1.6 0 1 0 3.2 0a1.6 1.6 0 1 0 -3.2 0M139.4 320.3a1.6 1.6 0 1 0 3.2 0a1.6 1.6 0 1 0 -3.2 0M139.9 320.1a1.6 1.6 0 1 0 3.2 0a1.6 1.6 0 1 0 -3.2 0M140.4 321.8a1.6 1.6 0 1 0 3.2 0a1.6 1.6 0 1 0 -3.2 0M140.6 321.5a1.6 1.6 0 1 0 3.2 0a1.6 1.6 0 1 0 -3.2 0M141.2 321.9a1.6 1.6 0 1 0 3.2 0a1.6 1.6 0 1 0 -3.2 0M141.9 322.5a1.6 1.6 0 1 0 3.2 0a1.6 1.6 0 1 0 -3.2 0M142.4 324.2a1.6 1.6 0 1 0 3.2 0a1.6 1.6 0 1 0 -3.2 0M143.0 323.4a1.6 1.6 0 1 0 3.2 0a1.6 1.6 0 1 0 -3.2 0M143.5 325.1a1.6 1.6 0 1 0 3.2 0a1.6 1.6 0 1 0 -3.2 0M144.0 323.7a1.6 1.6 0 1 0 3.2 0a1.6 1.6 0 1 0 -3.2 0M144.8 323.9a1.6 1.6 0 1 0 3.2 0a1.6 1.6 0 1 0 -3.2 0M145.2 324.2a1.6 1.6 0 1 0 3.2 0a1.6 1.6 0 1 0 -3.2 0M145.8 323.4a1.6 1.6 0 1 0 3.2 0a1.6 1.6 0 1 0 -3.2 0M146.3 325.5a1.6 1.6 0 1 0 3.2 0a1.6 1.6 0 1 0 -3.2 0M147.0 325.8a1.6 1.6 0 1 0 3.2 0a1.6 1.6 0 1 0 -3.2 0M147.6 322.8a1.6 1.6 0 1 0 3.2 0a1.6 1.6 0 1 0 -3.2 0M148.0 323.9a1.6 1.6 0 1 0 3.2 0a1.6 1.6 0 1 0 -3.2 0M148.6 324.5a1.6 1.6 0 1 0 3.2 0a1.6 1.6 0 1 0 -3.2 0M149.3 323.1a1.6 1.6 0 1 0 3.2 0a1.6 1.6 0 1 0 -3.2 0M150.0 325.0a1.6 1.6 0 1 0 3.2 0a1.6 1.6 0 1 0 -3.2 0M150.3 322.5a1.6 1.6 0 1 0 3.2 0a1.6 1.6 0 1 0 -3.2 0M151.0 324.0a1.6 1.6 0 1 0 3.2 0a1.6 1.6 0 1 0 -3.2 0M151.5 321.7a1.6 1.6 0 1 0 3.2 0a1.6 1.6 0 1 0 -3.2 0M152.0 322.7a1.6 1.6 0 1 0 3.2 0a1.6 1.6 0 1 0 -3.2 0M152.7 322.7a1.6 1.6 0 1 0 3.2 0a1.6 1.6 0 1 0 -3.2 0M153.5 321.1a1.6 1.6 0 1 0 3.2 0a1.6 1.6 0 1 0 -3.2 0M153.7 321.5a1.6 1.6 0 1 0 3.2 0a1.6 1.6 0 1 0 -3.2 0M154.4 322.4a1.6 1.6 0 1 0 3.2 0a1.6 1.6 0 1 0 -3.2 0M154.9 320.5a1.6 1.6 0 1 0 3.2 0a1.6 1.6 0 1 0 -3.2 0M155.4 320.2a1.6 1.6 0 1 0 3.2 0a1.6 1.6 0 1 0 -3.2 0M155.6 317.4a1.6 1.6 0 1 0 3.2 0a1.6 1.6 0 1 0 -3.2 0M156.2 316.7a1.6 1.6 0 1 0 3.2 0a1.6 1.6 0 1 0 -3.2 0M156.5 316.3a1.6 1.6 0 1 0 3.2 0a1.6 1.6 0 1 0 -3.2 0M157.1 313.2a1.6 1.6 0 1 0 3.2 0a1.6 1.6 0 1 0 -3.2 0M157.6 312.1a1.6 1.6 0 1 0 3.2 0a1.6 1.6 0 1 0 -3.2 0M158.3 309.0a1.6 1.6 0 1 0 3.2 0a1.6 1.6 0 1 0 -3.2 0M158.9 306.4a1.6 1.6 0 1 0 3.2 0a1.6 1.6 0 1 0 -3.2 0M159.7 303.4a1.6 1.6 0 1 0 3.2 0a1.6 1.6 0 1 0 -3.2 0M160.1 301.5a1.6 1.6 0 1 0 3.2 0a1.6 1.6 0 1 0 -3.2 0M160.9 299.1a1.6 1.6 0 1 0 3.2 0a1.6 1.6 0 1 0 -3.2 0M161.7 296.7a1.6 1.6 0 1 0 3.2 0a1.6 1.6 0 1 0 -3.2 0M162.5 293.8a1.6 1.6 0 1 0 3.2 0a1.6 1.6 0 1 0 -3.2 0M163.6 295.2a1.6 1.6 0 1 0 3.2 0a1.6 1.6 0 1 0 -3.2 0M164.2 295.1a1.6 1.6 0 1 0 3.2 0a1.6 1.6 0 1 0 -3.2 0M164.9 294.4a1.6 1.6 0 1 0 3.2 0a1.6 1.6 0 1 0 -3.2 0M165.7 293.9a1.6 1.6 0 1 0 3.2 0a1.6 1.6 0 1 0 -3.2 0M166.3 294.9a1.6 1.6 0 1 0 3.2 0a1.6 1.6 0 1 0 -3.2 0M167.0 293.7a1.6 1.6 0 1 0 3.2 0a1.6 1.6 0 1 0 -3.2 0M167.5 294.8a1.6 1.6 0 1 0 3.2 0a1.6 1.6 0 1 0 -3.2 0M168.2 295.0a1.6 1.6 0 1 0 3.2 0a1.6 1.6 0 1 0 -3.2 0M168.7 296.3a1.6 1.6 0 1 0 3.2 0a1.6 1.6 0 1 0 -3.2 0M169.2 294.0a1.6 1.6 0 1 0 3.2 0a1.6 1.6 0 1 0 -3.2 0M169.7 293.7a1.6 1.6 0 1 0 3.2 0a1.6 1.6 0 1 0 -3.2 0M170.6 293.7a1.6 1.6 0 1 0 3.2 0a1.6 1.6 0 1 0 -3.2 0M171.1 295.2a1.6 1.6 0 1 0 3.2 0a1.6 1.6 0 1 0 -3.2 0M172.0 294.8a1.6 1.6 0 1 0 3.2 0a1.6 1.6 0 1 0 -3.2 0M172.6 295.0a1.6 1.6 0 1 0 3.2 0a1.6 1.6 0 1 0 -3.2 0M173.2 294.3a1.6 1.6 0 1 0 3.2 0a1.6 1.6 0 1 0 -3.2 0M173.9 296.9a1.6 1.6 0 1 0 3.2 0a1.6 1.6 0 1 0 -3.2 0M174.6 298.0a1.6 1.6 0 1 0 3.2 0a1.6 1.6 0 1 0 -3.2 0M175.3 297.8a1.6 1.6 0 1 0 3.2 0a1.6 1.6 0 1 0 -3.2 0M175.9 299.9a1.6 1.6 0 1 0 3.2 0a1.6 1.6 0 1 0 -3.2 0M176.7 299.5a1.6 1.6 0 1 0 3.2 0a1.6 1.6 0 1 0 -3.2 0M177.3 303.0a1.6 1.6 0 1 0 3.2 0a1.6 1.6 0 1 0 -3.2 0M178.1 303.6a1.6 1.6 0 1 0 3.2 0a1.6 1.6 0 1 0 -3.2 0M178.9 305.2a1.6 1.6 0 1 0 3.2 0a1.6 1.6 0 1 0 -3.2 0M179.3 306.8a1.6 1.6 0 1 0 3.2 0a1.6 1.6 0 1 0 -3.2 0M179.8 309.4a1.6 1.6 0 1 0 3.2 0a1.6 1.6 0 1 0 -3.2 0M180.4 310.6a1.6 1.6 0 1 0 3.2 0a1.6 1.6 0 1 0 -3.2 0M181.1 312.2a1.6 1.6 0 1 0 3.2 0a1.6 1.6 0 1 0 -3.2 0M181.6 314.0a1.6 1.6 0 1 0 3.2 0a1.6 1.6 0 1 0 -3.2 0M182.0 315.0a1.6 1.6 0 1 0 3.2 0a1.6 1.6 0 1 0 -3.2 0M182.3 316.1a1.6 1.6 0 1 0 3.2 0a1.6 1.6 0 1 0 -3.2 0M182.6 314.1a1.6 1.6 0 1 0 3.2 0a1.6 1.6 0 1 0 -3.2 0M183.2 315.3a1.6 1.6 0 1 0 3.2 0a1.6 1.6 0 1 0 -3.2 0M183.8 317.2a1.6 1.6 0 1 0 3.2 0a1.6 1.6 0 1 0 -3.2 0M184.2 317.3a1.6 1.6 0 1 0 3.2 0a1.6 1.6 0 1 0 -3.2 0M184.5 317.3a1.6 1.6 0 1 0 3.2 0a1.6 1.6 0 1 0 -3.2 0M185.2 316.4a1.6 1.6 0 1 0 3.2 0a1.6 1.6 0 1 0 -3.2 0M185.8 316.2a1.6 1.6 0 1 0 3.2 0a1.6 1.6 0 1 0 -3.2 0M186.5 317.7a1.6 1.6 0 1 0 3.2 0a1.6 1.6 0 1 0 -3.2 0M187.1 315.7a1.6 1.6 0 1 0 3.2 0a1.6 1.6 0 1 0 -3.2 0M187.6 315.8a1.6 1.6 0 1 0 3.2 0a1.6 1.6 0 1 0 -3.2 0M188.4 316.0a1.6 1.6 0 1 0 3.2 0a1.6 1.6 0 1 0 -3.2 0M188.8 313.8a1.6 1.6 0 1 0 3.2 0a1.6 1.6 0 1 0 -3.2 0M189.3 316.1a1.6 1.6 0 1 0 3.2 0a1.6 1.6 0 1 0 -3.2 0M190.0 315.2a1.6 1.6 0 1 0 3.2 0a1.6 1.6 0 1 0 -3.2 0M190.6 313.7a1.6 1.6 0 1 0 3.2 0a1.6 1.6 0 1 0 -3.2 0M191.2 314.6a1.6 1.6 0 1 0 3.2 0a1.6 1.6 0 1 0 -3.2 0M192.0 314.8a1.6 1.6 0 1 0 3.2 0a1.6 1.6 0 1 0 -3.2 0M192.4 315.7a1.6 1.6 0 1 0 3.2 0a1.6 1.6 0 1 0 -3.2 0M192.8 313.3a1.6 1.6 0 1 0 3.2 0a1.6 1.6 0 1 0 -3.2 0M193.6 314.3a1.6 1.6 0 1 0 3.2 0a1.6 1.6 0 1 0 -3.2 0M194.2 312.8a1.6 1.6 0 1 0 3.2 0a1.6 1.6 0 1 0 -3.2 0M194.9 313.3a1.6 1.6 0 1 0 3.2 0a1.6 1.6 0 1 0 -3.2 0M195.2 312.0a1.6 1.6 0 1 0 3.2 0a1.6 1.6 0 1 0 -3.2 0M196.0 310.5a1.6 1.6 0 1 0 3.2 0a1.6 1.6 0 1 0 -3.2 0M196.5 312.3a1.6 1.6 0 1 0 3.2 0a1.6 1.6 0 1 0 -3.2 0M197.2 310.7a1.6 1.6 0 1 0 3.2 0a1.6 1.6 0 1 0 -3.2 0M197.4 309.5a1.6 1.6 0 1 0 3.2 0a1.6 1.6 0 1 0 -3.2 0M198.0 310.4a1.6 1.6 0 1 0 3.2 0a1.6 1.6 0 1 0 -3.2 0M198.8 310.2a1.6 1.6 0 1 0 3.2 0a1.6 1.6 0 1 0 -3.2 0M199.0 308.8a1.6 1.6 0 1 0 3.2 0a1.6 1.6 0 1 0 -3.2 0M199.6 305.9a1.6 1.6 0 1 0 3.2 0a1.6 1.6 0 1 0 -3.2 0M199.8 305.1a1.6 1.6 0 1 0 3.2 0a1.6 1.6 0 1 0 -3.2 0M200.5 303.2a1.6 1.6 0 1 0 3.2 0a1.6 1.6 0 1 0 -3.2 0M200.9 300.2a1.6 1.6 0 1 0 3.2 0a1.6 1.6 0 1 0 -3.2 0M201.7 299.0a1.6 1.6 0 1 0 3.2 0a1.6 1.6 0 1 0 -3.2 0M202.1 296.8a1.6 1.6 0 1 0 3.2 0a1.6 1.6 0 1 0 -3.2 0M202.6 294.3a1.6 1.6 0 1 0 3.2 0a1.6 1.6 0 1 0 -3.2 0M203.6 291.7a1.6 1.6 0 1 0 3.2 0a1.6 1.6 0 1 0 -3.2 0M204.0 288.5a1.6 1.6 0 1 0 3.2 0a1.6 1.6 0 1 0 -3.2 0M204.8 286.3a1.6 1.6 0 1 0 3.2 0a1.6 1.6 0 1 0 -3.2 0M205.4 285.2a1.6 1.6 0 1 0 3.2 0a1.6 1.6 0 1 0 -3.2 0M206.3 283.6a1.6 1.6 0 1 0 3.2 0a1.6 1.6 0 1 0 -3.2 0M206.9 282.6a1.6 1.6 0 1 0 3.2 0a1.6 1.6 0 1 0 -3.2 0M208.0 281.4a1.6 1.6 0 1 0 3.2 0a1.6 1.6 0 1 0 -3.2 0M208.9 281.6a1.6 1.6 0 1 0 3.2 0a1.6 1.6 0 1 0 -3.2 0M209.5 283.2a1.6 1.6 0 1 0 3.2 0a1.6 1.6 0 1 0 -3.2 0M210.4 282.0a1.6 1.6 0 1 0 3.2 0a1.6 1.6 0 1 0 -3.2 0M210.8 284.5a1.6 1.6 0 1 0 3.2 0a1.6 1.6 0 1 0 -3.2 0M211.8 284.5a1.6 1.6 0 1 0 3.2 0a1.6 1.6 0 1 0 -3.2 0M212.1 284.4a1.6 1.6 0 1 0 3.2 0a1.6 1.6 0 1 0 -3.2 0M213.0 284.9a1.6 1.6 0 1 0 3.2 0a1.6 1.6 0 1 0 -3.2 0M213.8 285.9a1.6 1.6 0 1 0 3.2 0a1.6 1.6 0 1 0 -3.2 0M214.3 286.3a1.6 1.6 0 1 0 3.2 0a1.6 1.6 0 1 0 -3.2 0M215.1 289.3a1.6 1.6 0 1 0 3.2 0a1.6 1.6 0 1 0 -3.2 0M215.9 291.6a1.6 1.6 0 1 0 3.2 0a1.6 1.6 0 1 0 -3.2 0M216.3 293.0a1.6 1.6 0 1 0 3.2 0a1.6 1.6 0 1 0 -3.2 0M217.2 295.4a1.6 1.6 0 1 0 3.2 0a1.6 1.6 0 1 0 -3.2 0M217.6 294.9a1.6 1.6 0 1 0 3.2 0a1.6 1.6 0 1 0 -3.2 0M218.1 295.7a1.6 1.6 0 1 0 3.2 0a1.6 1.6 0 1 0 -3.2 0M218.8 299.0a1.6 1.6 0 1 0 3.2 0a1.6 1.6 0 1 0 -3.2 0M219.6 300.1a1.6 1.6 0 1 0 3.2 0a1.6 1.6 0 1 0 -3.2 0M220.2 301.4a1.6 1.6 0 1 0 3.2 0a1.6 1.6 0 1 0 -3.2 0M220.7 302.0a1.6 1.6 0 1 0 3.2 0a1.6 1.6 0 1 0 -3.2 0M221.2 303.9a1.6 1.6 0 1 0 3.2 0a1.6 1.6 0 1 0 -3.2 0M221.9 306.9a1.6 1.6 0 1 0 3.2 0a1.6 1.6 0 1 0 -3.2 0M222.5 306.6a1.6 1.6 0 1 0 3.2 0a1.6 1.6 0 1 0 -3.2 0M223.4 310.6a1.6 1.6 0 1 0 3.2 0a1.6 1.6 0 1 0 -3.2 0M224.0 311.7a1.6 1.6 0 1 0 3.2 0a1.6 1.6 0 1 0 -3.2 0M224.2 314.2a1.6 1.6 0 1 0 3.2 0a1.6 1.6 0 1 0 -3.2 0M224.5 314.1a1.6 1.6 0 1 0 3.2 0a1.6 1.6 0 1 0 -3.2 0M225.1 315.3a1.6 1.6 0 1 0 3.2 0a1.6 1.6 0 1 0 -3.2 0M225.7 317.1a1.6 1.6 0 1 0 3.2 0a1.6 1.6 0 1 0 -3.2 0M225.9 317.7a1.6 1.6 0 1 0 3.2 0a1.6 1.6 0 1 0 -3.2 0M226.3 317.4a1.6 1.6 0 1 0 3.2 0a1.6 1.6 0 1 0 -3.2 0M227.1 319.3a1.6 1.6 0 1 0 3.2 0a1.6 1.6 0 1 0 -3.2 0M227.7 319.4a1.6 1.6 0 1 0 3.2 0a1.6 1.6 0 1 0 -3.2 0M228.2 318.9a1.6 1.6 0 1 0 3.2 0a1.6 1.6 0 1 0 -3.2 0M228.7 319.4a1.6 1.6 0 1 0 3.2 0a1.6 1.6 0 1 0 -3.2 0M229.1 319.2a1.6 1.6 0 1 0 3.2 0a1.6 1.6 0 1 0 -3.2 0M229.9 319.2a1.6 1.6 0 1 0 3.2 0a1.6 1.6 0 1 0 -3.2 0M230.4 318.8a1.6 1.6 0 1 0 3.2 0a1.6 1.6 0 1 0 -3.2 0M230.9 320.6a1.6 1.6 0 1 0 3.2 0a1.6 1.6 0 1 0 -3.2 0M231.5 320.5a1.6 1.6 0 1 0 3.2 0a1.6 1.6 0 1 0 -3.2 0M232.4 319.6a1.6 1.6 0 1 0 3.2 0a1.6 1.6 0 1 0 -3.2 0M233.0 319.5a1.6 1.6 0 1 0 3.2 0a1.6 1.6 0 1 0 -3.2 0M233.3 320.1a1.6 1.6 0 1 0 3.2 0a1.6 1.6 0 1 0 -3.2 0M234.2 320.8a1.6 1.6 0 1 0 3.2 0a1.6 1.6 0 1 0 -3.2 0M234.7 320.7a1.6 1.6 0 1 0 3.2 0a1.6 1.6 0 1 0 -3.2 0M235.1 319.7a1.6 1.6 0 1 0 3.2 0a1.6 1.6 0 1 0 -3.2 0M235.8 320.3a1.6 1.6 0 1 0 3.2 0a1.6 1.6 0 1 0 -3.2 0M236.4 319.9a1.6 1.6 0 1 0 3.2 0a1.6 1.6 0 1 0 -3.2 0M237.0 320.7a1.6 1.6 0 1 0 3.2 0a1.6 1.6 0 1 0 -3.2 0M237.5 320.8a1.6 1.6 0 1 0 3.2 0a1.6 1.6 0 1 0 -3.2 0M238.4 320.8a1.6 1.6 0 1 0 3.2 0a1.6 1.6 0 1 0 -3.2 0M238.8 320.6a1.6 1.6 0 1 0 3.2 0a1.6 1.6 0 1 0 -3.2 0M239.6 320.4a1.6 1.6 0 1 0 3.2 0a1.6 1.6 0 1 0 -3.2 0M240.0 320.8a1.6 1.6 0 1 0 3.2 0a1.6 1.6 0 1 0 -3.2 0M240.7 319.6a1.6 1.6 0 1 0 3.2 0a1.6 1.6 0 1 0 -3.2 0M241.1 320.6a1.6 1.6 0 1 0 3.2 0a1.6 1.6 0 1 0 -3.2 0M241.7 320.2a1.6 1.6 0 1 0 3.2 0a1.6 1.6 0 1 0 -3.2 0M242.2 319.9a1.6 1.6 0 1 0 3.2 0a1.6 1.6 0 1 0 -3.2 0M242.9 321.3a1.6 1.6 0 1 0 3.2 0a1.6 1.6 0 1 0 -3.2 0M243.8 321.7a1.6 1.6 0 1 0 3.2 0a1.6 1.6 0 1 0 -3.2 0M244.1 321.3a1.6 1.6 0 1 0 3.2 0a1.6 1.6 0 1 0 -3.2 0M244.9 321.1a1.6 1.6 0 1 0 3.2 0a1.6 1.6 0 1 0 -3.2 0M245.2 319.6a1.6 1.6 0 1 0 3.2 0a1.6 1.6 0 1 0 -3.2 0M245.9 319.0a1.6 1.6 0 1 0 3.2 0a1.6 1.6 0 1 0 -3.2 0M246.4 319.6a1.6 1.6 0 1 0 3.2 0a1.6 1.6 0 1 0 -3.2 0M247.3 320.4a1.6 1.6 0 1 0 3.2 0a1.6 1.6 0 1 0 -3.2 0M247.8 319.6a1.6 1.6 0 1 0 3.2 0a1.6 1.6 0 1 0 -3.2 0M248.5 319.3a1.6 1.6 0 1 0 3.2 0a1.6 1.6 0 1 0 -3.2 0M248.8 321.5a1.6 1.6 0 1 0 3.2 0a1.6 1.6 0 1 0 -3.2 0M249.8 320.4a1.6 1.6 0 1 0 3.2 0a1.6 1.6 0 1 0 -3.2 0M250.1 321.5a1.6 1.6 0 1 0 3.2 0a1.6 1.6 0 1 0 -3.2 0M250.7 321.0a1.6 1.6 0 1 0 3.2 0a1.6 1.6 0 1 0 -3.2 0M251.3 320.0a1.6 1.6 0 1 0 3.2 0a1.6 1.6 0 1 0 -3.2 0M252.0 321.5a1.6 1.6 0 1 0 3.2 0a1.6 1.6 0 1 0 -3.2 0M252.5 321.6a1.6 1.6 0 1 0 3.2 0a1.6 1.6 0 1 0 -3.2 0M253.2 324.0a1.6 1.6 0 1 0 3.2 0a1.6 1.6 0 1 0 -3.2 0M253.9 320.9a1.6 1.6 0 1 0 3.2 0a1.6 1.6 0 1 0 -3.2 0M254.4 319.9a1.6 1.6 0 1 0 3.2 0a1.6 1.6 0 1 0 -3.2 0M255.2 321.4a1.6 1.6 0 1 0 3.2 0a1.6 1.6 0 1 0 -3.2 0M255.7 321.0a1.6 1.6 0 1 0 3.2 0a1.6 1.6 0 1 0 -3.2 0M256.3 321.0a1.6 1.6 0 1 0 3.2 0a1.6 1.6 0 1 0 -3.2 0M257.0 321.5a1.6 1.6 0 1 0 3.2 0a1.6 1.6 0 1 0 -3.2 0M257.5 321.1a1.6 1.6 0 1 0 3.2 0a1.6 1.6 0 1 0 -3.2 0M258.0 322.6a1.6 1.6 0 1 0 3.2 0a1.6 1.6 0 1 0 -3.2 0M258.7 323.3a1.6 1.6 0 1 0 3.2 0a1.6 1.6 0 1 0 -3.2 0M259.3 322.5a1.6 1.6 0 1 0 3.2 0a1.6 1.6 0 1 0 -3.2 0M260.0 322.7a1.6 1.6 0 1 0 3.2 0a1.6 1.6 0 1 0 -3.2 0M260.6 321.5a1.6 1.6 0 1 0 3.2 0a1.6 1.6 0 1 0 -3.2 0M261.1 320.1a1.6 1.6 0 1 0 3.2 0a1.6 1.6 0 1 0 -3.2 0M261.6 320.2a1.6 1.6 0 1 0 3.2 0a1.6 1.6 0 1 0 -3.2 0M262.3 322.2a1.6 1.6 0 1 0 3.2 0a1.6 1.6 0 1 0 -3.2 0M263.0 321.0a1.6 1.6 0 1 0 3.2 0a1.6 1.6 0 1 0 -3.2 0M263.4 323.6a1.6 1.6 0 1 0 3.2 0a1.6 1.6 0 1 0 -3.2 0M264.2 323.3a1.6 1.6 0 1 0 3.2 0a1.6 1.6 0 1 0 -3.2 0M264.7 323.1a1.6 1.6 0 1 0 3.2 0a1.6 1.6 0 1 0 -3.2 0M265.1 322.0a1.6 1.6 0 1 0 3.2 0a1.6 1.6 0 1 0 -3.2 0M265.7 321.2a1.6 1.6 0 1 0 3.2 0a1.6 1.6 0 1 0 -3.2 0M266.4 321.8a1.6 1.6 0 1 0 3.2 0a1.6 1.6 0 1 0 -3.2 0M267.2 322.7a1.6 1.6 0 1 0 3.2 0a1.6 1.6 0 1 0 -3.2 0M267.7 321.6a1.6 1.6 0 1 0 3.2 0a1.6 1.6 0 1 0 -3.2 0M268.3 321.0a1.6 1.6 0 1 0 3.2 0a1.6 1.6 0 1 0 -3.2 0M268.9 321.0a1.6 1.6 0 1 0 3.2 0a1.6 1.6 0 1 0 -3.2 0M269.5 320.1a1.6 1.6 0 1 0 3.2 0a1.6 1.6 0 1 0 -3.2 0M270.0 322.8a1.6 1.6 0 1 0 3.2 0a1.6 1.6 0 1 0 -3.2 0M270.7 322.4a1.6 1.6 0 1 0 3.2 0a1.6 1.6 0 1 0 -3.2 0M271.1 320.6a1.6 1.6 0 1 0 3.2 0a1.6 1.6 0 1 0 -3.2 0M271.9 321.0a1.6 1.6 0 1 0 3.2 0a1.6 1.6 0 1 0 -3.2 0M272.2 321.7a1.6 1.6 0 1 0 3.2 0a1.6 1.6 0 1 0 -3.2 0M272.8 321.8a1.6 1.6 0 1 0 3.2 0a1.6 1.6 0 1 0 -3.2 0M273.7 320.9a1.6 1.6 0 1 0 3.2 0a1.6 1.6 0 1 0 -3.2 0M274.2 322.4a1.6 1.6 0 1 0 3.2 0a1.6 1.6 0 1 0 -3.2 0M274.7 322.0a1.6 1.6 0 1 0 3.2 0a1.6 1.6 0 1 0 -3.2 0M275.5 322.5a1.6 1.6 0 1 0 3.2 0a1.6 1.6 0 1 0 -3.2 0M276.0 321.7a1.6 1.6 0 1 0 3.2 0a1.6 1.6 0 1 0 -3.2 0M276.5 322.1a1.6 1.6 0 1 0 3.2 0a1.6 1.6 0 1 0 -3.2 0" fill="none" stroke="#d58a2c" stroke-width="0.65" stroke-opacity="0.9"/>
<path d="M51.0,323.7 C53.7,323.6 60.5,323.4 67.0,323.2 C73.5,323.0 82.8,322.8 90.0,322.7 C97.2,322.6 106.0,323.1 110.0,322.7 C114.0,322.2 112.8,321.5 114.0,320.0 C115.2,318.5 116.0,316.2 117.0,313.6 C118.0,311.0 119.2,307.2 120.0,304.5 C120.8,301.8 121.2,299.1 122.0,297.2 C122.8,295.3 124.2,293.6 125.0,293.0 C125.8,292.4 126.3,292.8 127.0,293.5 C127.7,294.2 128.0,295.4 129.0,297.2 C130.0,299.0 131.7,302.1 133.0,304.5 C134.3,306.9 135.8,309.2 137.0,311.8 C138.2,314.4 138.8,318.0 140.0,320.0 C141.2,322.0 142.5,323.0 144.0,323.7 C145.5,324.4 147.3,324.5 149.0,324.3 C150.7,324.1 152.5,323.6 154.0,322.7 C155.5,321.8 156.8,321.2 158.0,319.1 C159.2,317.0 160.2,313.1 161.0,310.0 C161.8,306.9 162.3,303.3 163.0,300.8 C163.7,298.3 163.8,295.9 165.0,294.8 C166.2,293.7 168.5,294.2 170.0,294.3 C171.5,294.4 172.7,294.1 174.0,295.4 C175.3,296.6 176.8,299.2 178.0,301.8 C179.2,304.4 180.0,307.9 181.0,310.9 C182.0,313.9 182.5,318.6 184.0,320.0 C185.5,321.4 187.8,320.3 190.0,319.5 C192.2,318.7 195.0,317.1 197.0,315.0 C199.0,312.9 200.7,310.5 202.0,307.2 C203.3,303.9 204.0,299.1 205.0,295.4 C206.0,291.7 207.2,287.2 208.0,285.0 C208.8,282.8 209.0,281.9 210.0,282.0 C211.0,282.1 212.7,283.2 214.0,285.3 C215.3,287.4 216.7,291.3 218.0,294.5 C219.3,297.7 220.8,301.3 222.0,304.5 C223.2,307.7 224.0,311.3 225.0,313.6 C226.0,315.9 226.3,317.1 228.0,318.2 C229.7,319.3 229.7,319.4 235.0,320.0 C240.3,320.6 252.7,321.2 260.0,321.5 C267.3,321.8 273.4,321.9 278.6,321.8 C283.8,321.7 288.9,321.1 291.0,321.0" fill="none" stroke="#d58a2c" stroke-width="1.2"/>
<line x1="51" y1="387.3" x2="291" y2="387.3" stroke="#222" stroke-width="1.1"/>
<line x1="45.5" y1="344.4" x2="51" y2="344.4" stroke="#555" stroke-width="1"/>
<text x="39.8" y="348.1" font-size="10.5" text-anchor="end" fill="#333">100</text>
<line x1="45.5" y1="385.4" x2="51" y2="385.4" stroke="#555" stroke-width="1"/>
<text x="39.8" y="389.1" font-size="10.5" text-anchor="end" fill="#333">0</text>
<text x="56.8" y="345.8" font-size="10.7" textLength="24.8" lengthAdjust="spacingAndGlyphs" fill="#262626"><tspan font-style="italic">ν</tspan> = 14</text>
<path d="M65.4 382.4a1.6 1.6 0 1 0 3.2 0a1.6 1.6 0 1 0 -3.2 0M66.1 383.9a1.6 1.6 0 1 0 3.2 0a1.6 1.6 0 1 0 -3.2 0M66.4 383.3a1.6 1.6 0 1 0 3.2 0a1.6 1.6 0 1 0 -3.2 0M67.3 383.2a1.6 1.6 0 1 0 3.2 0a1.6 1.6 0 1 0 -3.2 0M67.7 383.1a1.6 1.6 0 1 0 3.2 0a1.6 1.6 0 1 0 -3.2 0M68.3 385.3a1.6 1.6 0 1 0 3.2 0a1.6 1.6 0 1 0 -3.2 0M68.9 384.2a1.6 1.6 0 1 0 3.2 0a1.6 1.6 0 1 0 -3.2 0M69.7 382.6a1.6 1.6 0 1 0 3.2 0a1.6 1.6 0 1 0 -3.2 0M70.1 381.3a1.6 1.6 0 1 0 3.2 0a1.6 1.6 0 1 0 -3.2 0M70.8 383.3a1.6 1.6 0 1 0 3.2 0a1.6 1.6 0 1 0 -3.2 0M71.6 383.8a1.6 1.6 0 1 0 3.2 0a1.6 1.6 0 1 0 -3.2 0M71.9 384.7a1.6 1.6 0 1 0 3.2 0a1.6 1.6 0 1 0 -3.2 0M72.6 383.8a1.6 1.6 0 1 0 3.2 0a1.6 1.6 0 1 0 -3.2 0M73.4 383.3a1.6 1.6 0 1 0 3.2 0a1.6 1.6 0 1 0 -3.2 0M73.8 383.5a1.6 1.6 0 1 0 3.2 0a1.6 1.6 0 1 0 -3.2 0M74.3 382.7a1.6 1.6 0 1 0 3.2 0a1.6 1.6 0 1 0 -3.2 0M74.8 381.8a1.6 1.6 0 1 0 3.2 0a1.6 1.6 0 1 0 -3.2 0M75.6 382.8a1.6 1.6 0 1 0 3.2 0a1.6 1.6 0 1 0 -3.2 0M76.2 384.8a1.6 1.6 0 1 0 3.2 0a1.6 1.6 0 1 0 -3.2 0M76.9 382.6a1.6 1.6 0 1 0 3.2 0a1.6 1.6 0 1 0 -3.2 0M77.2 382.7a1.6 1.6 0 1 0 3.2 0a1.6 1.6 0 1 0 -3.2 0M78.2 382.7a1.6 1.6 0 1 0 3.2 0a1.6 1.6 0 1 0 -3.2 0M78.6 382.8a1.6 1.6 0 1 0 3.2 0a1.6 1.6 0 1 0 -3.2 0M79.2 382.4a1.6 1.6 0 1 0 3.2 0a1.6 1.6 0 1 0 -3.2 0M79.8 382.6a1.6 1.6 0 1 0 3.2 0a1.6 1.6 0 1 0 -3.2 0M80.4 381.9a1.6 1.6 0 1 0 3.2 0a1.6 1.6 0 1 0 -3.2 0M81.0 383.7a1.6 1.6 0 1 0 3.2 0a1.6 1.6 0 1 0 -3.2 0M81.8 383.4a1.6 1.6 0 1 0 3.2 0a1.6 1.6 0 1 0 -3.2 0M82.3 382.7a1.6 1.6 0 1 0 3.2 0a1.6 1.6 0 1 0 -3.2 0M82.9 383.2a1.6 1.6 0 1 0 3.2 0a1.6 1.6 0 1 0 -3.2 0M83.6 383.4a1.6 1.6 0 1 0 3.2 0a1.6 1.6 0 1 0 -3.2 0M83.8 382.2a1.6 1.6 0 1 0 3.2 0a1.6 1.6 0 1 0 -3.2 0M84.6 384.9a1.6 1.6 0 1 0 3.2 0a1.6 1.6 0 1 0 -3.2 0M85.4 385.1a1.6 1.6 0 1 0 3.2 0a1.6 1.6 0 1 0 -3.2 0M85.7 382.8a1.6 1.6 0 1 0 3.2 0a1.6 1.6 0 1 0 -3.2 0M86.2 383.1a1.6 1.6 0 1 0 3.2 0a1.6 1.6 0 1 0 -3.2 0M87.0 383.7a1.6 1.6 0 1 0 3.2 0a1.6 1.6 0 1 0 -3.2 0M87.5 382.6a1.6 1.6 0 1 0 3.2 0a1.6 1.6 0 1 0 -3.2 0M88.3 383.5a1.6 1.6 0 1 0 3.2 0a1.6 1.6 0 1 0 -3.2 0M88.8 384.8a1.6 1.6 0 1 0 3.2 0a1.6 1.6 0 1 0 -3.2 0M89.6 383.0a1.6 1.6 0 1 0 3.2 0a1.6 1.6 0 1 0 -3.2 0M90.1 382.8a1.6 1.6 0 1 0 3.2 0a1.6 1.6 0 1 0 -3.2 0M90.6 385.2a1.6 1.6 0 1 0 3.2 0a1.6 1.6 0 1 0 -3.2 0M91.3 383.8a1.6 1.6 0 1 0 3.2 0a1.6 1.6 0 1 0 -3.2 0M91.8 384.7a1.6 1.6 0 1 0 3.2 0a1.6 1.6 0 1 0 -3.2 0M92.6 385.2a1.6 1.6 0 1 0 3.2 0a1.6 1.6 0 1 0 -3.2 0M93.2 384.2a1.6 1.6 0 1 0 3.2 0a1.6 1.6 0 1 0 -3.2 0M93.7 384.9a1.6 1.6 0 1 0 3.2 0a1.6 1.6 0 1 0 -3.2 0M94.5 385.4a1.6 1.6 0 1 0 3.2 0a1.6 1.6 0 1 0 -3.2 0M94.8 386.0a1.6 1.6 0 1 0 3.2 0a1.6 1.6 0 1 0 -3.2 0M95.4 385.7a1.6 1.6 0 1 0 3.2 0a1.6 1.6 0 1 0 -3.2 0M96.0 385.4a1.6 1.6 0 1 0 3.2 0a1.6 1.6 0 1 0 -3.2 0M96.9 385.8a1.6 1.6 0 1 0 3.2 0a1.6 1.6 0 1 0 -3.2 0M97.2 385.3a1.6 1.6 0 1 0 3.2 0a1.6 1.6 0 1 0 -3.2 0M98.0 385.7a1.6 1.6 0 1 0 3.2 0a1.6 1.6 0 1 0 -3.2 0M98.4 386.2a1.6 1.6 0 1 0 3.2 0a1.6 1.6 0 1 0 -3.2 0M98.9 385.5a1.6 1.6 0 1 0 3.2 0a1.6 1.6 0 1 0 -3.2 0M99.6 386.4a1.6 1.6 0 1 0 3.2 0a1.6 1.6 0 1 0 -3.2 0M100.4 385.5a1.6 1.6 0 1 0 3.2 0a1.6 1.6 0 1 0 -3.2 0M101.0 386.2a1.6 1.6 0 1 0 3.2 0a1.6 1.6 0 1 0 -3.2 0M101.4 386.2a1.6 1.6 0 1 0 3.2 0a1.6 1.6 0 1 0 -3.2 0M102.1 384.7a1.6 1.6 0 1 0 3.2 0a1.6 1.6 0 1 0 -3.2 0M102.5 386.5a1.6 1.6 0 1 0 3.2 0a1.6 1.6 0 1 0 -3.2 0M103.2 386.8a1.6 1.6 0 1 0 3.2 0a1.6 1.6 0 1 0 -3.2 0M103.8 385.1a1.6 1.6 0 1 0 3.2 0a1.6 1.6 0 1 0 -3.2 0M104.3 384.5a1.6 1.6 0 1 0 3.2 0a1.6 1.6 0 1 0 -3.2 0M104.9 386.6a1.6 1.6 0 1 0 3.2 0a1.6 1.6 0 1 0 -3.2 0M105.5 385.2a1.6 1.6 0 1 0 3.2 0a1.6 1.6 0 1 0 -3.2 0M106.3 385.6a1.6 1.6 0 1 0 3.2 0a1.6 1.6 0 1 0 -3.2 0M106.6 387.1a1.6 1.6 0 1 0 3.2 0a1.6 1.6 0 1 0 -3.2 0M107.5 385.0a1.6 1.6 0 1 0 3.2 0a1.6 1.6 0 1 0 -3.2 0M108.2 385.4a1.6 1.6 0 1 0 3.2 0a1.6 1.6 0 1 0 -3.2 0M108.5 385.7a1.6 1.6 0 1 0 3.2 0a1.6 1.6 0 1 0 -3.2 0M109.2 386.0a1.6 1.6 0 1 0 3.2 0a1.6 1.6 0 1 0 -3.2 0M109.9 385.3a1.6 1.6 0 1 0 3.2 0a1.6 1.6 0 1 0 -3.2 0M110.5 384.9a1.6 1.6 0 1 0 3.2 0a1.6 1.6 0 1 0 -3.2 0M110.8 385.2a1.6 1.6 0 1 0 3.2 0a1.6 1.6 0 1 0 -3.2 0M111.8 386.7a1.6 1.6 0 1 0 3.2 0a1.6 1.6 0 1 0 -3.2 0M112.2 385.1a1.6 1.6 0 1 0 3.2 0a1.6 1.6 0 1 0 -3.2 0M112.7 384.2a1.6 1.6 0 1 0 3.2 0a1.6 1.6 0 1 0 -3.2 0M113.5 385.5a1.6 1.6 0 1 0 3.2 0a1.6 1.6 0 1 0 -3.2 0M113.9 384.7a1.6 1.6 0 1 0 3.2 0a1.6 1.6 0 1 0 -3.2 0M114.7 385.1a1.6 1.6 0 1 0 3.2 0a1.6 1.6 0 1 0 -3.2 0M115.3 385.8a1.6 1.6 0 1 0 3.2 0a1.6 1.6 0 1 0 -3.2 0M115.8 384.2a1.6 1.6 0 1 0 3.2 0a1.6 1.6 0 1 0 -3.2 0M116.5 385.1a1.6 1.6 0 1 0 3.2 0a1.6 1.6 0 1 0 -3.2 0M116.8 385.1a1.6 1.6 0 1 0 3.2 0a1.6 1.6 0 1 0 -3.2 0M117.5 385.4a1.6 1.6 0 1 0 3.2 0a1.6 1.6 0 1 0 -3.2 0M118.2 385.8a1.6 1.6 0 1 0 3.2 0a1.6 1.6 0 1 0 -3.2 0M118.8 384.1a1.6 1.6 0 1 0 3.2 0a1.6 1.6 0 1 0 -3.2 0M119.3 384.4a1.6 1.6 0 1 0 3.2 0a1.6 1.6 0 1 0 -3.2 0M120.1 384.6a1.6 1.6 0 1 0 3.2 0a1.6 1.6 0 1 0 -3.2 0M120.7 385.1a1.6 1.6 0 1 0 3.2 0a1.6 1.6 0 1 0 -3.2 0M121.2 384.4a1.6 1.6 0 1 0 3.2 0a1.6 1.6 0 1 0 -3.2 0M121.8 383.0a1.6 1.6 0 1 0 3.2 0a1.6 1.6 0 1 0 -3.2 0M122.5 384.7a1.6 1.6 0 1 0 3.2 0a1.6 1.6 0 1 0 -3.2 0M123.0 385.1a1.6 1.6 0 1 0 3.2 0a1.6 1.6 0 1 0 -3.2 0M123.7 383.5a1.6 1.6 0 1 0 3.2 0a1.6 1.6 0 1 0 -3.2 0M124.0 384.1a1.6 1.6 0 1 0 3.2 0a1.6 1.6 0 1 0 -3.2 0M124.8 383.2a1.6 1.6 0 1 0 3.2 0a1.6 1.6 0 1 0 -3.2 0M125.2 385.3a1.6 1.6 0 1 0 3.2 0a1.6 1.6 0 1 0 -3.2 0M126.1 384.6a1.6 1.6 0 1 0 3.2 0a1.6 1.6 0 1 0 -3.2 0M126.4 384.2a1.6 1.6 0 1 0 3.2 0a1.6 1.6 0 1 0 -3.2 0M127.0 384.6a1.6 1.6 0 1 0 3.2 0a1.6 1.6 0 1 0 -3.2 0M127.8 385.3a1.6 1.6 0 1 0 3.2 0a1.6 1.6 0 1 0 -3.2 0M128.3 383.6a1.6 1.6 0 1 0 3.2 0a1.6 1.6 0 1 0 -3.2 0M129.0 385.1a1.6 1.6 0 1 0 3.2 0a1.6 1.6 0 1 0 -3.2 0M129.5 384.3a1.6 1.6 0 1 0 3.2 0a1.6 1.6 0 1 0 -3.2 0M129.9 383.2a1.6 1.6 0 1 0 3.2 0a1.6 1.6 0 1 0 -3.2 0M130.6 383.1a1.6 1.6 0 1 0 3.2 0a1.6 1.6 0 1 0 -3.2 0M131.1 382.3a1.6 1.6 0 1 0 3.2 0a1.6 1.6 0 1 0 -3.2 0M131.9 383.4a1.6 1.6 0 1 0 3.2 0a1.6 1.6 0 1 0 -3.2 0M132.1 382.9a1.6 1.6 0 1 0 3.2 0a1.6 1.6 0 1 0 -3.2 0M132.6 381.9a1.6 1.6 0 1 0 3.2 0a1.6 1.6 0 1 0 -3.2 0M133.2 381.1a1.6 1.6 0 1 0 3.2 0a1.6 1.6 0 1 0 -3.2 0M133.5 381.2a1.6 1.6 0 1 0 3.2 0a1.6 1.6 0 1 0 -3.2 0M133.8 379.4a1.6 1.6 0 1 0 3.2 0a1.6 1.6 0 1 0 -3.2 0M134.6 377.2a1.6 1.6 0 1 0 3.2 0a1.6 1.6 0 1 0 -3.2 0M135.1 375.9a1.6 1.6 0 1 0 3.2 0a1.6 1.6 0 1 0 -3.2 0M135.7 374.6a1.6 1.6 0 1 0 3.2 0a1.6 1.6 0 1 0 -3.2 0M136.0 372.2a1.6 1.6 0 1 0 3.2 0a1.6 1.6 0 1 0 -3.2 0M136.5 371.3a1.6 1.6 0 1 0 3.2 0a1.6 1.6 0 1 0 -3.2 0M137.4 369.5a1.6 1.6 0 1 0 3.2 0a1.6 1.6 0 1 0 -3.2 0M137.9 367.0a1.6 1.6 0 1 0 3.2 0a1.6 1.6 0 1 0 -3.2 0M138.5 365.9a1.6 1.6 0 1 0 3.2 0a1.6 1.6 0 1 0 -3.2 0M139.2 364.4a1.6 1.6 0 1 0 3.2 0a1.6 1.6 0 1 0 -3.2 0M139.9 363.6a1.6 1.6 0 1 0 3.2 0a1.6 1.6 0 1 0 -3.2 0M140.4 359.4a1.6 1.6 0 1 0 3.2 0a1.6 1.6 0 1 0 -3.2 0M141.4 360.7a1.6 1.6 0 1 0 3.2 0a1.6 1.6 0 1 0 -3.2 0M141.8 359.2a1.6 1.6 0 1 0 3.2 0a1.6 1.6 0 1 0 -3.2 0M142.7 357.3a1.6 1.6 0 1 0 3.2 0a1.6 1.6 0 1 0 -3.2 0M143.4 355.9a1.6 1.6 0 1 0 3.2 0a1.6 1.6 0 1 0 -3.2 0M144.1 356.7a1.6 1.6 0 1 0 3.2 0a1.6 1.6 0 1 0 -3.2 0M144.8 356.7a1.6 1.6 0 1 0 3.2 0a1.6 1.6 0 1 0 -3.2 0M145.4 355.5a1.6 1.6 0 1 0 3.2 0a1.6 1.6 0 1 0 -3.2 0M146.2 354.3a1.6 1.6 0 1 0 3.2 0a1.6 1.6 0 1 0 -3.2 0M146.7 354.8a1.6 1.6 0 1 0 3.2 0a1.6 1.6 0 1 0 -3.2 0M147.4 354.3a1.6 1.6 0 1 0 3.2 0a1.6 1.6 0 1 0 -3.2 0M148.1 354.0a1.6 1.6 0 1 0 3.2 0a1.6 1.6 0 1 0 -3.2 0M148.9 352.5a1.6 1.6 0 1 0 3.2 0a1.6 1.6 0 1 0 -3.2 0M149.6 355.7a1.6 1.6 0 1 0 3.2 0a1.6 1.6 0 1 0 -3.2 0M150.2 354.1a1.6 1.6 0 1 0 3.2 0a1.6 1.6 0 1 0 -3.2 0M150.7 355.0a1.6 1.6 0 1 0 3.2 0a1.6 1.6 0 1 0 -3.2 0M151.7 355.5a1.6 1.6 0 1 0 3.2 0a1.6 1.6 0 1 0 -3.2 0M152.3 355.5a1.6 1.6 0 1 0 3.2 0a1.6 1.6 0 1 0 -3.2 0M152.9 356.0a1.6 1.6 0 1 0 3.2 0a1.6 1.6 0 1 0 -3.2 0M153.6 355.6a1.6 1.6 0 1 0 3.2 0a1.6 1.6 0 1 0 -3.2 0M154.4 356.5a1.6 1.6 0 1 0 3.2 0a1.6 1.6 0 1 0 -3.2 0M155.0 360.0a1.6 1.6 0 1 0 3.2 0a1.6 1.6 0 1 0 -3.2 0M156.0 361.7a1.6 1.6 0 1 0 3.2 0a1.6 1.6 0 1 0 -3.2 0M156.6 362.0a1.6 1.6 0 1 0 3.2 0a1.6 1.6 0 1 0 -3.2 0M157.0 364.0a1.6 1.6 0 1 0 3.2 0a1.6 1.6 0 1 0 -3.2 0M157.6 365.5a1.6 1.6 0 1 0 3.2 0a1.6 1.6 0 1 0 -3.2 0M158.6 366.0a1.6 1.6 0 1 0 3.2 0a1.6 1.6 0 1 0 -3.2 0M159.3 368.7a1.6 1.6 0 1 0 3.2 0a1.6 1.6 0 1 0 -3.2 0M159.9 369.4a1.6 1.6 0 1 0 3.2 0a1.6 1.6 0 1 0 -3.2 0M160.2 372.9a1.6 1.6 0 1 0 3.2 0a1.6 1.6 0 1 0 -3.2 0M160.8 374.4a1.6 1.6 0 1 0 3.2 0a1.6 1.6 0 1 0 -3.2 0M161.1 375.2a1.6 1.6 0 1 0 3.2 0a1.6 1.6 0 1 0 -3.2 0M161.9 376.6a1.6 1.6 0 1 0 3.2 0a1.6 1.6 0 1 0 -3.2 0M162.3 379.7a1.6 1.6 0 1 0 3.2 0a1.6 1.6 0 1 0 -3.2 0M162.8 377.9a1.6 1.6 0 1 0 3.2 0a1.6 1.6 0 1 0 -3.2 0M163.4 378.5a1.6 1.6 0 1 0 3.2 0a1.6 1.6 0 1 0 -3.2 0M163.9 381.4a1.6 1.6 0 1 0 3.2 0a1.6 1.6 0 1 0 -3.2 0M164.1 381.6a1.6 1.6 0 1 0 3.2 0a1.6 1.6 0 1 0 -3.2 0M164.6 381.5a1.6 1.6 0 1 0 3.2 0a1.6 1.6 0 1 0 -3.2 0M164.9 383.1a1.6 1.6 0 1 0 3.2 0a1.6 1.6 0 1 0 -3.2 0M165.5 381.5a1.6 1.6 0 1 0 3.2 0a1.6 1.6 0 1 0 -3.2 0M165.8 382.6a1.6 1.6 0 1 0 3.2 0a1.6 1.6 0 1 0 -3.2 0M166.4 380.9a1.6 1.6 0 1 0 3.2 0a1.6 1.6 0 1 0 -3.2 0M166.9 379.5a1.6 1.6 0 1 0 3.2 0a1.6 1.6 0 1 0 -3.2 0M167.9 380.5a1.6 1.6 0 1 0 3.2 0a1.6 1.6 0 1 0 -3.2 0M168.4 378.9a1.6 1.6 0 1 0 3.2 0a1.6 1.6 0 1 0 -3.2 0M168.9 378.6a1.6 1.6 0 1 0 3.2 0a1.6 1.6 0 1 0 -3.2 0M169.8 378.5a1.6 1.6 0 1 0 3.2 0a1.6 1.6 0 1 0 -3.2 0M170.3 378.9a1.6 1.6 0 1 0 3.2 0a1.6 1.6 0 1 0 -3.2 0M170.7 378.8a1.6 1.6 0 1 0 3.2 0a1.6 1.6 0 1 0 -3.2 0M171.5 379.2a1.6 1.6 0 1 0 3.2 0a1.6 1.6 0 1 0 -3.2 0M172.1 377.9a1.6 1.6 0 1 0 3.2 0a1.6 1.6 0 1 0 -3.2 0M172.4 377.0a1.6 1.6 0 1 0 3.2 0a1.6 1.6 0 1 0 -3.2 0M173.1 378.4a1.6 1.6 0 1 0 3.2 0a1.6 1.6 0 1 0 -3.2 0M173.4 377.3a1.6 1.6 0 1 0 3.2 0a1.6 1.6 0 1 0 -3.2 0M173.9 376.1a1.6 1.6 0 1 0 3.2 0a1.6 1.6 0 1 0 -3.2 0M174.1 374.4a1.6 1.6 0 1 0 3.2 0a1.6 1.6 0 1 0 -3.2 0M174.5 372.8a1.6 1.6 0 1 0 3.2 0a1.6 1.6 0 1 0 -3.2 0M175.2 370.9a1.6 1.6 0 1 0 3.2 0a1.6 1.6 0 1 0 -3.2 0M175.6 368.7a1.6 1.6 0 1 0 3.2 0a1.6 1.6 0 1 0 -3.2 0M176.4 365.9a1.6 1.6 0 1 0 3.2 0a1.6 1.6 0 1 0 -3.2 0M176.7 362.1a1.6 1.6 0 1 0 3.2 0a1.6 1.6 0 1 0 -3.2 0M177.5 361.3a1.6 1.6 0 1 0 3.2 0a1.6 1.6 0 1 0 -3.2 0M178.1 357.7a1.6 1.6 0 1 0 3.2 0a1.6 1.6 0 1 0 -3.2 0M178.4 355.0a1.6 1.6 0 1 0 3.2 0a1.6 1.6 0 1 0 -3.2 0M179.4 353.1a1.6 1.6 0 1 0 3.2 0a1.6 1.6 0 1 0 -3.2 0M179.6 350.9a1.6 1.6 0 1 0 3.2 0a1.6 1.6 0 1 0 -3.2 0M180.4 349.9a1.6 1.6 0 1 0 3.2 0a1.6 1.6 0 1 0 -3.2 0M181.3 347.6a1.6 1.6 0 1 0 3.2 0a1.6 1.6 0 1 0 -3.2 0M182.1 345.2a1.6 1.6 0 1 0 3.2 0a1.6 1.6 0 1 0 -3.2 0M182.6 343.7a1.6 1.6 0 1 0 3.2 0a1.6 1.6 0 1 0 -3.2 0M183.5 345.3a1.6 1.6 0 1 0 3.2 0a1.6 1.6 0 1 0 -3.2 0M184.4 343.7a1.6 1.6 0 1 0 3.2 0a1.6 1.6 0 1 0 -3.2 0M185.6 343.4a1.6 1.6 0 1 0 3.2 0a1.6 1.6 0 1 0 -3.2 0M186.3 343.2a1.6 1.6 0 1 0 3.2 0a1.6 1.6 0 1 0 -3.2 0M186.7 343.6a1.6 1.6 0 1 0 3.2 0a1.6 1.6 0 1 0 -3.2 0M187.6 344.3a1.6 1.6 0 1 0 3.2 0a1.6 1.6 0 1 0 -3.2 0M188.3 344.9a1.6 1.6 0 1 0 3.2 0a1.6 1.6 0 1 0 -3.2 0M189.0 345.3a1.6 1.6 0 1 0 3.2 0a1.6 1.6 0 1 0 -3.2 0M189.5 346.4a1.6 1.6 0 1 0 3.2 0a1.6 1.6 0 1 0 -3.2 0M190.2 345.8a1.6 1.6 0 1 0 3.2 0a1.6 1.6 0 1 0 -3.2 0M190.9 347.5a1.6 1.6 0 1 0 3.2 0a1.6 1.6 0 1 0 -3.2 0M191.3 348.0a1.6 1.6 0 1 0 3.2 0a1.6 1.6 0 1 0 -3.2 0M192.2 349.0a1.6 1.6 0 1 0 3.2 0a1.6 1.6 0 1 0 -3.2 0M192.6 351.0a1.6 1.6 0 1 0 3.2 0a1.6 1.6 0 1 0 -3.2 0M193.6 352.8a1.6 1.6 0 1 0 3.2 0a1.6 1.6 0 1 0 -3.2 0M194.2 352.6a1.6 1.6 0 1 0 3.2 0a1.6 1.6 0 1 0 -3.2 0M194.7 354.4a1.6 1.6 0 1 0 3.2 0a1.6 1.6 0 1 0 -3.2 0M195.3 355.7a1.6 1.6 0 1 0 3.2 0a1.6 1.6 0 1 0 -3.2 0M196.0 357.9a1.6 1.6 0 1 0 3.2 0a1.6 1.6 0 1 0 -3.2 0M196.7 359.0a1.6 1.6 0 1 0 3.2 0a1.6 1.6 0 1 0 -3.2 0M197.3 360.1a1.6 1.6 0 1 0 3.2 0a1.6 1.6 0 1 0 -3.2 0M198.1 361.2a1.6 1.6 0 1 0 3.2 0a1.6 1.6 0 1 0 -3.2 0M198.7 362.5a1.6 1.6 0 1 0 3.2 0a1.6 1.6 0 1 0 -3.2 0M199.1 363.9a1.6 1.6 0 1 0 3.2 0a1.6 1.6 0 1 0 -3.2 0M199.9 365.6a1.6 1.6 0 1 0 3.2 0a1.6 1.6 0 1 0 -3.2 0M200.6 367.5a1.6 1.6 0 1 0 3.2 0a1.6 1.6 0 1 0 -3.2 0M201.1 368.5a1.6 1.6 0 1 0 3.2 0a1.6 1.6 0 1 0 -3.2 0M201.4 369.8a1.6 1.6 0 1 0 3.2 0a1.6 1.6 0 1 0 -3.2 0M202.1 370.4a1.6 1.6 0 1 0 3.2 0a1.6 1.6 0 1 0 -3.2 0M202.5 371.8a1.6 1.6 0 1 0 3.2 0a1.6 1.6 0 1 0 -3.2 0M203.0 372.6a1.6 1.6 0 1 0 3.2 0a1.6 1.6 0 1 0 -3.2 0M203.7 373.8a1.6 1.6 0 1 0 3.2 0a1.6 1.6 0 1 0 -3.2 0M204.2 376.0a1.6 1.6 0 1 0 3.2 0a1.6 1.6 0 1 0 -3.2 0M204.7 374.7a1.6 1.6 0 1 0 3.2 0a1.6 1.6 0 1 0 -3.2 0M205.2 378.2a1.6 1.6 0 1 0 3.2 0a1.6 1.6 0 1 0 -3.2 0M205.8 377.9a1.6 1.6 0 1 0 3.2 0a1.6 1.6 0 1 0 -3.2 0M206.2 378.5a1.6 1.6 0 1 0 3.2 0a1.6 1.6 0 1 0 -3.2 0M206.9 378.5a1.6 1.6 0 1 0 3.2 0a1.6 1.6 0 1 0 -3.2 0M207.1 378.8a1.6 1.6 0 1 0 3.2 0a1.6 1.6 0 1 0 -3.2 0M207.6 378.5a1.6 1.6 0 1 0 3.2 0a1.6 1.6 0 1 0 -3.2 0M208.2 379.0a1.6 1.6 0 1 0 3.2 0a1.6 1.6 0 1 0 -3.2 0M208.8 379.5a1.6 1.6 0 1 0 3.2 0a1.6 1.6 0 1 0 -3.2 0M209.6 378.2a1.6 1.6 0 1 0 3.2 0a1.6 1.6 0 1 0 -3.2 0M210.1 377.7a1.6 1.6 0 1 0 3.2 0a1.6 1.6 0 1 0 -3.2 0M210.8 380.6a1.6 1.6 0 1 0 3.2 0a1.6 1.6 0 1 0 -3.2 0M211.1 379.3a1.6 1.6 0 1 0 3.2 0a1.6 1.6 0 1 0 -3.2 0M211.7 379.2a1.6 1.6 0 1 0 3.2 0a1.6 1.6 0 1 0 -3.2 0M212.3 379.5a1.6 1.6 0 1 0 3.2 0a1.6 1.6 0 1 0 -3.2 0M213.2 380.1a1.6 1.6 0 1 0 3.2 0a1.6 1.6 0 1 0 -3.2 0M213.7 379.1a1.6 1.6 0 1 0 3.2 0a1.6 1.6 0 1 0 -3.2 0M214.3 380.6a1.6 1.6 0 1 0 3.2 0a1.6 1.6 0 1 0 -3.2 0M214.8 378.6a1.6 1.6 0 1 0 3.2 0a1.6 1.6 0 1 0 -3.2 0M215.3 379.9a1.6 1.6 0 1 0 3.2 0a1.6 1.6 0 1 0 -3.2 0M216.1 379.0a1.6 1.6 0 1 0 3.2 0a1.6 1.6 0 1 0 -3.2 0M216.6 377.6a1.6 1.6 0 1 0 3.2 0a1.6 1.6 0 1 0 -3.2 0M217.1 379.1a1.6 1.6 0 1 0 3.2 0a1.6 1.6 0 1 0 -3.2 0M217.8 379.0a1.6 1.6 0 1 0 3.2 0a1.6 1.6 0 1 0 -3.2 0M218.6 378.8a1.6 1.6 0 1 0 3.2 0a1.6 1.6 0 1 0 -3.2 0M219.0 380.7a1.6 1.6 0 1 0 3.2 0a1.6 1.6 0 1 0 -3.2 0M219.8 379.1a1.6 1.6 0 1 0 3.2 0a1.6 1.6 0 1 0 -3.2 0M220.0 379.9a1.6 1.6 0 1 0 3.2 0a1.6 1.6 0 1 0 -3.2 0M221.0 380.4a1.6 1.6 0 1 0 3.2 0a1.6 1.6 0 1 0 -3.2 0M221.2 379.7a1.6 1.6 0 1 0 3.2 0a1.6 1.6 0 1 0 -3.2 0M222.2 381.0a1.6 1.6 0 1 0 3.2 0a1.6 1.6 0 1 0 -3.2 0M222.5 378.6a1.6 1.6 0 1 0 3.2 0a1.6 1.6 0 1 0 -3.2 0M223.3 380.2a1.6 1.6 0 1 0 3.2 0a1.6 1.6 0 1 0 -3.2 0M223.9 379.8a1.6 1.6 0 1 0 3.2 0a1.6 1.6 0 1 0 -3.2 0M224.3 379.2a1.6 1.6 0 1 0 3.2 0a1.6 1.6 0 1 0 -3.2 0M224.8 379.6a1.6 1.6 0 1 0 3.2 0a1.6 1.6 0 1 0 -3.2 0M225.5 379.3a1.6 1.6 0 1 0 3.2 0a1.6 1.6 0 1 0 -3.2 0M226.4 379.2a1.6 1.6 0 1 0 3.2 0a1.6 1.6 0 1 0 -3.2 0M226.9 379.0a1.6 1.6 0 1 0 3.2 0a1.6 1.6 0 1 0 -3.2 0M227.5 379.7a1.6 1.6 0 1 0 3.2 0a1.6 1.6 0 1 0 -3.2 0M227.8 379.3a1.6 1.6 0 1 0 3.2 0a1.6 1.6 0 1 0 -3.2 0M228.4 380.7a1.6 1.6 0 1 0 3.2 0a1.6 1.6 0 1 0 -3.2 0M229.1 380.0a1.6 1.6 0 1 0 3.2 0a1.6 1.6 0 1 0 -3.2 0M229.7 377.8a1.6 1.6 0 1 0 3.2 0a1.6 1.6 0 1 0 -3.2 0M230.5 380.0a1.6 1.6 0 1 0 3.2 0a1.6 1.6 0 1 0 -3.2 0M230.9 380.0a1.6 1.6 0 1 0 3.2 0a1.6 1.6 0 1 0 -3.2 0M231.5 379.5a1.6 1.6 0 1 0 3.2 0a1.6 1.6 0 1 0 -3.2 0M232.1 379.0a1.6 1.6 0 1 0 3.2 0a1.6 1.6 0 1 0 -3.2 0M232.8 380.7a1.6 1.6 0 1 0 3.2 0a1.6 1.6 0 1 0 -3.2 0M233.5 381.6a1.6 1.6 0 1 0 3.2 0a1.6 1.6 0 1 0 -3.2 0M234.0 381.1a1.6 1.6 0 1 0 3.2 0a1.6 1.6 0 1 0 -3.2 0M234.7 381.6a1.6 1.6 0 1 0 3.2 0a1.6 1.6 0 1 0 -3.2 0M235.1 380.4a1.6 1.6 0 1 0 3.2 0a1.6 1.6 0 1 0 -3.2 0M236.0 380.5a1.6 1.6 0 1 0 3.2 0a1.6 1.6 0 1 0 -3.2 0M236.3 379.0a1.6 1.6 0 1 0 3.2 0a1.6 1.6 0 1 0 -3.2 0M236.8 380.8a1.6 1.6 0 1 0 3.2 0a1.6 1.6 0 1 0 -3.2 0M237.5 381.8a1.6 1.6 0 1 0 3.2 0a1.6 1.6 0 1 0 -3.2 0M238.3 379.2a1.6 1.6 0 1 0 3.2 0a1.6 1.6 0 1 0 -3.2 0M238.7 379.6a1.6 1.6 0 1 0 3.2 0a1.6 1.6 0 1 0 -3.2 0M239.3 382.1a1.6 1.6 0 1 0 3.2 0a1.6 1.6 0 1 0 -3.2 0M240.0 381.6a1.6 1.6 0 1 0 3.2 0a1.6 1.6 0 1 0 -3.2 0M240.7 379.8a1.6 1.6 0 1 0 3.2 0a1.6 1.6 0 1 0 -3.2 0M241.0 380.1a1.6 1.6 0 1 0 3.2 0a1.6 1.6 0 1 0 -3.2 0M241.6 380.6a1.6 1.6 0 1 0 3.2 0a1.6 1.6 0 1 0 -3.2 0M242.6 380.0a1.6 1.6 0 1 0 3.2 0a1.6 1.6 0 1 0 -3.2 0M243.0 380.3a1.6 1.6 0 1 0 3.2 0a1.6 1.6 0 1 0 -3.2 0M243.7 380.0a1.6 1.6 0 1 0 3.2 0a1.6 1.6 0 1 0 -3.2 0M244.1 379.8a1.6 1.6 0 1 0 3.2 0a1.6 1.6 0 1 0 -3.2 0M244.7 381.2a1.6 1.6 0 1 0 3.2 0a1.6 1.6 0 1 0 -3.2 0M245.3 380.7a1.6 1.6 0 1 0 3.2 0a1.6 1.6 0 1 0 -3.2 0M246.0 379.9a1.6 1.6 0 1 0 3.2 0a1.6 1.6 0 1 0 -3.2 0M246.7 380.7a1.6 1.6 0 1 0 3.2 0a1.6 1.6 0 1 0 -3.2 0M247.1 381.1a1.6 1.6 0 1 0 3.2 0a1.6 1.6 0 1 0 -3.2 0M247.8 379.9a1.6 1.6 0 1 0 3.2 0a1.6 1.6 0 1 0 -3.2 0M248.4 381.6a1.6 1.6 0 1 0 3.2 0a1.6 1.6 0 1 0 -3.2 0M249.2 381.9a1.6 1.6 0 1 0 3.2 0a1.6 1.6 0 1 0 -3.2 0M249.8 381.1a1.6 1.6 0 1 0 3.2 0a1.6 1.6 0 1 0 -3.2 0M250.1 381.6a1.6 1.6 0 1 0 3.2 0a1.6 1.6 0 1 0 -3.2 0M250.7 381.0a1.6 1.6 0 1 0 3.2 0a1.6 1.6 0 1 0 -3.2 0M251.4 380.8a1.6 1.6 0 1 0 3.2 0a1.6 1.6 0 1 0 -3.2 0M251.9 380.5a1.6 1.6 0 1 0 3.2 0a1.6 1.6 0 1 0 -3.2 0M252.6 381.2a1.6 1.6 0 1 0 3.2 0a1.6 1.6 0 1 0 -3.2 0M253.2 381.5a1.6 1.6 0 1 0 3.2 0a1.6 1.6 0 1 0 -3.2 0M253.7 381.7a1.6 1.6 0 1 0 3.2 0a1.6 1.6 0 1 0 -3.2 0M254.4 381.3a1.6 1.6 0 1 0 3.2 0a1.6 1.6 0 1 0 -3.2 0M255.2 380.7a1.6 1.6 0 1 0 3.2 0a1.6 1.6 0 1 0 -3.2 0M255.5 380.9a1.6 1.6 0 1 0 3.2 0a1.6 1.6 0 1 0 -3.2 0M256.3 379.6a1.6 1.6 0 1 0 3.2 0a1.6 1.6 0 1 0 -3.2 0M257.0 380.4a1.6 1.6 0 1 0 3.2 0a1.6 1.6 0 1 0 -3.2 0M257.6 382.6a1.6 1.6 0 1 0 3.2 0a1.6 1.6 0 1 0 -3.2 0M258.0 382.3a1.6 1.6 0 1 0 3.2 0a1.6 1.6 0 1 0 -3.2 0M258.5 381.9a1.6 1.6 0 1 0 3.2 0a1.6 1.6 0 1 0 -3.2 0M259.1 382.5a1.6 1.6 0 1 0 3.2 0a1.6 1.6 0 1 0 -3.2 0M259.6 380.9a1.6 1.6 0 1 0 3.2 0a1.6 1.6 0 1 0 -3.2 0M260.4 382.9a1.6 1.6 0 1 0 3.2 0a1.6 1.6 0 1 0 -3.2 0M261.1 381.9a1.6 1.6 0 1 0 3.2 0a1.6 1.6 0 1 0 -3.2 0M261.5 381.5a1.6 1.6 0 1 0 3.2 0a1.6 1.6 0 1 0 -3.2 0M262.1 380.7a1.6 1.6 0 1 0 3.2 0a1.6 1.6 0 1 0 -3.2 0M262.6 380.5a1.6 1.6 0 1 0 3.2 0a1.6 1.6 0 1 0 -3.2 0M263.6 380.6a1.6 1.6 0 1 0 3.2 0a1.6 1.6 0 1 0 -3.2 0M263.8 381.2a1.6 1.6 0 1 0 3.2 0a1.6 1.6 0 1 0 -3.2 0M264.7 380.9a1.6 1.6 0 1 0 3.2 0a1.6 1.6 0 1 0 -3.2 0M265.2 381.1a1.6 1.6 0 1 0 3.2 0a1.6 1.6 0 1 0 -3.2 0M265.9 380.5a1.6 1.6 0 1 0 3.2 0a1.6 1.6 0 1 0 -3.2 0M266.4 380.9a1.6 1.6 0 1 0 3.2 0a1.6 1.6 0 1 0 -3.2 0M267.0 380.8a1.6 1.6 0 1 0 3.2 0a1.6 1.6 0 1 0 -3.2 0M267.7 380.7a1.6 1.6 0 1 0 3.2 0a1.6 1.6 0 1 0 -3.2 0M268.4 380.9a1.6 1.6 0 1 0 3.2 0a1.6 1.6 0 1 0 -3.2 0M268.7 379.5a1.6 1.6 0 1 0 3.2 0a1.6 1.6 0 1 0 -3.2 0M269.5 381.3a1.6 1.6 0 1 0 3.2 0a1.6 1.6 0 1 0 -3.2 0M270.0 381.5a1.6 1.6 0 1 0 3.2 0a1.6 1.6 0 1 0 -3.2 0M270.7 381.5a1.6 1.6 0 1 0 3.2 0a1.6 1.6 0 1 0 -3.2 0M271.0 381.2a1.6 1.6 0 1 0 3.2 0a1.6 1.6 0 1 0 -3.2 0M271.8 381.3a1.6 1.6 0 1 0 3.2 0a1.6 1.6 0 1 0 -3.2 0M272.5 381.3a1.6 1.6 0 1 0 3.2 0a1.6 1.6 0 1 0 -3.2 0M273.0 381.6a1.6 1.6 0 1 0 3.2 0a1.6 1.6 0 1 0 -3.2 0M273.7 380.6a1.6 1.6 0 1 0 3.2 0a1.6 1.6 0 1 0 -3.2 0M274.0 381.4a1.6 1.6 0 1 0 3.2 0a1.6 1.6 0 1 0 -3.2 0M274.8 380.6a1.6 1.6 0 1 0 3.2 0a1.6 1.6 0 1 0 -3.2 0M275.4 381.7a1.6 1.6 0 1 0 3.2 0a1.6 1.6 0 1 0 -3.2 0M276.2 380.5a1.6 1.6 0 1 0 3.2 0a1.6 1.6 0 1 0 -3.2 0M276.6 381.0a1.6 1.6 0 1 0 3.2 0a1.6 1.6 0 1 0 -3.2 0M188.4 355.5a1.6 1.6 0 1 0 3.2 0a1.6 1.6 0 1 0 -3.2 0" fill="none" stroke="#262626" stroke-width="0.65" stroke-opacity="0.9"/>
<path d="M51.0,387.0 C53.7,386.4 60.5,384.0 67.0,383.5 C73.5,383.0 84.5,383.5 90.0,383.8 C95.5,384.1 95.8,385.2 100.0,385.5 C104.2,385.8 110.0,385.8 115.0,385.5 C120.0,385.2 126.7,384.4 130.0,383.8 C133.3,383.2 133.7,383.4 135.0,382.0 C136.3,380.6 137.0,378.0 138.0,375.6 C139.0,373.2 140.0,370.2 141.0,367.5 C142.0,364.8 143.0,361.4 144.0,359.5 C145.0,357.6 145.8,356.6 147.0,355.8 C148.2,355.0 149.8,354.5 151.0,354.6 C152.2,354.7 153.2,355.6 154.0,356.5 C154.8,357.4 155.2,358.3 156.0,360.1 C156.8,361.9 158.0,364.8 159.0,367.4 C160.0,370.0 160.8,373.2 162.0,375.6 C163.2,378.0 164.7,380.9 166.0,381.5 C167.3,382.1 168.3,380.1 170.0,379.3 C171.7,378.5 174.5,378.6 176.0,376.5 C177.5,374.4 178.0,370.3 179.0,366.5 C180.0,362.7 181.0,357.2 182.0,353.7 C183.0,350.2 184.2,347.2 185.0,345.5 C185.8,343.8 186.0,343.4 187.0,343.5 C188.0,343.6 189.7,344.8 191.0,346.4 C192.3,347.9 193.7,350.2 195.0,352.8 C196.3,355.4 197.7,358.7 199.0,361.9 C200.3,365.1 201.7,369.4 203.0,372.0 C204.3,374.6 205.5,376.6 207.0,377.8 C208.5,379.0 206.5,378.9 212.0,379.3 C217.5,379.7 232.0,379.9 240.0,380.2 C248.0,380.5 253.6,381.0 260.0,381.1 C266.4,381.2 273.4,381.0 278.6,380.7 C283.8,380.4 288.9,379.5 291.0,379.3" fill="none" stroke="#262626" stroke-width="1.2"/>
<line x1="45.5" y1="413.1" x2="51" y2="413.1" stroke="#555" stroke-width="1"/>
<text x="39.8" y="416.8" font-size="10.5" text-anchor="end" fill="#333">60</text>
<line x1="45.5" y1="437.1" x2="51" y2="437.1" stroke="#555" stroke-width="1"/>
<text x="39.8" y="440.8" font-size="10.5" text-anchor="end" fill="#333">20</text>
<text x="56.8" y="404.7" font-size="10.7" textLength="25.1" lengthAdjust="spacingAndGlyphs" fill="#e8201c"><tspan font-style="italic">ν</tspan> = 15</text>
<path d="M65.1 444.9a1.8 1.8 0 1 0 3.6 0a1.8 1.8 0 1 0 -3.6 0M66.1 442.1a1.8 1.8 0 1 0 3.6 0a1.8 1.8 0 1 0 -3.6 0M66.8 443.0a1.8 1.8 0 1 0 3.6 0a1.8 1.8 0 1 0 -3.6 0M67.2 441.9a1.8 1.8 0 1 0 3.6 0a1.8 1.8 0 1 0 -3.6 0M68.1 443.2a1.8 1.8 0 1 0 3.6 0a1.8 1.8 0 1 0 -3.6 0M68.5 442.2a1.8 1.8 0 1 0 3.6 0a1.8 1.8 0 1 0 -3.6 0M69.5 443.0a1.8 1.8 0 1 0 3.6 0a1.8 1.8 0 1 0 -3.6 0M69.9 441.8a1.8 1.8 0 1 0 3.6 0a1.8 1.8 0 1 0 -3.6 0M70.8 441.9a1.8 1.8 0 1 0 3.6 0a1.8 1.8 0 1 0 -3.6 0M71.5 442.2a1.8 1.8 0 1 0 3.6 0a1.8 1.8 0 1 0 -3.6 0M72.1 441.7a1.8 1.8 0 1 0 3.6 0a1.8 1.8 0 1 0 -3.6 0M72.7 442.8a1.8 1.8 0 1 0 3.6 0a1.8 1.8 0 1 0 -3.6 0M73.5 442.0a1.8 1.8 0 1 0 3.6 0a1.8 1.8 0 1 0 -3.6 0M74.3 440.1a1.8 1.8 0 1 0 3.6 0a1.8 1.8 0 1 0 -3.6 0M74.8 440.9a1.8 1.8 0 1 0 3.6 0a1.8 1.8 0 1 0 -3.6 0M75.6 442.6a1.8 1.8 0 1 0 3.6 0a1.8 1.8 0 1 0 -3.6 0M76.4 443.1a1.8 1.8 0 1 0 3.6 0a1.8 1.8 0 1 0 -3.6 0M77.1 443.0a1.8 1.8 0 1 0 3.6 0a1.8 1.8 0 1 0 -3.6 0M77.9 440.6a1.8 1.8 0 1 0 3.6 0a1.8 1.8 0 1 0 -3.6 0M78.7 441.3a1.8 1.8 0 1 0 3.6 0a1.8 1.8 0 1 0 -3.6 0M79.2 444.1a1.8 1.8 0 1 0 3.6 0a1.8 1.8 0 1 0 -3.6 0M79.7 441.8a1.8 1.8 0 1 0 3.6 0a1.8 1.8 0 1 0 -3.6 0M80.4 441.0a1.8 1.8 0 1 0 3.6 0a1.8 1.8 0 1 0 -3.6 0M81.2 440.5a1.8 1.8 0 1 0 3.6 0a1.8 1.8 0 1 0 -3.6 0M82.1 443.9a1.8 1.8 0 1 0 3.6 0a1.8 1.8 0 1 0 -3.6 0M82.7 438.9a1.8 1.8 0 1 0 3.6 0a1.8 1.8 0 1 0 -3.6 0M83.5 440.5a1.8 1.8 0 1 0 3.6 0a1.8 1.8 0 1 0 -3.6 0M84.2 440.2a1.8 1.8 0 1 0 3.6 0a1.8 1.8 0 1 0 -3.6 0M84.7 440.6a1.8 1.8 0 1 0 3.6 0a1.8 1.8 0 1 0 -3.6 0M85.6 438.9a1.8 1.8 0 1 0 3.6 0a1.8 1.8 0 1 0 -3.6 0M86.4 439.5a1.8 1.8 0 1 0 3.6 0a1.8 1.8 0 1 0 -3.6 0M87.1 440.5a1.8 1.8 0 1 0 3.6 0a1.8 1.8 0 1 0 -3.6 0M87.8 440.7a1.8 1.8 0 1 0 3.6 0a1.8 1.8 0 1 0 -3.6 0M88.3 440.9a1.8 1.8 0 1 0 3.6 0a1.8 1.8 0 1 0 -3.6 0M88.9 441.6a1.8 1.8 0 1 0 3.6 0a1.8 1.8 0 1 0 -3.6 0M89.6 439.1a1.8 1.8 0 1 0 3.6 0a1.8 1.8 0 1 0 -3.6 0M90.5 440.9a1.8 1.8 0 1 0 3.6 0a1.8 1.8 0 1 0 -3.6 0M90.9 439.7a1.8 1.8 0 1 0 3.6 0a1.8 1.8 0 1 0 -3.6 0M91.8 438.2a1.8 1.8 0 1 0 3.6 0a1.8 1.8 0 1 0 -3.6 0M92.6 439.6a1.8 1.8 0 1 0 3.6 0a1.8 1.8 0 1 0 -3.6 0M93.2 439.4a1.8 1.8 0 1 0 3.6 0a1.8 1.8 0 1 0 -3.6 0M94.0 439.0a1.8 1.8 0 1 0 3.6 0a1.8 1.8 0 1 0 -3.6 0M94.5 437.8a1.8 1.8 0 1 0 3.6 0a1.8 1.8 0 1 0 -3.6 0M95.5 439.4a1.8 1.8 0 1 0 3.6 0a1.8 1.8 0 1 0 -3.6 0M96.0 438.4a1.8 1.8 0 1 0 3.6 0a1.8 1.8 0 1 0 -3.6 0M96.9 439.4a1.8 1.8 0 1 0 3.6 0a1.8 1.8 0 1 0 -3.6 0M97.6 440.1a1.8 1.8 0 1 0 3.6 0a1.8 1.8 0 1 0 -3.6 0M98.3 439.1a1.8 1.8 0 1 0 3.6 0a1.8 1.8 0 1 0 -3.6 0M98.7 440.6a1.8 1.8 0 1 0 3.6 0a1.8 1.8 0 1 0 -3.6 0M99.6 438.8a1.8 1.8 0 1 0 3.6 0a1.8 1.8 0 1 0 -3.6 0M100.1 438.1a1.8 1.8 0 1 0 3.6 0a1.8 1.8 0 1 0 -3.6 0M100.8 438.6a1.8 1.8 0 1 0 3.6 0a1.8 1.8 0 1 0 -3.6 0M101.5 438.9a1.8 1.8 0 1 0 3.6 0a1.8 1.8 0 1 0 -3.6 0M102.3 438.1a1.8 1.8 0 1 0 3.6 0a1.8 1.8 0 1 0 -3.6 0M103.0 438.6a1.8 1.8 0 1 0 3.6 0a1.8 1.8 0 1 0 -3.6 0M103.9 437.4a1.8 1.8 0 1 0 3.6 0a1.8 1.8 0 1 0 -3.6 0M104.5 437.8a1.8 1.8 0 1 0 3.6 0a1.8 1.8 0 1 0 -3.6 0M105.1 438.8a1.8 1.8 0 1 0 3.6 0a1.8 1.8 0 1 0 -3.6 0M105.6 439.3a1.8 1.8 0 1 0 3.6 0a1.8 1.8 0 1 0 -3.6 0M106.6 438.7a1.8 1.8 0 1 0 3.6 0a1.8 1.8 0 1 0 -3.6 0M107.4 438.9a1.8 1.8 0 1 0 3.6 0a1.8 1.8 0 1 0 -3.6 0M108.0 438.8a1.8 1.8 0 1 0 3.6 0a1.8 1.8 0 1 0 -3.6 0M108.7 436.6a1.8 1.8 0 1 0 3.6 0a1.8 1.8 0 1 0 -3.6 0M109.4 438.6a1.8 1.8 0 1 0 3.6 0a1.8 1.8 0 1 0 -3.6 0M110.1 437.7a1.8 1.8 0 1 0 3.6 0a1.8 1.8 0 1 0 -3.6 0M110.6 437.7a1.8 1.8 0 1 0 3.6 0a1.8 1.8 0 1 0 -3.6 0M111.4 439.8a1.8 1.8 0 1 0 3.6 0a1.8 1.8 0 1 0 -3.6 0M112.2 438.7a1.8 1.8 0 1 0 3.6 0a1.8 1.8 0 1 0 -3.6 0M112.7 436.6a1.8 1.8 0 1 0 3.6 0a1.8 1.8 0 1 0 -3.6 0M113.3 435.9a1.8 1.8 0 1 0 3.6 0a1.8 1.8 0 1 0 -3.6 0M114.1 437.2a1.8 1.8 0 1 0 3.6 0a1.8 1.8 0 1 0 -3.6 0M114.7 438.2a1.8 1.8 0 1 0 3.6 0a1.8 1.8 0 1 0 -3.6 0M115.7 437.5a1.8 1.8 0 1 0 3.6 0a1.8 1.8 0 1 0 -3.6 0M116.1 437.6a1.8 1.8 0 1 0 3.6 0a1.8 1.8 0 1 0 -3.6 0M117.1 438.3a1.8 1.8 0 1 0 3.6 0a1.8 1.8 0 1 0 -3.6 0M117.9 437.9a1.8 1.8 0 1 0 3.6 0a1.8 1.8 0 1 0 -3.6 0M118.6 437.5a1.8 1.8 0 1 0 3.6 0a1.8 1.8 0 1 0 -3.6 0M119.3 438.0a1.8 1.8 0 1 0 3.6 0a1.8 1.8 0 1 0 -3.6 0M119.8 438.2a1.8 1.8 0 1 0 3.6 0a1.8 1.8 0 1 0 -3.6 0M120.4 436.4a1.8 1.8 0 1 0 3.6 0a1.8 1.8 0 1 0 -3.6 0M121.1 438.2a1.8 1.8 0 1 0 3.6 0a1.8 1.8 0 1 0 -3.6 0M121.7 438.2a1.8 1.8 0 1 0 3.6 0a1.8 1.8 0 1 0 -3.6 0M122.4 438.1a1.8 1.8 0 1 0 3.6 0a1.8 1.8 0 1 0 -3.6 0M123.3 437.6a1.8 1.8 0 1 0 3.6 0a1.8 1.8 0 1 0 -3.6 0M124.1 437.2a1.8 1.8 0 1 0 3.6 0a1.8 1.8 0 1 0 -3.6 0M124.8 437.5a1.8 1.8 0 1 0 3.6 0a1.8 1.8 0 1 0 -3.6 0M125.3 439.3a1.8 1.8 0 1 0 3.6 0a1.8 1.8 0 1 0 -3.6 0M126.3 438.0a1.8 1.8 0 1 0 3.6 0a1.8 1.8 0 1 0 -3.6 0M126.7 438.3a1.8 1.8 0 1 0 3.6 0a1.8 1.8 0 1 0 -3.6 0M127.6 437.1a1.8 1.8 0 1 0 3.6 0a1.8 1.8 0 1 0 -3.6 0M128.1 439.6a1.8 1.8 0 1 0 3.6 0a1.8 1.8 0 1 0 -3.6 0M129.0 438.5a1.8 1.8 0 1 0 3.6 0a1.8 1.8 0 1 0 -3.6 0M129.6 437.9a1.8 1.8 0 1 0 3.6 0a1.8 1.8 0 1 0 -3.6 0M130.2 437.7a1.8 1.8 0 1 0 3.6 0a1.8 1.8 0 1 0 -3.6 0M131.1 436.3a1.8 1.8 0 1 0 3.6 0a1.8 1.8 0 1 0 -3.6 0M131.6 439.5a1.8 1.8 0 1 0 3.6 0a1.8 1.8 0 1 0 -3.6 0M132.4 438.9a1.8 1.8 0 1 0 3.6 0a1.8 1.8 0 1 0 -3.6 0M133.0 438.5a1.8 1.8 0 1 0 3.6 0a1.8 1.8 0 1 0 -3.6 0M133.6 439.2a1.8 1.8 0 1 0 3.6 0a1.8 1.8 0 1 0 -3.6 0M134.6 437.8a1.8 1.8 0 1 0 3.6 0a1.8 1.8 0 1 0 -3.6 0M135.2 438.5a1.8 1.8 0 1 0 3.6 0a1.8 1.8 0 1 0 -3.6 0M135.9 437.6a1.8 1.8 0 1 0 3.6 0a1.8 1.8 0 1 0 -3.6 0M136.7 437.2a1.8 1.8 0 1 0 3.6 0a1.8 1.8 0 1 0 -3.6 0M137.2 437.0a1.8 1.8 0 1 0 3.6 0a1.8 1.8 0 1 0 -3.6 0M138.1 438.8a1.8 1.8 0 1 0 3.6 0a1.8 1.8 0 1 0 -3.6 0M138.7 437.8a1.8 1.8 0 1 0 3.6 0a1.8 1.8 0 1 0 -3.6 0M139.3 436.6a1.8 1.8 0 1 0 3.6 0a1.8 1.8 0 1 0 -3.6 0M140.2 436.9a1.8 1.8 0 1 0 3.6 0a1.8 1.8 0 1 0 -3.6 0M140.7 437.5a1.8 1.8 0 1 0 3.6 0a1.8 1.8 0 1 0 -3.6 0M141.6 437.6a1.8 1.8 0 1 0 3.6 0a1.8 1.8 0 1 0 -3.6 0M142.4 435.1a1.8 1.8 0 1 0 3.6 0a1.8 1.8 0 1 0 -3.6 0M143.0 436.2a1.8 1.8 0 1 0 3.6 0a1.8 1.8 0 1 0 -3.6 0M143.7 437.3a1.8 1.8 0 1 0 3.6 0a1.8 1.8 0 1 0 -3.6 0M144.1 436.0a1.8 1.8 0 1 0 3.6 0a1.8 1.8 0 1 0 -3.6 0M144.8 435.9a1.8 1.8 0 1 0 3.6 0a1.8 1.8 0 1 0 -3.6 0M145.7 437.6a1.8 1.8 0 1 0 3.6 0a1.8 1.8 0 1 0 -3.6 0M146.6 438.1a1.8 1.8 0 1 0 3.6 0a1.8 1.8 0 1 0 -3.6 0M147.1 436.1a1.8 1.8 0 1 0 3.6 0a1.8 1.8 0 1 0 -3.6 0M147.8 436.4a1.8 1.8 0 1 0 3.6 0a1.8 1.8 0 1 0 -3.6 0M148.5 434.6a1.8 1.8 0 1 0 3.6 0a1.8 1.8 0 1 0 -3.6 0M149.2 437.0a1.8 1.8 0 1 0 3.6 0a1.8 1.8 0 1 0 -3.6 0M150.0 435.9a1.8 1.8 0 1 0 3.6 0a1.8 1.8 0 1 0 -3.6 0M150.6 435.7a1.8 1.8 0 1 0 3.6 0a1.8 1.8 0 1 0 -3.6 0M151.3 435.2a1.8 1.8 0 1 0 3.6 0a1.8 1.8 0 1 0 -3.6 0M151.9 436.7a1.8 1.8 0 1 0 3.6 0a1.8 1.8 0 1 0 -3.6 0M152.6 433.2a1.8 1.8 0 1 0 3.6 0a1.8 1.8 0 1 0 -3.6 0M153.5 434.9a1.8 1.8 0 1 0 3.6 0a1.8 1.8 0 1 0 -3.6 0M154.0 432.0a1.8 1.8 0 1 0 3.6 0a1.8 1.8 0 1 0 -3.6 0M155.0 434.8a1.8 1.8 0 1 0 3.6 0a1.8 1.8 0 1 0 -3.6 0M155.5 434.5a1.8 1.8 0 1 0 3.6 0a1.8 1.8 0 1 0 -3.6 0M156.3 433.6a1.8 1.8 0 1 0 3.6 0a1.8 1.8 0 1 0 -3.6 0M156.8 434.7a1.8 1.8 0 1 0 3.6 0a1.8 1.8 0 1 0 -3.6 0M157.8 430.7a1.8 1.8 0 1 0 3.6 0a1.8 1.8 0 1 0 -3.6 0M158.2 426.0a1.8 1.8 0 1 0 3.6 0a1.8 1.8 0 1 0 -3.6 0M158.9 424.7a1.8 1.8 0 1 0 3.6 0a1.8 1.8 0 1 0 -3.6 0M159.5 421.2a1.8 1.8 0 1 0 3.6 0a1.8 1.8 0 1 0 -3.6 0M160.4 416.6a1.8 1.8 0 1 0 3.6 0a1.8 1.8 0 1 0 -3.6 0M160.9 415.4a1.8 1.8 0 1 0 3.6 0a1.8 1.8 0 1 0 -3.6 0M162.0 413.5a1.8 1.8 0 1 0 3.6 0a1.8 1.8 0 1 0 -3.6 0M162.3 410.4a1.8 1.8 0 1 0 3.6 0a1.8 1.8 0 1 0 -3.6 0M163.1 410.8a1.8 1.8 0 1 0 3.6 0a1.8 1.8 0 1 0 -3.6 0M163.7 408.3a1.8 1.8 0 1 0 3.6 0a1.8 1.8 0 1 0 -3.6 0M164.6 407.0a1.8 1.8 0 1 0 3.6 0a1.8 1.8 0 1 0 -3.6 0M165.4 406.4a1.8 1.8 0 1 0 3.6 0a1.8 1.8 0 1 0 -3.6 0M166.1 406.2a1.8 1.8 0 1 0 3.6 0a1.8 1.8 0 1 0 -3.6 0M166.7 404.9a1.8 1.8 0 1 0 3.6 0a1.8 1.8 0 1 0 -3.6 0M167.3 405.7a1.8 1.8 0 1 0 3.6 0a1.8 1.8 0 1 0 -3.6 0M168.3 406.5a1.8 1.8 0 1 0 3.6 0a1.8 1.8 0 1 0 -3.6 0M168.9 407.5a1.8 1.8 0 1 0 3.6 0a1.8 1.8 0 1 0 -3.6 0M169.7 409.2a1.8 1.8 0 1 0 3.6 0a1.8 1.8 0 1 0 -3.6 0M170.4 408.9a1.8 1.8 0 1 0 3.6 0a1.8 1.8 0 1 0 -3.6 0M170.9 410.9a1.8 1.8 0 1 0 3.6 0a1.8 1.8 0 1 0 -3.6 0M171.7 414.2a1.8 1.8 0 1 0 3.6 0a1.8 1.8 0 1 0 -3.6 0M172.4 415.6a1.8 1.8 0 1 0 3.6 0a1.8 1.8 0 1 0 -3.6 0M173.2 417.9a1.8 1.8 0 1 0 3.6 0a1.8 1.8 0 1 0 -3.6 0M173.5 419.9a1.8 1.8 0 1 0 3.6 0a1.8 1.8 0 1 0 -3.6 0M174.3 420.6a1.8 1.8 0 1 0 3.6 0a1.8 1.8 0 1 0 -3.6 0M175.0 420.1a1.8 1.8 0 1 0 3.6 0a1.8 1.8 0 1 0 -3.6 0M175.7 425.8a1.8 1.8 0 1 0 3.6 0a1.8 1.8 0 1 0 -3.6 0M176.6 426.5a1.8 1.8 0 1 0 3.6 0a1.8 1.8 0 1 0 -3.6 0M177.3 428.9a1.8 1.8 0 1 0 3.6 0a1.8 1.8 0 1 0 -3.6 0M177.8 430.2a1.8 1.8 0 1 0 3.6 0a1.8 1.8 0 1 0 -3.6 0M178.7 432.2a1.8 1.8 0 1 0 3.6 0a1.8 1.8 0 1 0 -3.6 0M179.4 432.2a1.8 1.8 0 1 0 3.6 0a1.8 1.8 0 1 0 -3.6 0M180.1 433.4a1.8 1.8 0 1 0 3.6 0a1.8 1.8 0 1 0 -3.6 0M180.7 436.8a1.8 1.8 0 1 0 3.6 0a1.8 1.8 0 1 0 -3.6 0M181.3 434.0a1.8 1.8 0 1 0 3.6 0a1.8 1.8 0 1 0 -3.6 0M182.2 437.0a1.8 1.8 0 1 0 3.6 0a1.8 1.8 0 1 0 -3.6 0M182.7 436.8a1.8 1.8 0 1 0 3.6 0a1.8 1.8 0 1 0 -3.6 0M183.4 437.9a1.8 1.8 0 1 0 3.6 0a1.8 1.8 0 1 0 -3.6 0M184.0 440.2a1.8 1.8 0 1 0 3.6 0a1.8 1.8 0 1 0 -3.6 0M184.8 441.3a1.8 1.8 0 1 0 3.6 0a1.8 1.8 0 1 0 -3.6 0M185.7 440.6a1.8 1.8 0 1 0 3.6 0a1.8 1.8 0 1 0 -3.6 0M186.5 441.6a1.8 1.8 0 1 0 3.6 0a1.8 1.8 0 1 0 -3.6 0M187.2 440.9a1.8 1.8 0 1 0 3.6 0a1.8 1.8 0 1 0 -3.6 0M187.8 443.7a1.8 1.8 0 1 0 3.6 0a1.8 1.8 0 1 0 -3.6 0M188.5 441.9a1.8 1.8 0 1 0 3.6 0a1.8 1.8 0 1 0 -3.6 0M189.2 442.1a1.8 1.8 0 1 0 3.6 0a1.8 1.8 0 1 0 -3.6 0M189.8 443.9a1.8 1.8 0 1 0 3.6 0a1.8 1.8 0 1 0 -3.6 0M190.6 443.3a1.8 1.8 0 1 0 3.6 0a1.8 1.8 0 1 0 -3.6 0M191.1 443.5a1.8 1.8 0 1 0 3.6 0a1.8 1.8 0 1 0 -3.6 0M192.0 441.3a1.8 1.8 0 1 0 3.6 0a1.8 1.8 0 1 0 -3.6 0M192.7 444.4a1.8 1.8 0 1 0 3.6 0a1.8 1.8 0 1 0 -3.6 0M193.5 444.4a1.8 1.8 0 1 0 3.6 0a1.8 1.8 0 1 0 -3.6 0M194.1 444.8a1.8 1.8 0 1 0 3.6 0a1.8 1.8 0 1 0 -3.6 0M194.8 442.6a1.8 1.8 0 1 0 3.6 0a1.8 1.8 0 1 0 -3.6 0M195.5 442.6a1.8 1.8 0 1 0 3.6 0a1.8 1.8 0 1 0 -3.6 0M196.1 442.0a1.8 1.8 0 1 0 3.6 0a1.8 1.8 0 1 0 -3.6 0M196.9 443.3a1.8 1.8 0 1 0 3.6 0a1.8 1.8 0 1 0 -3.6 0M197.6 443.6a1.8 1.8 0 1 0 3.6 0a1.8 1.8 0 1 0 -3.6 0M198.1 442.6a1.8 1.8 0 1 0 3.6 0a1.8 1.8 0 1 0 -3.6 0M198.8 444.0a1.8 1.8 0 1 0 3.6 0a1.8 1.8 0 1 0 -3.6 0M199.4 443.8a1.8 1.8 0 1 0 3.6 0a1.8 1.8 0 1 0 -3.6 0M200.4 443.4a1.8 1.8 0 1 0 3.6 0a1.8 1.8 0 1 0 -3.6 0M200.8 443.8a1.8 1.8 0 1 0 3.6 0a1.8 1.8 0 1 0 -3.6 0M201.8 443.8a1.8 1.8 0 1 0 3.6 0a1.8 1.8 0 1 0 -3.6 0M202.4 444.6a1.8 1.8 0 1 0 3.6 0a1.8 1.8 0 1 0 -3.6 0M203.2 444.4a1.8 1.8 0 1 0 3.6 0a1.8 1.8 0 1 0 -3.6 0M203.9 443.3a1.8 1.8 0 1 0 3.6 0a1.8 1.8 0 1 0 -3.6 0M204.7 441.3a1.8 1.8 0 1 0 3.6 0a1.8 1.8 0 1 0 -3.6 0M205.3 444.1a1.8 1.8 0 1 0 3.6 0a1.8 1.8 0 1 0 -3.6 0M205.8 444.7a1.8 1.8 0 1 0 3.6 0a1.8 1.8 0 1 0 -3.6 0M206.4 442.7a1.8 1.8 0 1 0 3.6 0a1.8 1.8 0 1 0 -3.6 0M207.3 444.4a1.8 1.8 0 1 0 3.6 0a1.8 1.8 0 1 0 -3.6 0M208.0 442.6a1.8 1.8 0 1 0 3.6 0a1.8 1.8 0 1 0 -3.6 0M208.7 445.0a1.8 1.8 0 1 0 3.6 0a1.8 1.8 0 1 0 -3.6 0M209.3 442.8a1.8 1.8 0 1 0 3.6 0a1.8 1.8 0 1 0 -3.6 0M210.0 442.1a1.8 1.8 0 1 0 3.6 0a1.8 1.8 0 1 0 -3.6 0M210.9 446.0a1.8 1.8 0 1 0 3.6 0a1.8 1.8 0 1 0 -3.6 0M211.3 444.2a1.8 1.8 0 1 0 3.6 0a1.8 1.8 0 1 0 -3.6 0M212.2 443.9a1.8 1.8 0 1 0 3.6 0a1.8 1.8 0 1 0 -3.6 0M212.9 443.8a1.8 1.8 0 1 0 3.6 0a1.8 1.8 0 1 0 -3.6 0M213.4 442.9a1.8 1.8 0 1 0 3.6 0a1.8 1.8 0 1 0 -3.6 0M214.3 444.9a1.8 1.8 0 1 0 3.6 0a1.8 1.8 0 1 0 -3.6 0M214.9 442.4a1.8 1.8 0 1 0 3.6 0a1.8 1.8 0 1 0 -3.6 0M215.6 444.1a1.8 1.8 0 1 0 3.6 0a1.8 1.8 0 1 0 -3.6 0M216.3 442.2a1.8 1.8 0 1 0 3.6 0a1.8 1.8 0 1 0 -3.6 0M217.3 445.4a1.8 1.8 0 1 0 3.6 0a1.8 1.8 0 1 0 -3.6 0M217.8 444.2a1.8 1.8 0 1 0 3.6 0a1.8 1.8 0 1 0 -3.6 0M218.6 444.9a1.8 1.8 0 1 0 3.6 0a1.8 1.8 0 1 0 -3.6 0M219.1 444.0a1.8 1.8 0 1 0 3.6 0a1.8 1.8 0 1 0 -3.6 0M219.8 444.2a1.8 1.8 0 1 0 3.6 0a1.8 1.8 0 1 0 -3.6 0M220.6 443.6a1.8 1.8 0 1 0 3.6 0a1.8 1.8 0 1 0 -3.6 0M221.3 444.1a1.8 1.8 0 1 0 3.6 0a1.8 1.8 0 1 0 -3.6 0M222.2 443.9a1.8 1.8 0 1 0 3.6 0a1.8 1.8 0 1 0 -3.6 0M222.9 442.6a1.8 1.8 0 1 0 3.6 0a1.8 1.8 0 1 0 -3.6 0M223.3 443.7a1.8 1.8 0 1 0 3.6 0a1.8 1.8 0 1 0 -3.6 0M224.3 442.7a1.8 1.8 0 1 0 3.6 0a1.8 1.8 0 1 0 -3.6 0M224.9 443.9a1.8 1.8 0 1 0 3.6 0a1.8 1.8 0 1 0 -3.6 0M225.4 445.2a1.8 1.8 0 1 0 3.6 0a1.8 1.8 0 1 0 -3.6 0M226.0 444.2a1.8 1.8 0 1 0 3.6 0a1.8 1.8 0 1 0 -3.6 0M226.9 446.4a1.8 1.8 0 1 0 3.6 0a1.8 1.8 0 1 0 -3.6 0M227.8 443.2a1.8 1.8 0 1 0 3.6 0a1.8 1.8 0 1 0 -3.6 0M228.3 445.9a1.8 1.8 0 1 0 3.6 0a1.8 1.8 0 1 0 -3.6 0M228.9 444.0a1.8 1.8 0 1 0 3.6 0a1.8 1.8 0 1 0 -3.6 0M229.8 445.0a1.8 1.8 0 1 0 3.6 0a1.8 1.8 0 1 0 -3.6 0M230.4 443.5a1.8 1.8 0 1 0 3.6 0a1.8 1.8 0 1 0 -3.6 0M231.0 444.5a1.8 1.8 0 1 0 3.6 0a1.8 1.8 0 1 0 -3.6 0M231.8 445.8a1.8 1.8 0 1 0 3.6 0a1.8 1.8 0 1 0 -3.6 0M232.5 444.8a1.8 1.8 0 1 0 3.6 0a1.8 1.8 0 1 0 -3.6 0M233.1 444.7a1.8 1.8 0 1 0 3.6 0a1.8 1.8 0 1 0 -3.6 0M234.0 444.7a1.8 1.8 0 1 0 3.6 0a1.8 1.8 0 1 0 -3.6 0M234.5 443.9a1.8 1.8 0 1 0 3.6 0a1.8 1.8 0 1 0 -3.6 0M235.3 445.4a1.8 1.8 0 1 0 3.6 0a1.8 1.8 0 1 0 -3.6 0M236.2 446.0a1.8 1.8 0 1 0 3.6 0a1.8 1.8 0 1 0 -3.6 0M236.6 443.2a1.8 1.8 0 1 0 3.6 0a1.8 1.8 0 1 0 -3.6 0M237.5 443.8a1.8 1.8 0 1 0 3.6 0a1.8 1.8 0 1 0 -3.6 0M238.2 444.5a1.8 1.8 0 1 0 3.6 0a1.8 1.8 0 1 0 -3.6 0M238.9 443.8a1.8 1.8 0 1 0 3.6 0a1.8 1.8 0 1 0 -3.6 0M239.7 447.2a1.8 1.8 0 1 0 3.6 0a1.8 1.8 0 1 0 -3.6 0M240.2 445.5a1.8 1.8 0 1 0 3.6 0a1.8 1.8 0 1 0 -3.6 0M240.7 446.4a1.8 1.8 0 1 0 3.6 0a1.8 1.8 0 1 0 -3.6 0M241.7 445.5a1.8 1.8 0 1 0 3.6 0a1.8 1.8 0 1 0 -3.6 0M242.2 443.1a1.8 1.8 0 1 0 3.6 0a1.8 1.8 0 1 0 -3.6 0M243.2 445.0a1.8 1.8 0 1 0 3.6 0a1.8 1.8 0 1 0 -3.6 0M243.6 444.7a1.8 1.8 0 1 0 3.6 0a1.8 1.8 0 1 0 -3.6 0M244.3 443.7a1.8 1.8 0 1 0 3.6 0a1.8 1.8 0 1 0 -3.6 0M245.0 443.2a1.8 1.8 0 1 0 3.6 0a1.8 1.8 0 1 0 -3.6 0M245.7 445.3a1.8 1.8 0 1 0 3.6 0a1.8 1.8 0 1 0 -3.6 0M246.4 444.5a1.8 1.8 0 1 0 3.6 0a1.8 1.8 0 1 0 -3.6 0M247.1 444.8a1.8 1.8 0 1 0 3.6 0a1.8 1.8 0 1 0 -3.6 0M247.8 443.6a1.8 1.8 0 1 0 3.6 0a1.8 1.8 0 1 0 -3.6 0M248.6 444.3a1.8 1.8 0 1 0 3.6 0a1.8 1.8 0 1 0 -3.6 0M249.3 445.5a1.8 1.8 0 1 0 3.6 0a1.8 1.8 0 1 0 -3.6 0M250.2 444.0a1.8 1.8 0 1 0 3.6 0a1.8 1.8 0 1 0 -3.6 0M250.7 444.6a1.8 1.8 0 1 0 3.6 0a1.8 1.8 0 1 0 -3.6 0M251.3 445.4a1.8 1.8 0 1 0 3.6 0a1.8 1.8 0 1 0 -3.6 0M252.0 445.5a1.8 1.8 0 1 0 3.6 0a1.8 1.8 0 1 0 -3.6 0M253.0 444.7a1.8 1.8 0 1 0 3.6 0a1.8 1.8 0 1 0 -3.6 0M253.5 443.2a1.8 1.8 0 1 0 3.6 0a1.8 1.8 0 1 0 -3.6 0M254.1 444.7a1.8 1.8 0 1 0 3.6 0a1.8 1.8 0 1 0 -3.6 0M255.0 443.3a1.8 1.8 0 1 0 3.6 0a1.8 1.8 0 1 0 -3.6 0M255.7 444.1a1.8 1.8 0 1 0 3.6 0a1.8 1.8 0 1 0 -3.6 0M256.3 445.8a1.8 1.8 0 1 0 3.6 0a1.8 1.8 0 1 0 -3.6 0M257.1 443.7a1.8 1.8 0 1 0 3.6 0a1.8 1.8 0 1 0 -3.6 0M257.6 441.8a1.8 1.8 0 1 0 3.6 0a1.8 1.8 0 1 0 -3.6 0M258.4 441.7a1.8 1.8 0 1 0 3.6 0a1.8 1.8 0 1 0 -3.6 0M259.1 443.0a1.8 1.8 0 1 0 3.6 0a1.8 1.8 0 1 0 -3.6 0M259.9 444.7a1.8 1.8 0 1 0 3.6 0a1.8 1.8 0 1 0 -3.6 0M260.6 443.9a1.8 1.8 0 1 0 3.6 0a1.8 1.8 0 1 0 -3.6 0M261.1 443.1a1.8 1.8 0 1 0 3.6 0a1.8 1.8 0 1 0 -3.6 0M262.0 443.6a1.8 1.8 0 1 0 3.6 0a1.8 1.8 0 1 0 -3.6 0M262.7 441.7a1.8 1.8 0 1 0 3.6 0a1.8 1.8 0 1 0 -3.6 0M263.2 444.4a1.8 1.8 0 1 0 3.6 0a1.8 1.8 0 1 0 -3.6 0M264.0 442.5a1.8 1.8 0 1 0 3.6 0a1.8 1.8 0 1 0 -3.6 0M264.6 444.7a1.8 1.8 0 1 0 3.6 0a1.8 1.8 0 1 0 -3.6 0M265.5 444.4a1.8 1.8 0 1 0 3.6 0a1.8 1.8 0 1 0 -3.6 0M265.9 442.2a1.8 1.8 0 1 0 3.6 0a1.8 1.8 0 1 0 -3.6 0M266.8 443.8a1.8 1.8 0 1 0 3.6 0a1.8 1.8 0 1 0 -3.6 0M267.4 443.4a1.8 1.8 0 1 0 3.6 0a1.8 1.8 0 1 0 -3.6 0M268.2 441.9a1.8 1.8 0 1 0 3.6 0a1.8 1.8 0 1 0 -3.6 0M269.1 441.7a1.8 1.8 0 1 0 3.6 0a1.8 1.8 0 1 0 -3.6 0M269.5 441.4a1.8 1.8 0 1 0 3.6 0a1.8 1.8 0 1 0 -3.6 0M270.3 440.8a1.8 1.8 0 1 0 3.6 0a1.8 1.8 0 1 0 -3.6 0M270.9 441.1a1.8 1.8 0 1 0 3.6 0a1.8 1.8 0 1 0 -3.6 0M271.6 441.4a1.8 1.8 0 1 0 3.6 0a1.8 1.8 0 1 0 -3.6 0M272.6 442.8a1.8 1.8 0 1 0 3.6 0a1.8 1.8 0 1 0 -3.6 0M273.1 442.0a1.8 1.8 0 1 0 3.6 0a1.8 1.8 0 1 0 -3.6 0M273.9 443.1a1.8 1.8 0 1 0 3.6 0a1.8 1.8 0 1 0 -3.6 0M274.4 442.0a1.8 1.8 0 1 0 3.6 0a1.8 1.8 0 1 0 -3.6 0M275.1 441.8a1.8 1.8 0 1 0 3.6 0a1.8 1.8 0 1 0 -3.6 0M275.7 442.2a1.8 1.8 0 1 0 3.6 0a1.8 1.8 0 1 0 -3.6 0M276.5 441.4a1.8 1.8 0 1 0 3.6 0a1.8 1.8 0 1 0 -3.6 0" fill="none" stroke="#e8201c" stroke-width="0.65" stroke-opacity="0.9"/>
<path d="M51.0,443.8 C53.7,443.6 62.2,443.3 67.0,442.9 C71.8,442.5 74.5,442.3 80.0,441.6 C85.5,440.9 93.3,439.6 100.0,438.9 C106.7,438.2 115.0,437.5 120.0,437.4 C125.0,437.3 125.8,438.5 130.0,438.4 C134.2,438.2 140.8,437.1 145.0,436.5 C149.2,435.9 152.7,435.6 155.0,434.7 C157.3,433.8 157.8,433.6 159.0,431.0 C160.2,428.4 161.0,422.9 162.0,419.2 C163.0,415.5 164.0,411.3 165.0,409.0 C166.0,406.7 167.2,406.0 168.0,405.5 C168.8,405.0 169.2,404.9 170.0,406.0 C170.8,407.1 172.0,409.4 173.0,411.9 C174.0,414.4 175.0,418.3 176.0,421.0 C177.0,423.7 178.0,426.2 179.0,428.3 C180.0,430.4 180.8,432.0 182.0,433.8 C183.2,435.6 184.7,437.9 186.0,439.3 C187.3,440.7 186.0,441.2 190.0,442.0 C194.0,442.8 201.7,443.4 210.0,443.8 C218.3,444.2 231.7,444.8 240.0,444.7 C248.3,444.6 253.6,443.9 260.0,443.5 C266.4,443.1 273.4,441.9 278.6,442.0 C283.8,442.1 288.9,443.5 291.0,443.8" fill="none" stroke="#e8201c" stroke-width="1.2"/>
<text transform="translate(9.8,232.7) rotate(-90)" font-size="11.2" text-anchor="middle" fill="#333"><tspan font-style="italic">R</tspan><tspan font-size="8" dy="2.5" font-style="italic">xx</tspan><tspan dy="-2.5"> (Ω)</tspan></text>
<text x="171" y="488.9" font-size="12" text-anchor="middle" textLength="92.3" lengthAdjust="spacingAndGlyphs" fill="#333">(<tspan font-style="italic">D</tspan> – <tspan font-style="italic">D</tspan><tspan font-size="8.2" dy="3.2">0</tspan><tspan dy="-3.2">)</tspan><tspan font-style="italic">/</tspan><tspan font-style="italic">B</tspan> (e<tspan font-size="8" dy="-5.2">2</tspan><tspan dy="5.2" font-style="italic"> /</tspan><tspan font-style="italic">h</tspan>)</text>
<text x="0.3" y="12.4" font-size="16.3" font-weight="bold" fill="#111" stroke="#111" stroke-width="0.9">a</text>
<line x1="363.6" y1="17.5" x2="682.6" y2="17.5" stroke="#777" stroke-width="1.1"/>
<line x1="363.6" y1="17.5" x2="363.6" y2="203.8" stroke="#8a8a8a" stroke-width="1.1"/>
<line x1="682.6" y1="17.5" x2="682.6" y2="203.8" stroke="#999" stroke-width="1.1"/>
<line x1="363.6" y1="203.8" x2="682.6" y2="203.8" stroke="#999" stroke-width="1.3"/>
<line x1="388.8" y1="20" x2="388.8" y2="203" stroke="#c4c4c4" stroke-width="1" stroke-dasharray="4 3.9"/>
<line x1="441.3" y1="20" x2="441.3" y2="203" stroke="#c4c4c4" stroke-width="1" stroke-dasharray="4 3.9"/>
<line x1="494.2" y1="20" x2="494.2" y2="203" stroke="#c4c4c4" stroke-width="1" stroke-dasharray="4 3.9"/>
<line x1="546.6" y1="20" x2="546.6" y2="203" stroke="#c4c4c4" stroke-width="1" stroke-dasharray="4 3.9"/>
<line x1="599.6" y1="20" x2="599.6" y2="203" stroke="#c4c4c4" stroke-width="1" stroke-dasharray="4 3.9"/>
<line x1="652.7" y1="20" x2="652.7" y2="203" stroke="#c4c4c4" stroke-width="1" stroke-dasharray="4 3.9"/>
<line x1="363.5" y1="203.8" x2="363.5" y2="209.6" stroke="#777" stroke-width="1"/>
<text x="363.5" y="222.6" font-size="10.5" text-anchor="middle" fill="#333">–3</text>
<line x1="413.9" y1="203.8" x2="413.9" y2="209.6" stroke="#777" stroke-width="1"/>
<text x="413.9" y="222.6" font-size="10.5" text-anchor="middle" fill="#333">–2</text>
<line x1="466.5" y1="203.8" x2="466.5" y2="209.6" stroke="#777" stroke-width="1"/>
<text x="466.5" y="222.6" font-size="10.5" text-anchor="middle" fill="#333">–1</text>
<line x1="519.45" y1="203.8" x2="519.45" y2="209.6" stroke="#777" stroke-width="1"/>
<text x="519.45" y="222.6" font-size="10.5" text-anchor="middle" fill="#333">0</text>
<line x1="572.5" y1="203.8" x2="572.5" y2="209.6" stroke="#777" stroke-width="1"/>
<text x="572.5" y="222.6" font-size="10.5" text-anchor="middle" fill="#333">1</text>
<line x1="626.5" y1="203.8" x2="626.5" y2="209.6" stroke="#777" stroke-width="1"/>
<text x="626.5" y="222.6" font-size="10.5" text-anchor="middle" fill="#333">2</text>
<line x1="682.1" y1="203.8" x2="682.1" y2="209.6" stroke="#777" stroke-width="1"/>
<text x="682.1" y="222.6" font-size="10.5" text-anchor="middle" fill="#333">3</text>
<path d="M384.0,191.5 385.4,191.1 386.8,191.6 388.1,191.7 389.5,191.3 390.9,191.0 392.2,191.4 393.6,191.5 395.0,191.7 396.4,191.0 397.8,190.9 399.1,191.5 400.5,191.3 402.0,191.3 403.4,191.5 404.9,191.2 406.3,190.7 407.8,190.5 409.2,191.2 410.7,190.3 412.2,190.1 413.6,189.9 415.1,190.0 416.4,189.1 417.7,188.8 419.0,188.2 419.6,187.1 420.3,185.7 420.9,184.6 421.6,183.5 422.2,182.5 422.9,181.1 423.2,180.1 423.6,178.5 423.9,176.5 424.2,175.9 424.6,173.9 424.9,172.9 425.2,171.2 425.6,170.3 425.9,168.7 426.2,167.7 426.6,167.2 426.9,164.9 427.3,163.6 427.7,162.6 428.1,160.7 428.4,159.8 428.8,158.8 429.2,157.3 429.6,156.2 430.0,154.8 431.2,155.3 432.5,155.5 433.8,156.5 435.0,156.8 436.4,156.6 437.7,157.4 439.1,156.8 440.4,156.1 441.6,156.0 442.9,155.3 444.1,154.8 445.0,156.3 445.8,157.0 446.6,158.6 447.5,159.5 448.0,160.8 448.4,162.6 448.9,163.7 449.4,164.9 449.9,166.0 450.3,167.8 450.8,169.1 451.3,170.8 451.7,171.5 452.2,173.0 452.7,174.4 453.2,175.7 453.7,176.9 454.2,178.2 454.7,179.4 455.2,180.5 455.7,181.6 456.2,183.2 457.2,184.3 458.2,185.9 459.3,187.4 460.3,188.2 461.8,188.2 463.4,188.0 464.9,187.7 466.4,187.2 467.4,186.4 468.4,185.2 469.4,184.4 470.5,183.7 471.5,182.0 472.5,181.1 472.8,179.5 473.0,179.0 473.3,177.1 473.6,176.0 473.8,174.6 474.1,172.7 474.4,172.4 474.6,170.9 474.9,169.0 475.2,167.9 475.4,166.3 475.7,164.7 476.0,163.6 476.2,162.4 476.5,160.9 476.7,159.9 476.8,158.4 477.0,156.9 477.2,155.9 477.4,153.9 477.5,153.0 477.7,151.7 477.9,150.0 478.1,148.2 478.2,147.1 478.4,146.1 478.6,144.8 478.7,143.7 478.9,141.6 479.1,140.6 479.3,139.4 479.4,137.8 479.6,136.5 479.9,134.4 480.3,133.9 480.6,133.0 480.9,131.2 481.3,129.2 481.6,128.0 481.9,126.8 482.3,126.0 482.6,123.9 483.6,125.0 484.6,125.7 485.7,127.0 486.7,127.4 487.7,128.4 488.7,130.0 489.7,130.3 490.7,131.3 491.7,132.5 493.0,133.7 494.2,134.9 495.5,135.7 496.8,136.5 498.1,137.6 499.4,138.5 499.6,136.6 499.9,135.6 500.1,134.3 500.4,132.9 500.6,131.9 500.9,130.4 501.1,131.8 501.4,133.6 501.6,134.8 501.8,136.1 502.0,137.7 502.3,139.3 502.5,140.6 502.7,142.2 502.8,143.1 503.0,144.4 503.2,145.4 503.4,147.6 503.5,148.8 503.7,149.6 503.9,150.9 504.0,151.9 504.2,153.7 504.4,155.0 504.6,156.9 504.7,157.6 504.9,158.8 505.2,159.9 505.5,160.6 505.7,163.1 506.0,164.0 506.3,164.8 506.6,166.6 506.9,167.4 507.2,170.2 507.4,170.8 507.7,171.9 508.0,173.0 509.0,174.0 510.0,174.4 511.0,176.1 512.5,175.9 514.0,175.3 515.6,175.8 517.1,175.5 518.6,175.2 520.2,175.8 521.7,176.8 523.2,176.7 524.7,177.3 526.2,176.5 527.7,176.5 529.2,177.1 530.1,176.2 531.1,175.0 532.0,173.5 532.6,172.0 533.1,170.9 533.7,169.7 534.2,168.4 534.8,167.4 535.4,166.8 535.9,165.4 536.5,164.0 536.8,163.3 537.1,161.4 537.4,160.1 537.8,158.5 538.1,157.5 538.4,155.8 538.7,154.4 539.0,153.9 539.3,152.8 539.6,151.3 539.9,150.2 540.3,148.6 540.6,147.0 540.9,145.9 541.2,144.6 541.5,143.2 541.7,141.7 542.0,140.2 542.3,139.0 542.6,138.1 542.8,136.9 543.1,135.4 543.4,134.7 543.7,133.0 543.9,131.9 544.2,130.4 545.7,130.3 547.2,129.4 548.2,130.2 549.3,130.9 550.3,132.5 551.6,133.2 552.8,133.3 554.1,134.4 555.4,134.5 556.2,135.8 557.0,137.2 557.8,138.4 558.6,138.8 559.4,140.6 559.7,142.1 560.0,143.0 560.3,144.3 560.6,145.7 560.9,147.3 561.2,148.7 561.5,150.0 561.7,150.5 562.0,152.1 562.3,152.9 562.6,154.9 562.9,156.4 563.2,157.3 563.5,158.8 563.9,160.2 564.4,161.6 564.8,163.2 565.3,164.0 565.7,165.3 566.2,166.7 566.6,168.8 567.1,170.0 567.5,171.0 568.1,172.1 568.8,173.3 569.4,174.4 570.0,175.6 570.7,176.6 571.3,177.7 572.0,178.6 572.6,180.1 574.1,179.4 575.7,179.6 577.2,178.8 578.7,178.1 579.9,177.3 581.1,176.4 582.4,175.7 583.6,174.9 584.8,174.0 585.5,172.6 586.1,171.7 586.8,170.5 587.5,169.0 588.1,167.8 588.8,166.9 589.0,165.3 589.2,164.0 589.4,163.2 589.6,160.9 589.8,160.2 590.0,158.8 590.2,157.5 590.4,156.4 590.6,155.4 590.8,153.8 591.1,152.4 591.3,150.9 591.5,149.8 591.7,148.8 591.9,147.1 592.1,145.5 592.3,144.2 592.5,142.9 592.7,141.5 592.9,140.6 593.1,139.6 593.4,138.0 593.6,136.5 593.9,135.6 594.1,133.6 594.4,132.7 594.6,131.3 594.9,129.3 595.1,127.9 595.4,126.7 595.6,125.9 595.9,124.3 596.8,123.3 597.6,121.5 598.8,121.9 599.9,123.0 600.5,124.5 601.1,125.3 601.7,126.5 602.3,127.8 602.8,128.9 603.3,130.1 603.7,130.9 604.2,132.4 604.7,133.9 605.3,134.8 606.0,136.6 606.6,138.4 607.2,139.0 607.8,141.0 608.4,141.3 609.0,142.0 609.6,143.6 610.2,144.6 610.8,146.1 611.2,148.2 611.6,149.4 612.0,150.5 612.4,152.3 612.9,154.1 613.3,155.5 613.8,156.4 614.3,158.4 614.4,159.6 614.6,161.1 614.8,162.5 614.9,163.9 615.0,165.2 615.2,166.7 615.4,167.8 615.5,169.4 615.7,170.5 616.0,172.6 616.2,173.6 616.4,175.0 616.6,175.7 616.8,177.5 617.1,179.2 617.3,180.3 617.8,181.1 618.3,183.1 618.7,183.8 619.2,185.3 619.7,186.4 620.6,187.3 621.5,188.3 622.5,189.5 623.4,190.1 625.0,190.3 626.7,191.2 628.3,191.0 629.8,190.8 631.3,190.9 632.9,191.4 634.4,191.3 635.9,191.0 637.3,191.3 638.8,191.7 640.2,191.8 641.7,191.5 643.2,190.9 644.6,191.6 646.1,191.9 647.5,191.7 649.0,191.3 650.8,191.7 652.6,192.3 654.1,192.0 655.6,192.1 657.0,191.7 658.5,191.9 660.0,191.9" fill="none" stroke="#3465b8" stroke-width="1.25" stroke-linejoin="round"/>
<path d="M392.4,169.7 393.8,169.6 395.1,169.7 396.4,170.1 397.8,169.6 399.1,169.3 400.5,169.7 401.9,170.1 403.2,169.6 404.6,170.0 405.9,170.2 407.2,170.3 408.6,170.5 409.9,169.9 411.2,169.8 412.5,170.2 413.8,169.0 415.1,168.9 416.7,168.1 418.3,167.3 418.9,166.3 419.4,164.9 419.9,163.6 420.5,162.0 421.0,160.8 421.5,158.5 421.9,157.4 422.4,156.3 422.9,154.8 423.3,153.7 423.6,152.6 424.0,151.1 424.4,149.6 424.7,148.4 425.1,147.0 425.4,145.8 425.8,144.7 426.2,143.1 426.5,141.6 426.9,140.6 427.4,139.0 427.9,138.2 428.4,136.9 429.0,135.5 429.5,134.1 430.0,132.5 431.7,133.1 433.3,133.2 435.0,133.5 436.0,132.7 437.1,131.1 438.1,130.4 439.1,129.4 439.9,128.2 440.7,127.6 441.6,126.2 442.4,125.3 443.2,124.3 444.2,125.8 445.2,127.4 446.2,128.4 446.5,129.5 446.9,130.8 447.2,132.7 447.5,133.5 447.9,135.3 448.2,136.4 448.5,137.9 448.9,138.7 449.2,140.6 449.6,142.1 449.9,143.0 450.3,144.2 450.7,146.4 451.1,147.3 451.4,149.4 451.8,149.8 452.2,150.8 452.6,152.3 452.9,154.0 453.3,154.8 454.2,156.3 455.2,157.8 456.2,159.0 457.2,160.2 458.3,160.8 459.3,162.2 460.3,163.3 461.6,163.4 462.9,163.5 464.1,164.5 465.4,164.5 466.6,163.8 467.9,162.7 469.1,161.5 470.4,160.9 470.9,159.0 471.4,158.5 471.9,157.0 472.4,155.3 473.0,154.5 473.5,152.8 474.0,152.0 474.5,150.7 474.7,149.4 474.9,148.1 475.1,146.7 475.3,145.3 475.5,143.6 475.7,142.5 475.9,141.1 476.1,139.8 476.3,138.6 476.5,137.4 476.7,136.3 476.9,133.7 477.1,133.2 477.3,131.7 477.5,130.4 477.8,129.7 478.1,127.9 478.3,125.8 478.6,125.0 478.9,123.3 479.2,122.4 479.5,120.4 479.8,119.3 480.0,117.9 480.3,116.6 480.6,115.2 481.4,113.8 482.1,112.3 482.9,111.8 483.6,110.5 485.0,111.7 486.3,112.3 487.7,113.2 489.0,112.9 490.4,113.3 491.7,113.2 493.0,113.0 494.2,112.4 495.5,112.1 496.8,111.8 497.5,113.7 498.1,114.4 498.8,116.2 499.1,117.3 499.4,118.2 499.6,119.9 499.9,121.1 500.2,122.4 500.5,123.7 500.8,125.8 501.1,126.5 501.3,127.8 501.6,129.8 501.9,130.4 502.2,131.7 502.6,132.6 502.9,134.6 503.2,135.5 503.6,137.7 503.9,138.2 504.2,139.7 504.6,140.8 504.9,142.6 505.7,143.6 506.5,144.3 507.4,145.6 508.2,146.6 509.0,147.7 510.4,147.7 511.7,148.3 513.0,148.5 514.4,148.4 515.8,148.3 517.1,148.7 518.5,148.3 520.0,148.6 521.4,149.2 522.9,148.2 524.3,148.0 525.8,148.0 527.2,148.1 528.7,147.4 530.2,147.1 531.8,147.0 533.3,146.7 534.1,145.9 534.9,144.3 535.8,142.9 536.6,141.3 537.4,140.6 537.7,139.4 538.1,138.0 538.4,136.4 538.8,135.1 539.1,134.1 539.5,133.2 539.8,131.8 540.2,130.3 540.5,128.9 540.9,127.8 541.2,126.4 541.6,125.2 542.1,124.6 542.5,122.4 542.9,121.4 543.3,120.6 543.8,118.9 544.2,117.8 545.6,118.7 546.9,118.8 548.3,119.3 549.6,119.3 551.0,119.2 552.3,119.3 553.7,118.2 555.0,117.6 556.4,117.2 557.1,119.1 557.9,119.9 558.6,121.2 559.4,122.3 559.7,123.9 560.1,125.2 560.4,126.7 560.8,127.6 561.1,129.0 561.5,130.7 561.8,131.7 562.2,132.7 562.5,134.5 562.9,135.7 563.2,136.9 563.6,138.6 564.0,139.4 564.3,140.6 564.7,142.1 565.0,144.0 565.4,144.8 565.8,146.2 566.1,147.4 566.5,148.7 567.0,150.1 567.5,151.5 568.0,152.9 568.5,153.3 569.1,155.4 569.6,156.3 570.1,157.4 570.6,158.8 572.1,159.5 573.7,158.7 575.2,159.4 576.7,158.8 577.9,158.5 579.1,157.3 580.3,157.1 581.5,156.6 582.7,155.8 583.6,154.7 584.4,153.1 585.3,152.7 586.2,151.7 587.1,150.4 587.9,150.3 588.8,148.7 589.1,147.3 589.5,145.9 589.8,144.6 590.2,143.1 590.5,141.7 590.8,140.6 591.2,139.3 591.5,137.7 591.9,136.5 592.2,134.8 592.6,134.0 592.9,132.5 593.2,131.0 593.4,130.0 593.7,128.4 594.0,127.2 594.3,126.1 594.5,124.4 594.8,124.2 595.1,122.2 595.4,120.9 595.6,119.4 595.9,118.3 596.8,116.3 598.0,117.4 599.3,117.5 600.3,118.9 601.3,119.6 602.3,120.5 603.2,121.0 604.1,122.2 605.1,123.5 606.0,124.2 607.2,125.2 608.4,126.2 609.6,127.8 610.2,128.7 610.8,130.0 611.4,131.5 611.6,133.0 611.9,134.2 612.1,135.9 612.4,138.2 612.6,138.8 612.9,140.8 613.1,141.4 613.4,143.3 613.6,144.7 613.9,146.1 614.1,147.5 614.3,149.4 614.5,150.4 614.7,151.9 614.9,153.5 615.2,154.8 615.5,156.3 615.8,158.2 616.1,159.5 616.4,160.3 616.7,162.1 617.5,163.2 618.2,164.3 619.0,165.9 619.7,166.9 620.9,167.4 622.2,168.1 623.4,168.3 624.6,168.8 626.1,168.4 627.5,169.3 629.0,169.3 630.4,169.6 631.9,169.6 633.4,169.3 634.8,169.9 636.3,169.8 637.7,169.9 639.2,170.2 640.6,170.4 641.9,170.5 643.3,170.2 644.6,170.0 646.0,170.6" fill="none" stroke="#3a7d47" stroke-width="1.25" stroke-linejoin="round"/>
<path d="M407.7,159.8 408.9,158.6 410.2,158.6 411.4,158.6 412.7,157.8 414.0,157.0 415.2,155.6 416.5,155.3 417.8,154.8 418.3,153.7 418.8,152.8 419.3,151.3 419.9,149.8 420.4,148.5 420.9,146.8 421.4,145.7 421.9,144.6 422.2,143.2 422.4,141.8 422.7,140.7 423.0,139.3 423.3,138.2 423.5,137.3 423.8,135.8 424.1,134.4 424.4,132.9 424.6,131.2 424.9,130.4 425.2,128.9 425.5,127.7 425.8,125.8 426.0,125.0 426.3,123.1 426.6,121.9 426.9,120.3 427.7,118.9 428.4,117.4 429.2,117.1 430.0,115.2 431.7,114.9 433.3,115.5 435.0,115.2 436.4,114.4 437.7,114.0 439.1,113.2 439.5,111.6 439.9,110.4 440.3,109.5 440.7,108.4 441.1,106.5 441.2,107.6 441.3,109.3 441.4,110.9 441.5,111.8 441.6,113.6 441.8,114.5 441.9,116.3 442.0,117.7 442.1,119.3 442.2,120.3 442.8,119.2 443.4,117.5 443.9,116.8 444.5,115.1 445.1,114.2 445.8,115.8 446.4,117.4 447.1,118.4 447.8,119.4 448.4,121.3 449.1,122.3 449.6,123.6 450.2,124.5 450.7,126.0 451.2,127.8 451.7,128.6 452.2,130.0 452.8,131.1 453.3,132.5 454.3,133.3 455.4,135.0 456.4,136.5 456.9,138.1 457.4,139.6 457.8,141.0 458.3,142.6 459.6,142.6 461.0,144.3 462.3,144.6 463.6,144.3 464.9,143.9 466.1,143.5 467.4,142.6 468.4,141.1 469.4,139.7 470.4,138.5 470.8,137.3 471.1,136.4 471.5,134.1 471.9,133.3 472.3,131.8 472.6,130.9 473.0,129.9 473.4,128.1 473.8,126.5 474.1,125.6 474.5,124.3 474.8,122.9 475.0,121.3 475.3,120.7 475.6,119.0 475.9,118.1 476.1,116.2 476.4,115.6 476.7,113.5 477.0,113.0 477.2,110.8 477.5,110.1 478.0,109.2 478.5,107.4 478.8,105.9 479.2,104.2 479.5,103.3 479.9,102.1 480.2,100.3 480.6,99.1 480.9,98.0 481.3,96.5 481.6,95.2 483.6,94.2 484.9,93.8 486.1,95.1 487.4,95.8 488.7,96.2 490.2,96.6 491.8,97.2 493.3,97.0 494.8,97.6 496.3,98.8 497.9,98.6 499.4,98.9 500.9,99.2 501.2,100.9 501.6,102.2 501.9,103.3 502.1,101.8 502.4,100.1 502.6,99.0 502.9,97.2 503.0,98.7 503.1,99.3 503.2,100.9 503.3,102.8 503.5,104.0 503.6,105.4 503.7,106.9 503.8,108.1 503.9,109.4 504.4,111.3 504.9,112.2 505.4,113.4 505.8,114.8 506.3,116.3 506.7,117.8 507.2,119.2 507.6,120.7 508.1,121.5 508.5,123.3 509.0,124.3 509.6,125.8 510.1,126.6 510.7,128.2 511.3,130.2 511.9,131.1 512.4,132.0 513.0,133.5 514.4,133.0 515.7,133.7 517.0,134.0 518.4,134.5 519.8,135.4 521.1,134.9 522.3,134.6 523.5,134.0 524.8,133.2 526.0,132.6 527.2,132.5 528.3,131.7 529.4,130.9 530.4,131.2 531.5,129.5 532.3,128.2 533.1,126.9 533.9,126.2 534.7,124.7 535.5,123.5 536.0,121.9 536.5,121.4 537.0,119.6 537.5,118.1 538.1,117.3 538.6,116.1 539.1,114.6 539.6,113.7 540.1,112.2 540.3,111.1 540.6,109.3 540.8,107.7 541.0,106.3 541.3,105.7 541.5,104.8 541.7,103.4 542.0,102.2 542.2,100.5 543.1,100.1 544.0,98.5 546.2,97.6 547.7,98.0 549.2,98.7 550.8,98.3 552.3,99.2 553.7,100.1 555.0,100.7 556.4,101.3 556.9,102.8 557.4,104.2 557.9,105.5 558.4,107.4 558.8,108.8 559.1,110.5 559.5,111.4 559.9,113.0 560.3,114.0 560.6,115.6 561.0,116.6 561.4,118.3 561.8,119.5 562.1,121.0 562.5,122.3 563.2,123.4 563.8,124.4 564.5,125.9 565.2,127.6 565.8,129.0 566.5,129.7 567.2,131.3 567.8,132.5 568.5,133.5 569.4,134.6 570.2,135.1 571.1,136.6 572.0,137.3 572.9,138.9 573.7,139.8 574.6,140.6 576.0,141.8 577.3,141.8 578.7,143.6 579.6,142.8 580.4,141.8 581.3,140.2 582.2,139.8 583.1,138.6 583.9,137.5 584.8,136.5 585.2,134.9 585.7,133.5 586.1,132.3 586.6,132.0 587.0,129.8 587.5,128.4 587.9,126.8 588.4,125.5 588.8,124.3 589.3,122.8 589.7,121.3 590.2,120.5 590.6,118.8 591.1,117.8 591.5,115.9 592.0,115.2 592.4,113.5 592.9,112.2 593.3,111.2 593.7,109.7 594.1,108.2 594.5,107.2 595.5,106.4 596.5,104.8 598.5,105.3 599.5,106.4 600.5,107.8 601.5,109.0 602.5,109.9 603.5,111.4 604.2,112.6 605.0,113.5 605.7,114.8 606.5,115.9 607.2,116.9 608.1,117.9 609.0,118.9 609.9,120.7 610.8,121.8 611.4,123.3 612.0,124.4 612.6,125.1 613.2,126.6 613.6,128.4 614.1,130.0 614.5,131.5 615.6,131.8" fill="none" stroke="#c98a3a" stroke-width="1.25" stroke-linejoin="round"/>
<path d="M364.0,170.2 365.3,170.3 366.7,170.4 368.0,170.2 369.3,170.3 370.7,170.6 372.0,170.1 373.3,169.9 374.7,170.3 376.0,170.4 377.3,169.8 378.7,170.2 380.0,170.4 381.3,170.6 382.7,170.3 384.0,170.4 385.3,170.0 386.7,170.6 388.0,170.8 389.3,170.2 390.6,170.1 392.0,169.9 393.3,170.5 394.6,170.3 396.0,170.0 397.3,170.2 398.6,170.3 399.9,169.9 401.2,169.6 402.5,168.6 403.8,168.9 405.0,168.3 406.2,167.9 407.4,166.7 408.6,166.5 409.4,165.8 410.2,164.9 411.1,163.7 411.9,162.4 412.4,160.8 413.0,159.5 413.5,158.6 414.0,157.3 414.6,156.0 415.1,154.3 415.6,153.3 416.2,151.6 416.7,150.1 417.2,148.3 417.8,147.8 418.3,146.2 418.9,145.5 419.6,143.3 420.2,141.9 420.9,140.6 421.2,139.4 421.6,138.0 421.9,136.1 422.2,135.0 422.6,133.5 422.9,133.1 423.2,130.9 423.6,130.0 423.9,129.0 424.2,127.6 424.6,126.1 424.9,124.3 425.4,123.4 425.8,121.2 426.3,120.2 426.7,118.7 427.2,117.5 427.6,117.0 428.1,114.4 428.5,113.7 429.0,112.2 429.8,110.5 430.5,110.0 431.2,108.7 432.0,107.0 433.4,105.9 434.8,105.2 435.7,104.6 436.6,102.8 437.4,101.9 438.3,100.3 439.5,99.7 440.7,98.7 441.9,98.2 443.3,98.8 444.7,99.6 445.4,101.0 446.1,102.6 446.8,103.8 447.4,105.2 448.0,107.3 448.5,107.9 449.1,109.4 449.6,110.6 450.2,111.9 450.7,113.3 451.2,114.4 451.7,115.9 452.2,117.8 452.8,119.0 453.3,120.3 454.2,121.6 455.1,123.2 456.0,124.5 456.9,125.8 457.7,126.6 458.6,127.7 459.4,128.3 460.3,129.4 461.6,129.5 463.0,129.6 464.3,130.0 465.1,128.8 465.9,127.5 466.8,126.5 467.6,125.4 468.4,124.3 468.9,122.9 469.3,121.5 469.8,120.1 470.2,119.3 470.7,117.5 471.1,115.9 471.6,114.9 472.0,113.2 472.5,112.2 472.9,110.5 473.4,109.5 473.8,107.6 474.3,105.8 474.7,105.5 475.2,104.4 475.6,102.2 476.1,101.1 476.5,100.0 476.8,98.9 477.1,96.9 477.4,95.9 477.6,94.6 477.9,93.6 478.2,91.8 478.5,91.1 479.0,90.1 479.5,88.5 480.0,87.4 480.6,86.0 481.1,84.2 481.6,83.5 482.1,81.9 482.6,81.0 483.6,80.2 484.6,79.0 485.6,78.4 486.7,77.5 487.7,77.0 488.7,75.9 490.2,75.6 491.8,74.6 493.3,74.4 494.8,73.9 495.8,75.4 496.8,76.1 497.8,76.8 498.8,78.0 499.2,79.3 499.6,80.5 500.0,82.2 500.4,83.3 500.9,84.7 501.3,86.5 501.7,86.8 502.1,88.2 502.5,89.3 502.9,91.1 503.2,91.9 503.5,93.9 503.8,95.0 504.0,96.7 504.3,96.9 504.6,98.5 504.9,100.0 505.6,101.8 506.3,103.0 506.9,104.3 507.6,105.7 508.3,106.8 509.0,108.1 509.9,109.1 510.7,110.1 511.6,111.4 512.4,112.1 513.3,113.3 514.1,114.6 515.0,115.2 516.2,115.5 517.4,116.2 518.7,117.2 519.9,117.6 521.1,118.3 522.3,117.4 523.5,117.3 524.8,116.0 526.0,114.9 527.2,114.2 527.8,113.3 528.5,112.4 529.1,110.1 529.8,108.9 530.4,107.9 531.0,106.4 531.7,106.0 532.3,104.1 532.6,102.8 532.9,101.0 533.2,99.8 533.5,97.9 533.8,96.5 534.1,95.2 534.6,94.0 535.1,93.5 535.6,90.9 536.1,90.4 536.6,89.5 537.1,88.1 537.6,87.2 538.1,85.6 538.6,84.3 539.1,83.0 540.0,81.8 540.8,80.4 541.7,79.9 542.5,77.9 543.4,77.0 544.2,75.9 545.9,75.4 547.6,75.0 549.3,74.9 550.5,75.3 551.8,76.8 553.0,78.0 554.3,79.0 554.8,80.3 555.3,81.8 555.8,82.7 556.3,83.9 556.9,85.4 557.4,86.8 557.9,87.6 558.4,89.1 558.7,90.0 559.1,91.5 559.4,93.5 559.7,94.8 560.1,95.6 560.4,97.3 560.7,98.8 561.1,100.3 561.4,101.3 561.8,102.5 562.2,104.0 562.6,105.8 563.0,107.5 563.3,108.6 563.7,109.1 564.1,111.0 564.5,112.2 565.2,113.3 565.9,114.6 566.5,115.7 567.2,117.0 567.9,118.4 568.6,120.1 569.2,121.0 569.9,122.2 570.6,123.3 571.8,124.1 573.0,124.7 574.3,125.7 575.5,127.0 576.7,127.4 577.9,127.0 579.1,126.7 580.3,125.6 581.5,124.9 582.7,124.3 583.3,122.6 584.0,121.9 584.6,120.0 585.2,119.7 585.9,117.8 586.5,116.7 587.2,115.1 587.8,114.2 588.2,112.7 588.7,111.2 589.1,110.4 589.6,108.8 590.0,107.0 590.5,106.0 591.1,103.9 591.7,103.0 592.3,101.4 592.9,100.0 593.9,98.7 594.9,98.3 595.9,97.1 596.9,96.2 598.6,95.6 601.0,96.2 601.6,97.4 602.3,98.6 603.2,99.3 604.1,100.3 605.1,101.2 606.0,102.3 606.7,103.0 607.4,104.9 608.2,106.1 608.9,106.7 609.6,108.4 610.2,109.6 610.8,111.1 611.4,112.1 612.0,113.2 612.4,115.0 612.7,115.9 613.1,117.4 613.4,118.4 613.8,119.9 614.1,121.1 614.5,123.0 614.9,124.1 615.3,125.9 615.7,127.4 616.1,129.0 616.5,130.1 616.9,131.5 617.3,132.6 617.7,134.5 618.1,135.7 618.5,137.7 618.9,139.2 619.3,140.0 619.7,141.7 620.1,142.5 620.5,144.1 621.0,145.7 621.4,146.9 621.8,148.5 622.2,150.2 622.7,151.8 623.1,153.3 623.6,154.6 624.3,155.9 625.1,156.9 625.8,158.4 626.7,159.4 627.6,160.8 628.6,162.5 629.5,163.3 630.7,164.8 632.0,165.7 633.2,166.6 634.4,167.5 635.6,168.2 636.8,168.7 638.1,169.4 639.3,169.8 640.5,170.0 642.0,169.7 643.5,170.7 645.0,170.7 646.5,170.8 647.9,170.7 649.2,171.0 650.6,171.0 651.9,171.0 653.3,170.5 654.6,171.1 656.0,171.3 657.3,171.1 658.7,171.2 660.1,170.8 661.4,171.4 662.8,171.5 664.1,171.4 665.5,171.5 666.8,171.4 668.2,171.3 669.5,171.7 670.9,171.6 672.3,171.5 673.7,171.7 675.1,172.6 676.5,171.8 677.8,171.6 679.2,171.1 680.6,171.6 682.0,171.6" fill="none" stroke="#6a3bb0" stroke-width="1.25" stroke-linejoin="round"/>
<path d="M364.0,190.0 365.3,190.0 366.6,189.3 367.9,189.2 369.1,188.4 370.4,189.0 371.7,188.4 373.0,188.3 374.4,188.1 375.7,187.9 377.1,187.1 378.4,187.0 379.8,186.4 381.1,185.9 382.5,185.3 383.8,184.7 385.1,184.0 386.5,184.2 387.9,183.5 389.2,182.7 390.5,181.6 391.8,181.3 393.1,180.0 394.4,179.0 395.7,178.6 396.7,177.8 397.6,175.9 398.6,175.5 399.5,174.1 400.5,172.9 401.2,172.0 401.9,170.7 402.6,169.8 403.3,168.4 404.0,167.3 404.7,166.0 405.4,164.8 406.0,163.8 406.6,162.1 407.2,161.2 407.8,160.0 408.4,158.2 409.0,157.1 409.6,155.5 410.2,154.3 410.7,153.0 411.3,151.9 411.8,150.4 412.4,149.0 412.9,148.0 413.5,146.8 414.0,145.6 414.6,144.5 415.1,143.0 415.6,141.1 416.0,140.6 416.5,138.7 416.9,137.2 417.4,135.9 417.8,134.7 418.3,133.2 418.8,132.0 419.4,130.2 419.9,128.9 420.5,127.0 421.0,126.0 421.5,124.7 422.0,123.3 422.5,121.9 423.0,120.9 423.5,119.9 424.0,118.0 424.5,117.0 425.0,115.1 425.4,114.5 425.9,112.6 426.4,111.4 426.9,110.1 427.3,108.6 427.8,107.6 428.2,106.3 428.7,104.9 429.1,103.5 429.6,102.2 430.1,100.8 430.5,99.6 431.4,98.9 432.2,97.4 433.1,96.6 433.9,95.5 434.8,94.6 435.9,93.6 436.9,92.9 437.9,91.7 439.0,91.3 440.4,91.1 441.9,90.9 443.3,90.4 444.7,90.6 446.2,91.5 447.6,91.3 449.0,91.6 450.4,92.6 451.8,93.2 453.2,93.6 454.6,93.5 456.0,93.7 457.5,94.1 458.9,93.9 460.6,93.1 462.3,92.2 463.3,91.4 464.3,90.8 465.3,89.6 466.4,88.1 467.4,87.5 468.4,87.0 469.4,85.9 470.4,85.0 471.3,83.8 472.3,82.6 473.2,82.3 474.1,81.8 475.0,80.0 476.0,78.8 476.9,78.7 477.8,77.5 478.7,76.6 479.7,75.7 480.6,74.9 481.8,73.9 482.9,73.6 484.1,73.0 485.2,72.1 486.4,71.1 487.5,70.8 488.7,69.8 490.0,69.3 491.2,69.0 492.5,68.0 493.8,67.8 495.2,68.4 496.6,68.8 498.1,69.4 499.5,69.4 500.9,69.8 502.1,70.6 503.2,71.0 504.4,72.1 505.5,72.7 506.7,73.5 507.8,73.7 509.0,74.5 510.4,74.7 511.7,75.6 513.0,76.2 514.4,76.6 515.8,77.6 517.1,78.0 518.5,78.1 519.8,77.8 521.2,77.8 522.5,77.4 523.9,76.8 525.2,76.9 526.2,75.7 527.1,74.8 528.1,74.1 529.0,73.2 530.0,71.9 531.2,71.3 532.4,71.0 533.7,69.8 534.9,69.4 536.1,68.8 537.6,68.9 539.2,68.2 540.7,68.1 542.2,67.4 543.7,67.2 545.2,67.6 546.8,68.2 548.3,68.8 549.5,69.8 550.6,70.7 551.8,70.8 552.9,71.4 554.1,72.1 555.2,72.9 556.4,73.9 557.4,75.1 558.4,75.8 559.4,77.5 560.5,78.2 561.5,78.8 562.5,80.0 563.5,80.9 564.5,82.0 565.4,83.2 566.3,84.3 567.2,84.9 568.1,86.3 569.0,87.2 569.9,88.0 570.8,89.2 571.7,90.3 572.6,91.1 573.8,91.5 575.0,91.9 576.3,93.0 577.5,93.1 578.7,93.6 580.2,93.1 581.8,93.0 583.3,92.1 584.8,92.2 586.3,92.0 587.8,91.4 589.4,91.5 590.9,91.5 592.4,91.4 593.9,92.1 595.4,93.0 596.9,93.2 598.2,93.6 599.5,93.8 600.9,95.1 602.2,94.9 603.5,95.5 604.4,97.0 605.4,97.5 606.3,98.4 607.2,99.9 607.9,101.7 608.6,102.2 609.4,103.8 610.1,105.1 610.8,106.0 611.4,106.8 612.0,108.4 612.6,109.4 613.3,111.0 613.9,112.0 614.5,113.2 615.0,114.3 615.5,116.1 615.9,117.8 616.4,119.0 616.9,120.5 617.4,121.9 617.9,122.8 618.4,124.2 619.0,125.5 619.5,126.7 620.0,128.2 620.5,129.1 621.0,130.6 621.6,131.8 622.1,133.0 622.6,134.0 623.1,134.8 623.7,136.7 624.2,137.6 624.7,139.3 625.2,140.1 625.7,141.2 626.3,142.4 626.8,144.0 627.3,145.0 627.8,146.1 628.4,147.0 629.0,148.5 629.6,149.5 630.3,150.9 630.9,151.9 631.5,153.4 632.0,154.4 632.5,156.3 633.0,157.4 633.4,157.9 633.9,159.3 634.4,160.8 635.2,161.9 636.0,163.1 636.8,164.0 637.6,165.9 638.4,166.4 639.2,168.1 640.2,169.3 641.2,170.3 642.1,170.9 643.1,171.8 644.1,173.0 644.9,174.0 645.7,175.1 646.5,175.4 647.4,176.7 648.2,178.2 649.0,179.1 650.2,179.8 651.4,180.5 652.6,181.1 653.8,182.2 655.0,182.5 656.3,183.0 657.5,184.5 658.7,183.8 660.0,185.2 661.2,185.2 662.7,185.8 664.1,186.2 665.6,186.7 667.0,187.0 668.5,187.6 670.0,188.3 671.4,188.2 672.9,188.3 674.3,188.5 675.8,188.8 677.3,189.1 678.9,189.0 680.5,189.5 682.0,189.8" fill="none" stroke="#b94bb5" stroke-width="1.25" stroke-linejoin="round"/>
<path d="M364.0,192.4 365.4,191.8 366.9,191.8 368.3,191.4 369.7,190.8 371.0,189.8 372.3,189.7 373.6,189.6 374.9,188.4 376.2,188.3 377.5,187.2 378.8,187.0 380.1,185.9 381.4,185.0 382.7,184.3 383.8,183.1 384.9,182.7 385.9,181.7 387.0,181.1 388.1,180.3 389.2,179.4 390.2,178.5 391.1,177.1 392.1,175.9 393.0,174.9 394.0,173.8 394.7,172.6 395.4,171.5 396.1,170.2 396.8,169.1 397.5,167.8 398.2,166.7 398.9,165.7 399.5,164.5 400.1,163.6 400.7,161.9 401.4,161.0 402.0,159.7 402.6,158.4 403.2,157.3 403.8,155.9 404.4,154.5 405.0,153.6 405.6,152.4 406.2,150.0 406.8,149.9 407.4,148.8 408.0,148.0 408.6,146.2 409.1,144.5 409.5,143.5 410.0,142.1 410.5,140.4 411.0,139.6 411.4,138.0 411.9,136.5 412.5,135.0 413.2,133.6 413.8,132.5 414.5,132.0 415.1,130.0 415.6,129.2 416.1,126.5 416.5,125.3 417.0,124.6 417.5,123.0 418.0,121.6 418.5,120.0 419.0,119.0 419.5,117.4 420.0,116.0 420.4,114.8 420.8,113.5 421.2,111.8 421.6,111.2 422.0,109.5 422.5,108.0 423.0,107.0 423.4,105.5 423.9,103.8 424.4,102.5 424.9,101.0 425.5,99.8 426.1,98.0 426.7,97.3 427.3,96.3 427.9,94.5 428.5,93.3 429.1,92.5 429.8,91.6 430.5,90.4 431.2,88.5 432.0,87.9 432.7,86.6 433.4,85.4 434.4,84.8 435.5,83.5 436.6,82.6 437.6,81.8 439.0,81.0 440.5,80.7 441.9,80.1 443.3,79.8 444.7,79.4 446.1,79.4 447.5,79.4 449.0,79.3 450.4,79.8 451.8,79.7 453.2,79.3 454.6,79.1 456.1,79.2 457.5,79.4 458.9,79.5 460.3,79.0 461.5,78.0 462.7,77.6 464.0,76.8 465.2,75.6 466.4,74.9 467.6,74.3 468.7,73.3 469.9,72.3 471.0,71.2 472.2,70.5 473.3,69.3 474.5,68.8 475.5,67.8 476.5,66.9 477.5,66.3 478.6,65.4 479.6,64.2 480.6,63.7 481.6,62.9 482.6,61.7 483.9,61.1 485.1,60.3 486.4,60.1 487.6,58.7 488.9,58.7 490.2,58.4 491.4,58.3 492.7,57.1 494.1,56.7 495.4,57.3 496.8,57.3 498.2,57.1 499.5,55.7 500.9,56.2 502.2,56.5 503.6,56.3 504.9,56.5 506.3,56.1 507.6,56.0 509.0,56.2 510.4,56.3 511.7,56.9 513.0,56.9 514.4,56.7 515.8,57.1 517.1,57.1 518.5,57.0 519.8,56.6 521.2,56.0 522.5,55.5 523.9,55.1 525.2,55.0 526.8,54.4 528.4,53.9 530.0,53.6 531.5,52.6 533.0,52.2 534.6,52.4 536.1,51.6 537.6,50.9 539.2,50.5 540.7,50.5 542.2,50.2 543.4,51.1 544.6,51.5 545.9,51.5 547.1,51.8 548.3,52.6 549.5,53.0 550.7,53.5 551.9,54.2 553.1,55.1 554.3,55.6 555.5,56.2 556.6,57.1 557.8,58.1 559.0,59.1 560.2,59.7 561.3,60.6 562.5,61.7 563.5,62.3 564.5,63.3 565.5,64.5 566.5,65.2 567.6,65.2 568.6,67.2 569.6,67.9 570.6,68.8 571.8,69.4 572.9,70.5 574.1,70.5 575.2,71.8 576.4,73.5 577.5,74.7 578.7,74.9 580.0,76.2 581.2,76.0 582.5,76.8 583.8,77.7 585.0,77.7 586.3,79.2 587.5,79.1 588.8,80.0 590.0,80.7 591.2,80.9 592.5,81.9 593.7,82.4 594.9,83.0 595.9,84.3 596.9,84.7 598.0,86.1 599.0,87.6 600.0,88.1 600.9,88.7 601.7,90.2 602.6,91.2 603.4,91.9 604.3,92.9 605.1,94.4 606.0,95.0 606.9,96.6 607.8,97.6 608.7,98.8 609.6,99.9 610.2,100.8 610.8,102.4 611.4,104.1 612.0,105.1 612.6,105.6 613.2,107.2 613.7,107.8 614.3,109.4 614.8,110.9 615.3,111.9 615.8,113.2 616.4,114.6 616.9,115.7 617.4,117.2 617.9,118.2 618.4,119.7 619.0,120.1 619.5,121.9 620.0,123.1 620.5,124.2 621.0,125.0 621.6,127.0 622.1,127.4 622.6,128.6 623.1,131.1 623.7,131.9 624.2,132.7 624.7,134.0 625.2,135.5 625.7,136.7 626.3,137.2 626.8,138.9 627.3,140.4 627.8,141.2 628.3,142.4 628.9,143.7 629.4,144.7 629.9,146.3 630.4,147.1 631.0,148.3 631.5,149.7 632.0,150.6 632.6,152.0 633.1,153.5 633.7,154.8 634.3,156.1 634.9,157.1 635.5,158.1 636.2,159.7 636.8,161.0 637.4,162.5 638.0,163.3 638.8,164.4 639.6,165.6 640.5,167.1 641.3,168.6 642.1,169.4 642.9,170.6 643.8,171.8 644.7,172.8 645.6,174.2 646.5,175.5 647.5,177.0 648.5,178.2 649.4,179.4 650.4,179.8 651.4,181.5 652.4,182.7 653.4,183.2 654.3,184.6 655.3,184.7 656.3,186.4 657.5,187.2 658.7,187.9 660.0,189.4 661.2,189.9 662.4,190.7 663.6,191.6 664.8,191.6 666.0,192.8 667.3,192.6 668.5,193.8 669.7,193.7 671.2,194.0 672.6,194.3 674.1,195.3 675.5,195.3 677.0,195.9 678.7,196.3 680.3,196.3 682.0,197.1" fill="none" stroke="#2a2a2a" stroke-width="1.25" stroke-linejoin="round"/>
<path d="M364.0,184.3 365.1,183.4 366.3,182.7 367.4,181.6 368.6,181.1 369.7,180.2 371.0,178.7 372.3,178.9 373.6,177.7 374.9,177.4 376.2,176.2 377.4,175.3 378.5,174.4 379.7,173.6 380.8,173.0 382.0,172.3 383.1,171.2 384.3,170.5 385.2,169.1 386.2,168.3 387.1,167.3 388.0,165.3 388.9,164.4 389.9,163.4 390.8,162.4 391.7,161.8 392.7,160.5 393.6,159.2 394.5,157.9 395.4,156.3 396.4,155.8 397.3,154.3 398.1,153.0 398.9,151.6 399.7,151.3 400.6,149.0 401.4,148.7 402.2,147.1 403.0,145.5 403.8,144.6 404.4,143.4 405.0,141.9 405.6,141.0 406.2,139.6 406.8,138.2 407.4,138.1 408.0,136.0 408.6,134.9 409.2,134.0 409.8,132.5 410.4,131.5 410.9,129.7 411.5,128.5 412.1,126.6 412.7,126.4 413.5,125.5 414.3,124.1 415.2,122.4 416.0,121.8 416.8,120.3 417.3,119.2 417.8,118.6 418.3,116.5 418.9,115.5 419.4,114.1 419.9,112.9 420.4,111.4 420.9,110.1 421.5,108.8 422.1,107.9 422.8,106.8 423.4,104.9 424.0,104.0 424.9,102.6 425.9,101.8 426.8,101.2 427.7,99.6 428.3,98.3 428.9,96.7 429.5,96.2 430.2,95.0 430.8,94.1 431.4,92.4 432.0,91.1 432.7,90.5 433.4,88.5 434.1,87.8 434.8,86.4 435.5,84.8 436.2,84.0 437.1,82.8 437.9,82.1 438.8,80.9 439.6,79.3 440.5,78.3 441.4,77.5 442.4,76.2 443.3,75.0 444.2,73.7 445.2,72.5 446.1,71.2 447.2,70.0 448.4,69.2 449.5,68.2 450.7,67.0 451.8,66.2 453.0,65.3 454.2,64.6 455.4,63.8 456.5,63.3 457.7,61.8 458.9,61.3 460.0,60.5 461.2,59.9 462.3,59.0 463.5,58.5 464.6,57.7 465.7,56.8 466.8,56.5 467.9,55.3 469.0,54.2 470.1,54.0 471.2,53.5 472.3,51.6 473.4,51.4 474.5,50.6 475.8,50.0 477.0,49.6 478.3,49.1 479.6,48.0 480.8,46.9 482.1,47.0 483.3,46.4 484.6,45.5 486.0,45.1 487.3,44.5 488.6,43.8 490.0,44.2 491.4,42.6 492.7,42.5 494.1,41.5 495.4,41.8 496.8,41.0 498.2,40.6 499.5,40.0 500.9,39.4 502.3,39.8 503.8,39.5 505.2,38.8 506.7,39.1 508.1,38.3 509.6,38.0 511.0,38.4 512.4,38.7 513.7,38.1 515.0,37.6 516.4,38.1 517.8,37.9 519.1,38.0 520.5,38.6 521.8,38.8 523.2,39.0 524.5,39.4 525.9,40.2 527.2,40.4 528.6,40.3 530.0,40.8 531.3,41.3 532.5,41.4 533.8,42.3 535.0,43.2 536.3,43.3 537.6,43.9 538.8,44.2 540.1,44.5 541.4,44.7 542.6,45.4 543.9,46.0 545.2,46.6 546.5,46.8 547.8,47.7 549.0,47.8 550.3,48.5 551.5,49.3 552.6,50.0 553.8,50.3 554.9,51.7 556.1,52.2 557.2,52.9 558.4,53.6 559.6,54.5 560.7,54.7 561.9,55.8 563.0,56.8 564.2,58.3 565.3,58.7 566.5,59.7 567.5,60.8 568.5,61.2 569.5,62.1 570.5,63.1 571.6,64.5 572.6,64.5 573.6,65.9 574.6,66.8 575.8,67.8 576.9,68.6 578.1,69.4 579.2,70.5 580.4,71.2 581.5,71.7 582.7,72.9 583.7,74.0 584.8,74.4 585.8,75.5 586.8,76.9 587.8,78.1 588.9,78.7 589.9,79.2 590.9,80.0 592.1,80.6 593.2,81.5 594.4,83.1 595.5,83.6 596.7,83.9 597.8,85.7 599.0,86.1 600.0,87.1 601.0,88.2 602.0,88.7 603.0,88.8 604.0,90.0 605.0,91.1 606.1,92.5 607.2,94.0 608.2,95.1 609.1,96.8 610.1,97.3 611.0,98.7 612.0,99.9 612.9,101.1 613.9,102.3 614.8,103.2 615.7,104.7 616.3,105.5 616.9,106.4 617.5,108.5 618.1,109.5 618.7,110.8 619.3,112.0 620.1,112.9 620.9,114.4 621.8,115.4 622.6,116.6 623.4,118.2 624.2,119.3 624.9,120.7 625.6,121.9 626.4,122.9 627.1,124.1 627.8,125.4 628.5,127.0 629.2,128.2 629.9,128.9 630.6,129.9 631.3,131.6 632.0,132.8 632.7,133.9 633.5,134.8 634.3,137.0 635.2,136.9 636.0,138.5 636.8,140.1 637.6,141.2 638.3,142.7 639.0,143.1 639.7,144.7 640.3,146.5 641.0,147.7 641.7,148.4 642.4,149.7 643.0,150.9 643.6,151.9 644.2,153.5 644.8,154.3 645.4,155.3 646.0,156.6 646.6,158.4 647.2,159.2 647.8,160.8 648.5,162.4 649.2,163.6 649.9,164.8 650.6,165.9 651.3,167.2 652.0,168.1 652.8,169.4 653.5,170.8 654.3,171.9 655.1,173.0 656.0,174.5 656.9,175.1 657.8,176.5 658.7,177.9 659.7,178.6 660.7,180.1 661.6,181.0 662.6,181.6 663.6,182.8 664.6,183.5 665.6,184.5 666.5,185.9 667.5,186.6 668.5,187.6 669.7,188.4 670.9,189.1 672.2,190.1 673.4,191.5 674.6,191.9 675.8,192.4 677.1,193.2 678.3,194.6 679.5,195.0 680.8,195.1 682.0,196.2" fill="none" stroke="#3aa6e0" stroke-width="1.25" stroke-linejoin="round"/>
<path d="M364.0,157.2 365.5,157.1 366.9,156.0 368.4,156.1 369.8,154.8 371.3,155.1 372.3,153.7 373.3,153.1 374.2,151.5 375.2,150.3 376.2,149.4 377.4,148.6 378.5,147.8 379.7,146.9 380.8,146.0 382.0,145.9 383.1,145.1 384.3,143.8 385.3,143.0 386.3,141.6 387.3,140.9 388.4,140.1 389.4,139.4 390.4,138.8 391.4,137.3 392.4,136.5 393.3,135.5 394.3,134.4 395.2,133.5 396.1,132.3 397.1,131.6 398.0,130.5 398.9,129.8 399.8,128.3 400.7,127.3 401.6,126.4 403.3,126.8 405.0,126.7 406.7,127.4 407.7,126.7 408.7,124.4 409.7,123.5 410.7,122.3 411.2,120.8 411.7,120.2 412.1,118.4 412.6,117.1 413.1,116.6 413.6,114.7 414.0,113.3 414.5,112.3 415.0,111.0 415.8,109.8 416.6,108.2 417.4,107.0 418.2,105.7 419.0,104.5 419.9,103.5 420.8,102.2 421.6,101.0 422.5,99.4 423.4,98.2 424.3,97.3 425.1,95.9 426.0,95.1 426.8,93.8 427.7,92.5 428.4,91.2 429.1,90.6 429.8,88.6 430.5,87.6 431.2,86.8 432.1,85.3 433.0,84.3 433.9,82.7 434.8,81.8 435.9,80.2 436.9,78.8 437.9,78.2 439.0,76.9 439.9,75.4 440.7,75.0 441.6,73.3 442.4,71.4 443.3,70.5 444.4,69.8 445.5,68.4 446.5,67.6 447.6,66.2 448.5,64.9 449.5,64.7 450.4,63.4 451.3,62.5 452.1,60.8 453.0,59.4 453.9,58.4 454.9,57.3 455.9,56.5 456.9,56.2 457.9,55.0 458.9,53.5 460.0,53.0 461.2,51.4 462.3,50.4 463.5,49.6 464.6,48.5 465.4,47.2 466.1,46.0 466.9,44.8 467.6,44.0 468.4,42.5 469.8,41.8 471.1,41.2 472.4,40.4 473.8,39.7 475.1,39.0 476.5,38.4 477.7,37.9 478.8,36.7 480.0,36.2 481.1,34.9 482.3,34.4 483.4,32.8 484.6,32.3 485.6,31.3 486.6,30.5 487.6,29.4 488.6,28.7 489.7,27.6 490.7,26.9 491.7,25.9 492.7,25.2 494.1,24.9 495.4,24.4 496.8,23.9 498.2,23.7 499.5,23.5 500.9,23.2 502.2,22.4 503.6,22.3 504.9,22.2 506.3,21.3 507.6,21.1 509.0,20.5 510.3,20.4 511.7,19.7 513.0,19.7 514.4,20.5 515.7,21.2 517.0,20.4 518.4,21.7 519.8,21.2 521.1,21.8 522.5,22.2 523.8,21.3 525.2,22.1 526.5,21.8 527.9,21.4 529.2,21.8 530.5,21.9 531.7,22.2 533.0,22.6 534.3,23.3 535.6,23.5 536.8,23.1 538.1,24.2 539.5,24.7 540.9,25.5 542.4,26.0 543.8,27.1 545.2,27.2 546.2,27.7 547.2,29.3 548.3,30.3 549.3,31.5 550.3,32.3 551.0,33.2 551.6,34.6 552.3,36.3 553.0,37.7 553.6,38.5 554.3,40.4 555.6,41.0 556.8,41.5 558.1,42.2 559.4,42.5 559.9,43.0 560.4,45.2 560.9,46.0 561.5,47.4 562.0,49.1 562.5,50.6 563.0,51.4 563.5,52.6 564.8,53.2 566.2,54.3 567.5,54.6 568.1,55.6 568.7,57.2 569.3,58.4 569.8,59.6 570.4,61.2 571.0,63.1 571.6,63.8 572.9,64.6 574.2,65.5 575.4,66.0 576.7,66.8 577.7,68.4 578.7,69.4 579.7,70.4 580.7,71.9 581.7,73.2 582.8,74.8 583.8,75.6 584.8,76.9 585.8,78.3 586.8,78.9 587.8,80.0 588.3,82.1 588.8,83.1 589.3,84.8 589.8,86.1 590.4,87.4 591.0,89.2 591.7,90.3 592.3,91.3 592.9,93.2 593.6,94.5 594.3,95.2 595.0,96.8 595.9,98.3 596.8,99.2 597.7,100.0 598.6,101.1 599.5,102.4 600.5,102.4 601.4,104.7 602.3,105.3 603.0,106.4 603.8,108.2 604.5,110.1 605.3,110.2 606.0,112.0 606.7,113.1 607.4,114.5 608.2,115.8 608.9,116.4 609.6,118.1 610.3,119.0 611.0,121.0 611.8,121.6 612.5,123.1 613.2,124.2 614.1,125.0 615.0,126.4 616.0,127.3 616.9,129.1 617.8,130.4 618.7,131.9 619.6,132.7 620.5,133.9 621.7,134.9 623.0,136.0 624.2,137.0 625.1,138.2 626.0,139.0 626.9,140.3 627.8,141.2 628.7,143.0 629.6,144.3 630.6,144.7 631.5,146.1 632.1,147.0 632.7,149.2 633.2,150.1 633.8,151.4 634.4,152.3 635.3,153.7 636.2,154.7 637.1,156.3 638.0,157.2 639.2,158.4 640.5,159.4 641.7,159.6 642.9,160.8 644.1,162.0 645.3,162.5 646.6,163.5 647.8,164.5 649.0,165.7 650.2,166.5 651.4,168.4 652.6,168.8 653.8,169.8 655.1,170.5 656.3,171.2 657.5,171.6 658.8,172.2 660.0,172.5 661.2,173.0 662.4,173.7 663.6,174.3 664.8,174.8 666.0,174.6 667.2,175.5 668.4,176.0 669.6,176.7 670.9,176.9 672.1,178.0 673.3,178.5 674.5,179.1 675.8,179.7 677.0,180.4 678.2,180.9 679.5,181.5 680.7,183.0 682.0,183.4" fill="none" stroke="#e8322c" stroke-width="1.25" stroke-linejoin="round"/>
<text x="556.4" y="34.4" font-size="10.1" fill="#e8322c">×0.5</text>
<line x1="629" y1="24.2" x2="639" y2="24.2" stroke="#e8322c" stroke-width="1.3"/>
<text x="644.3" y="28.0" font-size="10.6" fill="#3a3a3a">1 T</text>
<line x1="629" y1="35.5" x2="639" y2="35.5" stroke="#3aa6e0" stroke-width="1.3"/>
<text x="644.3" y="39.3" font-size="10.6" fill="#3a3a3a">2 T</text>
<line x1="629" y1="46.9" x2="639" y2="46.9" stroke="#2a2a2a" stroke-width="1.3"/>
<text x="644.3" y="50.7" font-size="10.6" fill="#3a3a3a">2.5 T</text>
<line x1="629" y1="58.2" x2="639" y2="58.2" stroke="#b94bb5" stroke-width="1.3"/>
<text x="644.3" y="62.0" font-size="10.6" fill="#3a3a3a">3 T</text>
<line x1="629" y1="69.6" x2="639" y2="69.6" stroke="#6a3bb0" stroke-width="1.3"/>
<text x="644.3" y="73.4" font-size="10.6" fill="#3a3a3a">5 T</text>
<line x1="629" y1="81.0" x2="639" y2="81.0" stroke="#c98a3a" stroke-width="1.3"/>
<text x="644.3" y="84.8" font-size="10.6" fill="#3a3a3a">8 T</text>
<line x1="629" y1="92.3" x2="639" y2="92.3" stroke="#3a7d47" stroke-width="1.3"/>
<text x="644.3" y="96.1" font-size="10.6" fill="#3a3a3a">10 T</text>
<line x1="629" y1="103.7" x2="639" y2="103.7" stroke="#3465b8" stroke-width="1.3"/>
<text x="644.3" y="107.5" font-size="10.6" fill="#3a3a3a">12 T</text>
<line x1="551" y1="197.8" x2="594" y2="197.8" stroke="#222" stroke-width="1.1"/>
<path d="M548.3,197.8 L553.3,195.3 L552,197.8 L553.3,200.3 Z" fill="#222"/>
<path d="M597,197.8 L592,195.3 L593.3,197.8 L592,200.3 Z" fill="#222"/>
<text x="572.5" y="194.8" font-size="10.8" text-anchor="middle" fill="#333">δ<tspan font-style="italic">D/B</tspan></text>
<text transform="translate(356.3,110.5) rotate(-90)" font-size="11.5" text-anchor="middle" fill="#333"><tspan font-style="italic">R</tspan> (a.u.)</text>
<text x="523.2" y="242.1" font-size="12" text-anchor="middle" textLength="90.3" lengthAdjust="spacingAndGlyphs" fill="#333">(<tspan font-style="italic">D</tspan> – <tspan font-style="italic">D</tspan><tspan font-size="8.2" dy="3.2">0</tspan><tspan dy="-3.2">)</tspan><tspan font-style="italic">/</tspan><tspan font-style="italic">B</tspan> (e<tspan font-size="8" dy="-5.2">2</tspan><tspan dy="5.2" font-style="italic">/</tspan><tspan font-style="italic">h</tspan>)</text>
<text x="321.5" y="12.7" font-size="16.3" font-weight="bold" fill="#111" stroke="#111" stroke-width="0.9">b</text>
<line x1="359" y1="262.5" x2="682.6" y2="262.5" stroke="#9a9a9a" stroke-width="1.1"/>
<line x1="363.9" y1="262.5" x2="363.9" y2="449" stroke="#8e8e8e" stroke-width="1.1"/>
<line x1="682.6" y1="262.5" x2="682.6" y2="449" stroke="#a0a0a0" stroke-width="1.1"/>
<line x1="359" y1="449" x2="682.6" y2="449" stroke="#999" stroke-width="1.2"/>
<line x1="359" y1="355.9" x2="682.6" y2="355.9" stroke="#a8a8a8" stroke-width="1.3"/>
<text x="353.8" y="266.2" font-size="10.5" text-anchor="end" fill="#333">2</text>
<text x="353.8" y="359.6" font-size="10.5" text-anchor="end" fill="#333">1</text>
<text x="353.8" y="452.7" font-size="10.5" text-anchor="end" fill="#333">0</text>
<line x1="364.2" y1="449" x2="364.2" y2="454" stroke="#777" stroke-width="1"/>
<text x="364.2" y="468.1" font-size="10.3" text-anchor="middle" fill="#333">0</text>
<line x1="415.7" y1="449" x2="415.7" y2="454" stroke="#777" stroke-width="1"/>
<text x="415.7" y="468.1" font-size="10.3" text-anchor="middle" fill="#333">2</text>
<line x1="467.2" y1="449" x2="467.2" y2="454" stroke="#777" stroke-width="1"/>
<text x="467.2" y="468.1" font-size="10.3" text-anchor="middle" fill="#333">4</text>
<line x1="518.6" y1="449" x2="518.6" y2="454" stroke="#777" stroke-width="1"/>
<text x="518.6" y="468.1" font-size="10.3" text-anchor="middle" fill="#333">6</text>
<line x1="570.1" y1="449" x2="570.1" y2="454" stroke="#777" stroke-width="1"/>
<text x="570.1" y="468.1" font-size="10.3" text-anchor="middle" fill="#333">8</text>
<line x1="621.6" y1="449" x2="621.6" y2="454" stroke="#777" stroke-width="1"/>
<text x="621.6" y="468.1" font-size="10.3" text-anchor="middle" fill="#333">10</text>
<line x1="673.1" y1="449" x2="673.1" y2="454" stroke="#777" stroke-width="1"/>
<text x="673.1" y="468.1" font-size="10.3" text-anchor="middle" fill="#333">12</text>
<line x1="441.4" y1="352.4" x2="441.4" y2="358.8" stroke="#4a74c4" stroke-width="0.8"/>
<line x1="439.9" y1="352.4" x2="442.9" y2="352.4" stroke="#4a74c4" stroke-width="0.7"/>
<line x1="439.9" y1="358.8" x2="442.9" y2="358.8" stroke="#4a74c4" stroke-width="0.7"/>
<circle cx="441.4" cy="355.6" r="4.4" fill="none" stroke="#e8252a" stroke-width="1.2"/>
<line x1="492.9" y1="354.5" x2="492.9" y2="356.3" stroke="#4a74c4" stroke-width="0.8"/>
<line x1="491.4" y1="354.5" x2="494.4" y2="354.5" stroke="#4a74c4" stroke-width="0.7"/>
<line x1="491.4" y1="356.3" x2="494.4" y2="356.3" stroke="#4a74c4" stroke-width="0.7"/>
<circle cx="492.9" cy="355.4" r="4.4" fill="none" stroke="#e8252a" stroke-width="1.2"/>
<line x1="570.1" y1="352.9" x2="570.1" y2="355.7" stroke="#4a74c4" stroke-width="0.8"/>
<line x1="568.6" y1="352.9" x2="571.6" y2="352.9" stroke="#4a74c4" stroke-width="0.7"/>
<line x1="568.6" y1="355.7" x2="571.6" y2="355.7" stroke="#4a74c4" stroke-width="0.7"/>
<circle cx="570.1" cy="354.3" r="4.4" fill="none" stroke="#e8252a" stroke-width="1.2"/>
<line x1="621.6" y1="354.7" x2="621.6" y2="357.5" stroke="#4a74c4" stroke-width="0.8"/>
<line x1="620.1" y1="354.7" x2="623.1" y2="354.7" stroke="#4a74c4" stroke-width="0.7"/>
<line x1="620.1" y1="357.5" x2="623.1" y2="357.5" stroke="#4a74c4" stroke-width="0.7"/>
<circle cx="621.6" cy="356.1" r="4.4" fill="none" stroke="#e8252a" stroke-width="1.2"/>
<line x1="673.1" y1="352.1" x2="673.1" y2="355.3" stroke="#4a74c4" stroke-width="0.8"/>
<line x1="671.6" y1="352.1" x2="674.6" y2="352.1" stroke="#4a74c4" stroke-width="0.7"/>
<line x1="671.6" y1="355.3" x2="674.6" y2="355.3" stroke="#4a74c4" stroke-width="0.7"/>
<circle cx="673.1" cy="353.7" r="4.4" fill="none" stroke="#e8252a" stroke-width="1.2"/>
<path d="M456,377.6 C440,376 425,372 418.2,360.8" fill="none" stroke="#222" stroke-width="1.1"/>
<path d="M416.2,356.6 L420.2,361.2 L418.3,360.6 L416.5,362.3 Z" fill="#222" stroke="#222" stroke-width="0.6"/>
<text x="457.6" y="383.2" font-size="11" fill="#333">e<tspan font-size="6.5" dy="-5.2">2</tspan><tspan dy="5.2" font-style="italic">/h</tspan></text>
<text transform="translate(337.4,354) rotate(-90)" font-size="11" text-anchor="middle" textLength="58.5" lengthAdjust="spacingAndGlyphs" fill="#333">δ<tspan font-style="italic">D/B</tspan> (e<tspan font-size="7.5" dy="-5">2</tspan><tspan dy="5" font-style="italic">/</tspan><tspan font-style="italic">h</tspan>)</text>
<text x="523.4" y="486" font-size="11.5" text-anchor="middle" fill="#333"><tspan font-style="italic">B</tspan> (T)</text>
<text x="321.5" y="258" font-size="16" font-weight="bold" fill="#111" stroke="#111" stroke-width="0.9" transform="translate(321.5,0) scale(1.12,1) translate(-321.5,0)">c</text>
</svg>
</body></html>
